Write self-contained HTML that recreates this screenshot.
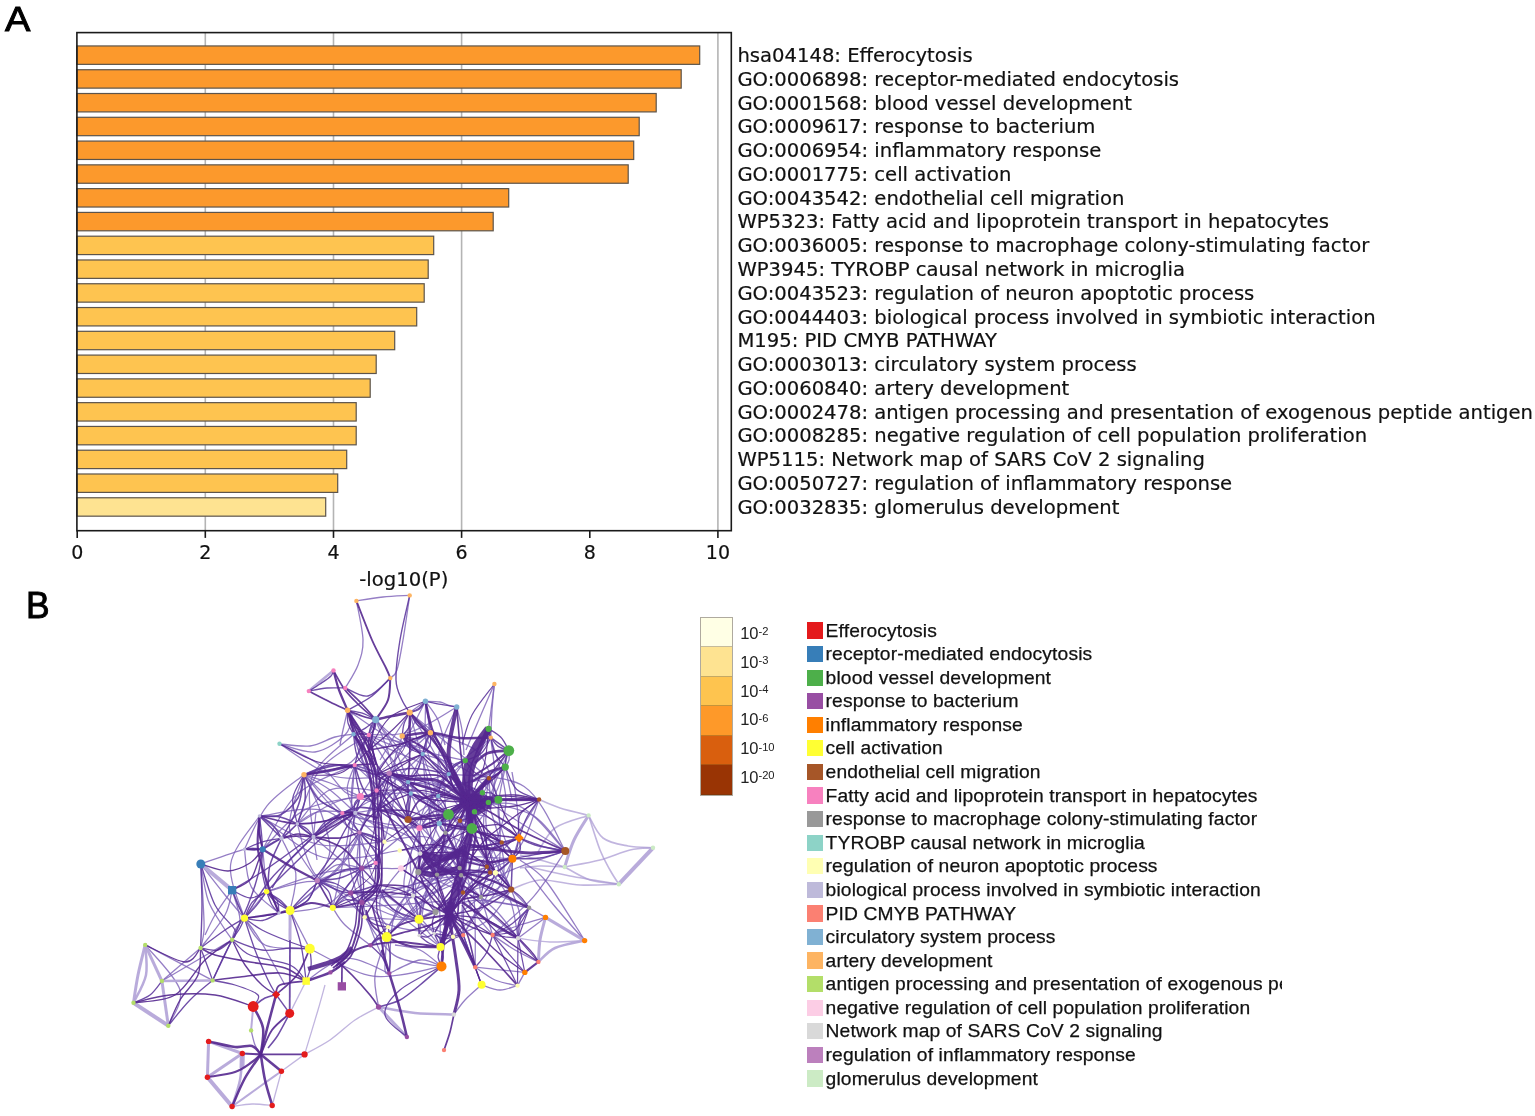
<!DOCTYPE html>
<html lang="en"><head><meta charset="utf-8"><title>Figure</title>
<style>
html,body{margin:0;padding:0;background:#fff;}
body{width:1535px;height:1116px;position:relative;overflow:hidden;font-family:"Liberation Sans",sans-serif;color:#000;}
.abs{position:absolute;white-space:nowrap;}
.panel{font-family:"Liberation Sans",sans-serif;font-size:35.6px;line-height:36px;-webkit-text-stroke:0.95px #000;}
.dv{font-family:"DejaVu Sans","Liberation Sans",sans-serif;font-size:19.6px;line-height:24px;color:#111;-webkit-text-stroke:0.2px #111;}
#ylabels{left:737.4px;top:44.1px;}
#ylabels div{height:23.78px;line-height:23.78px;}
.tick{font-size:19px;transform:translateX(-50%);}
#legend{left:807px;top:618.6px;width:475px;overflow:hidden;font-size:19.25px;letter-spacing:0.12px;color:#111;-webkit-text-stroke:0.25px #111;}
#legend div{height:23.58px;line-height:23.58px;position:relative;padding-left:18.6px;white-space:nowrap;}
#legend i{position:absolute;left:0;top:3.8px;width:15.6px;height:16.2px;display:block;}
#cbar{left:731px;top:640px;font-size:15px;}
svg{position:absolute;left:0;top:0;}
</style></head><body>

<svg width="1535" height="1116" viewBox="0 0 1535 1116">
<rect x="76.9" y="32.6" width="654.4" height="498.1" fill="#fff"/>
<line x1="205.3" y1="32.6" x2="205.3" y2="530.7" stroke="#b4b4b4" stroke-width="1.6"/>
<line x1="333.5" y1="32.6" x2="333.5" y2="530.7" stroke="#b4b4b4" stroke-width="1.6"/>
<line x1="461.6" y1="32.6" x2="461.6" y2="530.7" stroke="#b4b4b4" stroke-width="1.6"/>
<line x1="717.9" y1="32.6" x2="717.9" y2="530.7" stroke="#b4b4b4" stroke-width="1.6"/>
<rect x="76.9" y="45.95" width="622.8" height="18.4" fill="#fc992c" stroke="#5c544b" stroke-width="1.2"/>
<rect x="76.9" y="69.73" width="604.3" height="18.4" fill="#fc992c" stroke="#5c544b" stroke-width="1.2"/>
<rect x="76.9" y="93.51" width="579.3" height="18.4" fill="#fc992c" stroke="#5c544b" stroke-width="1.2"/>
<rect x="76.9" y="117.29" width="562.3" height="18.4" fill="#fc992c" stroke="#5c544b" stroke-width="1.2"/>
<rect x="76.9" y="141.07" width="556.8" height="18.4" fill="#fc992c" stroke="#5c544b" stroke-width="1.2"/>
<rect x="76.9" y="164.85" width="551.3" height="18.4" fill="#fc992c" stroke="#5c544b" stroke-width="1.2"/>
<rect x="76.9" y="188.63" width="431.8" height="18.4" fill="#fc992c" stroke="#5c544b" stroke-width="1.2"/>
<rect x="76.9" y="212.41" width="416.3" height="18.4" fill="#fc992c" stroke="#5c544b" stroke-width="1.2"/>
<rect x="76.9" y="236.19" width="356.8" height="18.4" fill="#fec450" stroke="#5c544b" stroke-width="1.2"/>
<rect x="76.9" y="259.97" width="351.3" height="18.4" fill="#fec450" stroke="#5c544b" stroke-width="1.2"/>
<rect x="76.9" y="283.75" width="347.3" height="18.4" fill="#fec450" stroke="#5c544b" stroke-width="1.2"/>
<rect x="76.9" y="307.53" width="339.8" height="18.4" fill="#fec450" stroke="#5c544b" stroke-width="1.2"/>
<rect x="76.9" y="331.31" width="317.8" height="18.4" fill="#fec450" stroke="#5c544b" stroke-width="1.2"/>
<rect x="76.9" y="355.09" width="299.3" height="18.4" fill="#fec450" stroke="#5c544b" stroke-width="1.2"/>
<rect x="76.9" y="378.87" width="293.3" height="18.4" fill="#fec450" stroke="#5c544b" stroke-width="1.2"/>
<rect x="76.9" y="402.65" width="279.3" height="18.4" fill="#fec450" stroke="#5c544b" stroke-width="1.2"/>
<rect x="76.9" y="426.43" width="279.3" height="18.4" fill="#fec450" stroke="#5c544b" stroke-width="1.2"/>
<rect x="76.9" y="450.21" width="269.8" height="18.4" fill="#fec450" stroke="#5c544b" stroke-width="1.2"/>
<rect x="76.9" y="473.99" width="260.8" height="18.4" fill="#fec450" stroke="#5c544b" stroke-width="1.2"/>
<rect x="76.9" y="497.77" width="248.8" height="18.4" fill="#fee391" stroke="#5c544b" stroke-width="1.2"/>
<rect x="76.9" y="32.6" width="654.4" height="498.1" fill="none" stroke="#1a1a1a" stroke-width="1.6"/>
<line x1="77.2" y1="530.7" x2="77.2" y2="537.9000000000001" stroke="#1a1a1a" stroke-width="1.6"/>
<line x1="205.3" y1="530.7" x2="205.3" y2="537.9000000000001" stroke="#1a1a1a" stroke-width="1.6"/>
<line x1="333.5" y1="530.7" x2="333.5" y2="537.9000000000001" stroke="#1a1a1a" stroke-width="1.6"/>
<line x1="461.6" y1="530.7" x2="461.6" y2="537.9000000000001" stroke="#1a1a1a" stroke-width="1.6"/>
<line x1="589.8" y1="530.7" x2="589.8" y2="537.9000000000001" stroke="#1a1a1a" stroke-width="1.6"/>
<line x1="717.9" y1="530.7" x2="717.9" y2="537.9000000000001" stroke="#1a1a1a" stroke-width="1.6"/>
<defs><filter id="nb" x="-5%" y="-5%" width="110%" height="110%"><feGaussianBlur stdDeviation="0.45"/></filter></defs><g filter="url(#nb)"><g fill="none" stroke-linecap="butt" stroke-linejoin="round">
<path d="M378.6 1007.0C374.7 1009.2 363.1 1014.5 355.0 1020.0C346.9 1025.5 338.4 1034.3 330.0 1040.0C321.6 1045.7 308.8 1052.0 304.6 1054.4" stroke="#a796d2" stroke-width="1.4" stroke-opacity="0.7"/>
<path d="M584.6 940.6C578.8 940.8 561.1 942.4 550.0 942.0C538.9 941.6 523.3 938.9 518.0 938.3" stroke="#a796d2" stroke-width="1.4" stroke-opacity="0.7"/>
<path d="M588.6 815.4C591.0 819.2 596.4 832.9 603.0 838.0C609.6 843.1 619.7 844.4 628.0 846.0C636.3 847.6 648.8 847.5 653.0 847.8" stroke="#a796d2" stroke-width="1.6" stroke-opacity="0.7"/>
<path d="M588.6 815.4C590.5 821.2 596.4 840.9 600.0 850.0C603.6 859.1 606.9 864.3 610.0 870.0C613.1 875.7 617.3 881.8 618.8 884.2" stroke="#a796d2" stroke-width="1.6" stroke-opacity="0.7"/>
<path d="M564.7 867.0C570.6 865.8 589.1 862.8 600.0 860.0C610.9 857.2 621.2 852.0 630.0 850.0C638.8 848.0 649.2 848.2 653.0 847.8" stroke="#a796d2" stroke-width="1.6" stroke-opacity="0.7"/>
<path d="M564.7 867.0C568.9 869.2 581.0 877.1 590.0 880.0C599.0 882.9 614.0 883.5 618.8 884.2" stroke="#a796d2" stroke-width="1.6" stroke-opacity="0.7"/>
<path d="M588.6 815.4C583.8 814.2 568.2 810.6 560.0 808.0C551.8 805.4 542.6 800.9 539.1 799.5" stroke="#a796d2" stroke-width="1.6" stroke-opacity="0.7"/>
<path d="M588.6 815.4C583.0 817.5 563.4 821.9 555.0 828.0C546.6 834.1 540.8 848.0 538.0 852.0" stroke="#a796d2" stroke-width="1.6" stroke-opacity="0.7"/>
<path d="M564.7 867.0C560.6 866.8 547.5 865.8 540.0 866.0C532.5 866.2 523.3 867.7 520.0 868.0" stroke="#a796d2" stroke-width="1.6" stroke-opacity="0.7"/>
<path d="M618.8 884.2C610.7 882.8 585.6 879.0 570.0 876.0C554.4 873.0 532.5 867.7 525.0 866.0" stroke="#a796d2" stroke-width="1.6" stroke-opacity="0.7"/>
<path d="M564.7 867.0C560.6 865.8 547.5 862.0 540.0 860.0C532.5 858.0 523.3 855.8 520.0 855.0" stroke="#a796d2" stroke-width="1.6" stroke-opacity="0.7"/>
<path d="M618.8 884.2C612.3 884.3 593.1 885.7 580.0 885.0C566.9 884.3 551.5 879.2 540.0 880.0C528.5 880.8 516.0 887.9 511.2 889.5" stroke="#a796d2" stroke-width="1.6" stroke-opacity="0.7"/>
<path d="M232.1 1106.5C235.4 1106.1 245.3 1104.2 252.0 1104.0C258.7 1103.8 268.8 1105.2 272.2 1105.5" stroke="#a796d2" stroke-width="1.3" stroke-opacity="0.7"/>
<path d="M281.4 1071.3L272.2 1105.5" stroke="#a796d2" stroke-width="1.3" stroke-opacity="0.7"/>
<path d="M304.6 1054.4C306.8 1047.0 314.6 1021.6 318.0 1010.0C321.4 998.4 323.8 989.2 325.0 985.0" stroke="#a796d2" stroke-width="1.3" stroke-opacity="0.7"/>
<path d="M304.6 1054.4L281.4 1071.3" stroke="#a796d2" stroke-width="1.3" stroke-opacity="0.7"/>
<path d="M306.1 981.0L289.7 1013.4" stroke="#a796d2" stroke-width="1.3" stroke-opacity="0.7"/>
<path d="M409.7 595.4C408.6 602.8 405.1 627.6 403.0 640.0C400.9 652.4 399.1 663.6 397.0 670.0C394.9 676.4 391.4 676.8 390.3 678.1" stroke="#7b5eb7" stroke-width="1.3" stroke-opacity="0.8"/>
<path d="M356.4 600.9C360.8 600.2 374.1 597.9 383.0 597.0C391.9 596.1 405.2 595.7 409.7 595.4" stroke="#7b5eb7" stroke-width="1.3" stroke-opacity="0.8"/>
<path d="M356.4 600.9C357.5 607.4 362.7 629.3 363.0 640.0C363.3 650.7 360.9 657.0 358.0 665.0C355.1 673.0 347.4 684.2 345.3 688.0" stroke="#7b5eb7" stroke-width="1.3" stroke-opacity="0.8"/>
<path d="M494.4 684.0L488.6 728.8" stroke="#7b5eb7" stroke-width="1.3" stroke-opacity="0.8"/>
<path d="M494.4 684.0C492.5 688.3 487.7 699.0 483.0 710.0C478.3 721.0 468.8 743.3 466.0 750.0" stroke="#7b5eb7" stroke-width="1.3" stroke-opacity="0.8"/>
<path d="M494.4 684.0C494.0 688.3 492.6 701.1 492.0 710.0C491.4 718.9 491.0 733.0 490.8 737.6" stroke="#7b5eb7" stroke-width="1.3" stroke-opacity="0.8"/>
<path d="M425.4 701.3C427.8 701.4 436.2 701.4 440.0 702.0C443.8 702.6 445.2 704.2 448.0 705.0C450.8 705.8 455.2 706.7 456.7 707.0" stroke="#7b5eb7" stroke-width="1.3" stroke-opacity="0.8"/>
<path d="M425.4 701.3L409.7 712.5" stroke="#7b5eb7" stroke-width="1.3" stroke-opacity="0.8"/>
<path d="M425.4 701.3L430.4 732.8" stroke="#7b5eb7" stroke-width="1.3" stroke-opacity="0.8"/>
<path d="M425.4 701.3C427.5 704.4 434.7 712.7 438.0 720.0C441.3 727.3 443.8 740.8 445.0 745.0" stroke="#7b5eb7" stroke-width="1.3" stroke-opacity="0.8"/>
<path d="M456.7 707.0C457.6 710.8 460.8 722.0 462.0 730.0C463.2 738.0 463.7 750.8 464.0 755.0" stroke="#7b5eb7" stroke-width="1.3" stroke-opacity="0.8"/>
<path d="M505.3 767.1C506.1 770.9 508.9 784.5 510.0 790.0C511.1 795.5 511.7 798.3 512.0 800.0" stroke="#7b5eb7" stroke-width="1.3" stroke-opacity="0.8"/>
<path d="M508.8 750.6C508.8 752.2 509.6 757.2 509.0 760.0C508.4 762.8 505.9 765.9 505.3 767.1" stroke="#7b5eb7" stroke-width="1.3" stroke-opacity="0.8"/>
<path d="M422.7 754.0L408.1 782.1" stroke="#7b5eb7" stroke-width="1.3" stroke-opacity="0.8"/>
<path d="M422.7 754.0L410.8 793.5" stroke="#7b5eb7" stroke-width="1.3" stroke-opacity="0.8"/>
<path d="M422.7 754.0L402.2 736.0" stroke="#7b5eb7" stroke-width="1.3" stroke-opacity="0.8"/>
<path d="M422.7 754.0L430.4 732.8" stroke="#7b5eb7" stroke-width="1.3" stroke-opacity="0.8"/>
<path d="M375.7 719.7C378.4 722.2 384.2 729.3 392.0 735.0C399.8 740.7 417.6 750.8 422.7 754.0" stroke="#7b5eb7" stroke-width="1.3" stroke-opacity="0.8"/>
<path d="M375.7 719.7C378.9 724.8 389.6 739.6 395.0 750.0C400.4 760.4 405.9 776.8 408.1 782.1" stroke="#7b5eb7" stroke-width="1.3" stroke-opacity="0.8"/>
<path d="M368.8 735.0C371.5 737.5 378.4 742.1 385.0 750.0C391.6 757.9 404.2 776.8 408.1 782.1" stroke="#7b5eb7" stroke-width="1.3" stroke-opacity="0.8"/>
<path d="M409.7 712.5C407.2 716.2 399.9 727.1 395.0 735.0C390.1 742.9 382.5 755.8 380.0 760.0" stroke="#7b5eb7" stroke-width="1.3" stroke-opacity="0.8"/>
<path d="M279.5 743.8C284.6 744.2 300.8 747.1 310.0 746.0C319.2 744.9 327.8 739.0 335.0 737.0C342.2 735.0 350.4 734.7 353.5 734.2" stroke="#7b5eb7" stroke-width="1.3" stroke-opacity="0.8"/>
<path d="M279.5 743.8C286.2 747.3 309.1 757.0 320.0 765.0C330.9 773.0 338.3 786.8 345.0 792.0C351.7 797.2 357.8 795.8 360.3 796.5" stroke="#7b5eb7" stroke-width="1.3" stroke-opacity="0.8"/>
<path d="M279.5 743.8C285.4 745.2 304.1 753.5 315.0 752.0C325.9 750.5 338.8 741.2 345.0 735.0C351.2 728.8 351.6 719.1 352.0 715.0C352.4 710.9 348.3 711.1 347.6 710.3" stroke="#7b5eb7" stroke-width="1.3" stroke-opacity="0.8"/>
<path d="M279.5 743.8C287.9 749.0 314.9 769.3 330.0 775.0C345.1 780.7 363.3 777.5 370.0 778.0" stroke="#7b5eb7" stroke-width="1.3" stroke-opacity="0.8"/>
<path d="M347.6 710.3C346.8 713.6 344.3 724.2 343.0 730.0C341.7 735.8 340.5 742.5 340.0 745.0" stroke="#7b5eb7" stroke-width="1.3" stroke-opacity="0.8"/>
<path d="M304.0 774.7C306.7 778.9 313.6 793.6 320.0 800.0C326.4 806.4 338.6 810.9 342.3 813.1" stroke="#7b5eb7" stroke-width="1.3" stroke-opacity="0.8"/>
<path d="M304.0 774.7C308.3 777.2 321.4 783.6 330.0 790.0C338.6 796.4 351.1 809.1 355.3 812.9" stroke="#7b5eb7" stroke-width="1.3" stroke-opacity="0.8"/>
<path d="M304.0 774.7C309.2 779.8 325.8 795.4 335.0 805.0C344.2 814.6 355.4 827.8 359.5 832.4" stroke="#7b5eb7" stroke-width="1.3" stroke-opacity="0.8"/>
<path d="M304.0 774.7C308.3 776.1 320.6 779.4 330.0 783.0C339.4 786.6 355.2 794.2 360.3 796.5" stroke="#7b5eb7" stroke-width="1.3" stroke-opacity="0.8"/>
<path d="M304.0 774.7C306.7 780.6 315.7 797.5 320.0 810.0C324.3 822.5 330.4 838.2 330.0 850.0C329.6 861.8 319.4 875.5 317.3 880.6" stroke="#7b5eb7" stroke-width="1.3" stroke-opacity="0.8"/>
<path d="M519.1 837.9C518.9 834.1 518.7 823.0 518.0 815.0C517.3 807.0 516.0 797.2 515.0 790.0C514.0 782.8 512.5 775.0 512.0 772.0" stroke="#7b5eb7" stroke-width="1.3" stroke-opacity="0.8"/>
<path d="M481.6 984.8C478.8 987.3 469.6 995.0 465.0 1000.0C460.4 1005.0 455.8 1012.1 453.9 1014.5" stroke="#7b5eb7" stroke-width="1.3" stroke-opacity="0.8"/>
<path d="M386.7 937.1C386.4 942.6 384.6 964.0 385.0 970.0C385.4 976.0 388.6 972.8 389.3 973.4" stroke="#7b5eb7" stroke-width="1.3" stroke-opacity="0.8"/>
<path d="M386.7 937.1C384.8 943.4 376.4 963.4 375.0 975.0C373.6 986.6 378.0 1001.7 378.6 1007.0" stroke="#7b5eb7" stroke-width="1.3" stroke-opacity="0.8"/>
<path d="M389.3 973.4C394.4 971.2 411.3 961.2 420.0 960.0C428.7 958.8 437.9 965.3 441.5 966.4" stroke="#7b5eb7" stroke-width="1.3" stroke-opacity="0.8"/>
<path d="M441.5 966.4C437.9 963.7 427.8 953.6 420.0 950.0C412.2 946.4 399.2 945.8 395.0 945.0" stroke="#7b5eb7" stroke-width="1.3" stroke-opacity="0.8"/>
<path d="M545.5 917.4L529.1 907.8" stroke="#7b5eb7" stroke-width="1.3" stroke-opacity="0.8"/>
<path d="M525.0 868.0C529.5 873.8 542.1 890.9 552.0 903.0C561.9 915.1 579.2 934.3 584.6 940.6" stroke="#7b5eb7" stroke-width="1.3" stroke-opacity="0.8"/>
<path d="M520.0 860.0C524.2 863.3 535.8 869.2 545.0 880.0C554.2 890.8 568.4 914.9 575.0 925.0C581.6 935.1 583.0 938.0 584.6 940.6" stroke="#7b5eb7" stroke-width="1.3" stroke-opacity="0.8"/>
<path d="M524.8 972.4L517.5 985.6" stroke="#7b5eb7" stroke-width="1.3" stroke-opacity="0.8"/>
<path d="M517.5 985.6C514.6 986.3 506.0 990.1 500.0 990.0C494.0 989.9 484.7 985.7 481.6 984.8" stroke="#7b5eb7" stroke-width="1.3" stroke-opacity="0.8"/>
<path d="M511.2 889.5L529.1 907.8" stroke="#7b5eb7" stroke-width="1.3" stroke-opacity="0.8"/>
<path d="M511.2 889.5C512.7 893.8 518.9 906.9 520.0 915.0C521.1 923.1 518.3 934.4 518.0 938.3" stroke="#7b5eb7" stroke-width="1.3" stroke-opacity="0.8"/>
<path d="M481.0 897.0L492.6 935.0" stroke="#7b5eb7" stroke-width="1.3" stroke-opacity="0.8"/>
<path d="M481.0 897.0C484.2 900.0 493.8 908.1 500.0 915.0C506.2 921.9 515.0 934.4 518.0 938.3" stroke="#7b5eb7" stroke-width="1.3" stroke-opacity="0.8"/>
<path d="M545.5 917.4C541.2 918.7 528.8 922.1 520.0 925.0C511.2 927.9 497.2 933.3 492.6 935.0" stroke="#7b5eb7" stroke-width="1.3" stroke-opacity="0.8"/>
<path d="M545.5 917.4L518.0 938.3" stroke="#7b5eb7" stroke-width="1.3" stroke-opacity="0.8"/>
<path d="M492.6 935.0C496.3 937.5 507.4 945.5 515.0 950.0C522.6 954.5 534.5 959.9 538.4 961.9" stroke="#7b5eb7" stroke-width="1.3" stroke-opacity="0.8"/>
<path d="M463.2 935.1L475.3 967.2" stroke="#7b5eb7" stroke-width="1.3" stroke-opacity="0.8"/>
<path d="M475.3 967.2L524.8 972.4" stroke="#7b5eb7" stroke-width="1.3" stroke-opacity="0.8"/>
<path d="M475.3 967.2C478.6 969.3 488.0 976.9 495.0 980.0C502.0 983.1 513.8 984.7 517.5 985.6" stroke="#7b5eb7" stroke-width="1.3" stroke-opacity="0.8"/>
<path d="M200.8 864.0C208.1 861.5 234.2 851.8 244.5 849.3C254.8 846.8 259.7 849.3 262.7 849.3" stroke="#7b5eb7" stroke-width="1.3" stroke-opacity="0.8"/>
<path d="M200.8 864.0C201.2 870.0 202.5 889.0 203.0 900.0C203.5 911.0 204.4 922.0 204.0 930.0C203.6 938.0 201.2 945.0 200.6 948.0" stroke="#7b5eb7" stroke-width="1.3" stroke-opacity="0.8"/>
<path d="M200.8 864.0C202.0 870.0 204.5 889.8 208.0 900.0C211.5 910.2 218.0 918.4 222.0 925.0C226.0 931.6 230.4 937.2 232.1 939.7" stroke="#7b5eb7" stroke-width="1.3" stroke-opacity="0.8"/>
<path d="M232.1 890.1L244.5 918.2" stroke="#7b5eb7" stroke-width="1.3" stroke-opacity="0.8"/>
<path d="M232.1 890.1C230.9 894.2 230.2 905.4 225.0 915.0C219.8 924.6 204.7 942.5 200.6 948.0" stroke="#7b5eb7" stroke-width="1.3" stroke-opacity="0.8"/>
<path d="M232.1 890.1C229.2 894.2 219.5 907.5 215.0 915.0C210.5 922.5 206.7 931.7 205.0 935.0" stroke="#7b5eb7" stroke-width="1.3" stroke-opacity="0.8"/>
<path d="M200.8 864.0C204.8 869.2 217.7 886.0 225.0 895.0C232.3 904.0 241.2 914.3 244.5 918.2" stroke="#7b5eb7" stroke-width="1.3" stroke-opacity="0.8"/>
<path d="M232.1 890.1C233.4 895.1 240.0 911.7 240.0 920.0C240.0 928.3 233.4 936.4 232.1 939.7" stroke="#7b5eb7" stroke-width="1.3" stroke-opacity="0.8"/>
<path d="M309.8 948.8L290.1 910.5" stroke="#7b5eb7" stroke-width="1.3" stroke-opacity="0.8"/>
<path d="M266.6 891.6L290.1 910.5" stroke="#7b5eb7" stroke-width="1.3" stroke-opacity="0.8"/>
<path d="M266.6 891.6L244.5 918.2" stroke="#7b5eb7" stroke-width="1.3" stroke-opacity="0.8"/>
<path d="M266.6 891.6L262.7 849.3" stroke="#7b5eb7" stroke-width="1.3" stroke-opacity="0.8"/>
<path d="M244.5 918.2C247.1 921.8 253.2 928.9 260.0 940.0C266.8 951.1 280.8 977.5 285.0 985.0" stroke="#7b5eb7" stroke-width="1.3" stroke-opacity="0.8"/>
<path d="M244.5 918.2C247.9 922.7 254.1 939.9 265.0 945.0C275.9 950.1 302.3 948.2 309.8 948.8" stroke="#7b5eb7" stroke-width="1.3" stroke-opacity="0.8"/>
<path d="M244.5 918.2C242.9 920.2 237.1 926.4 235.0 930.0C232.9 933.6 232.6 938.1 232.1 939.7" stroke="#7b5eb7" stroke-width="1.3" stroke-opacity="0.8"/>
<path d="M332.8 907.8L350.7 893.0" stroke="#7b5eb7" stroke-width="1.3" stroke-opacity="0.8"/>
<path d="M332.8 907.8C334.8 910.7 338.7 918.8 345.0 925.0C351.3 931.2 366.2 941.9 370.4 945.3" stroke="#7b5eb7" stroke-width="1.3" stroke-opacity="0.8"/>
<path d="M145.2 944.9L212.6 980.4" stroke="#7b5eb7" stroke-width="1.3" stroke-opacity="0.8"/>
<path d="M161.9 981.0L200.6 948.0" stroke="#7b5eb7" stroke-width="1.3" stroke-opacity="0.8"/>
<path d="M161.9 981.0L232.1 939.7" stroke="#7b5eb7" stroke-width="1.3" stroke-opacity="0.8"/>
<path d="M145.2 944.9C151.0 952.4 176.2 976.5 180.0 990.0C183.8 1003.5 170.2 1019.8 168.3 1025.7" stroke="#7b5eb7" stroke-width="1.3" stroke-opacity="0.8"/>
<path d="M251.1 1030.4C251.8 1032.8 253.4 1041.0 255.0 1045.0C256.6 1049.0 259.8 1052.8 260.8 1054.4" stroke="#7b5eb7" stroke-width="1.3" stroke-opacity="0.8"/>
<path d="M313.5 837.0L316.0 812.0" stroke="#7b5eb7" stroke-width="1.2" stroke-opacity="0.8"/>
<path d="M313.5 837.0L317.0 860.0" stroke="#7b5eb7" stroke-width="1.2" stroke-opacity="0.8"/>
<path d="M425.4 701.3C419.9 712.2 403.2 744.9 392.3 766.8C381.3 788.6 365.0 821.5 359.5 832.4" stroke="#7b5eb7" stroke-width="1.25" stroke-opacity="0.8"/>
<path d="M425.4 701.3C426.0 705.7 429.5 719.1 429.1 727.9C428.6 736.7 423.8 749.7 422.7 754.0" stroke="#7b5eb7" stroke-width="1.25" stroke-opacity="0.8"/>
<path d="M409.7 712.5C412.2 721.7 419.9 749.4 424.8 767.9C429.7 786.4 436.9 814.2 439.3 823.5" stroke="#7b5eb7" stroke-width="1.25" stroke-opacity="0.8"/>
<path d="M347.6 710.3C353.4 721.5 365.8 759.9 382.6 777.3C399.5 794.6 437.5 808.2 448.5 814.4" stroke="#7b5eb7" stroke-width="1.25" stroke-opacity="0.8"/>
<path d="M375.7 719.7C381.9 727.5 400.5 750.9 412.6 766.6C424.8 782.4 442.5 806.4 448.5 814.4" stroke="#7b5eb7" stroke-width="1.25" stroke-opacity="0.8"/>
<path d="M375.7 719.7C373.4 725.6 361.6 743.5 361.7 755.3C361.9 767.1 374.1 784.6 376.6 790.5" stroke="#7b5eb7" stroke-width="1.25" stroke-opacity="0.8"/>
<path d="M353.5 734.2C364.4 738.8 397.3 751.9 418.8 761.7C440.3 771.4 471.8 787.6 482.4 792.8" stroke="#7b5eb7" stroke-width="1.25" stroke-opacity="0.8"/>
<path d="M353.5 734.2C362.6 733.9 391.0 737.0 408.2 732.5C425.4 728.0 448.6 711.3 456.7 707.0" stroke="#7b5eb7" stroke-width="1.25" stroke-opacity="0.8"/>
<path d="M368.8 735.0C360.7 740.7 332.2 754.3 320.3 769.2C308.3 784.0 301.1 814.8 297.3 823.9" stroke="#7b5eb7" stroke-width="1.25" stroke-opacity="0.8"/>
<path d="M368.8 735.0C380.8 739.0 423.8 743.4 441.0 759.0C458.2 774.5 466.8 816.9 471.9 828.5" stroke="#7b5eb7" stroke-width="1.25" stroke-opacity="0.8"/>
<path d="M402.2 736.0C400.9 741.1 393.1 757.0 394.5 766.5C396.0 776.1 408.1 789.0 410.8 793.5" stroke="#7b5eb7" stroke-width="1.25" stroke-opacity="0.8"/>
<path d="M430.4 732.8C425.6 737.4 410.9 750.5 401.9 760.2C392.9 769.8 380.8 785.4 376.6 790.5" stroke="#7b5eb7" stroke-width="1.25" stroke-opacity="0.8"/>
<path d="M430.4 732.8C425.3 735.1 410.3 746.3 400.1 746.6C389.8 747.0 374.0 736.9 368.8 735.0" stroke="#7b5eb7" stroke-width="1.25" stroke-opacity="0.8"/>
<path d="M422.7 754.0C425.4 763.9 439.6 794.0 438.9 813.7C438.1 833.4 421.7 862.3 418.3 872.0" stroke="#7b5eb7" stroke-width="1.25" stroke-opacity="0.8"/>
<path d="M422.7 754.0C429.7 756.6 452.3 761.9 465.0 769.5C477.6 777.2 492.8 794.7 498.4 799.7" stroke="#7b5eb7" stroke-width="1.25" stroke-opacity="0.8"/>
<path d="M354.7 765.1C366.7 770.4 409.1 779.6 426.6 796.8C444.0 813.9 454.1 856.1 459.6 868.0" stroke="#7b5eb7" stroke-width="1.25" stroke-opacity="0.8"/>
<path d="M354.7 765.1C353.5 769.1 347.1 781.1 347.2 789.1C347.3 797.1 354.0 808.9 355.3 812.9" stroke="#7b5eb7" stroke-width="1.25" stroke-opacity="0.8"/>
<path d="M304.0 774.7C301.6 784.0 287.4 812.6 289.6 830.3C291.9 847.9 312.7 872.2 317.3 880.6" stroke="#7b5eb7" stroke-width="1.25" stroke-opacity="0.8"/>
<path d="M304.0 774.7C311.9 772.6 339.3 771.2 351.2 762.0C363.2 752.8 371.6 726.8 375.7 719.7" stroke="#7b5eb7" stroke-width="1.25" stroke-opacity="0.8"/>
<path d="M389.2 773.2C396.9 775.0 420.1 780.6 435.6 783.9C451.1 787.2 474.6 791.3 482.4 792.8" stroke="#7b5eb7" stroke-width="1.25" stroke-opacity="0.8"/>
<path d="M408.1 782.1C416.5 782.6 442.1 787.3 458.3 784.8C474.5 782.3 497.5 770.1 505.3 767.1" stroke="#7b5eb7" stroke-width="1.25" stroke-opacity="0.8"/>
<path d="M408.1 782.1C404.5 786.0 395.2 800.4 386.4 805.5C377.6 810.6 360.5 811.7 355.3 812.9" stroke="#7b5eb7" stroke-width="1.25" stroke-opacity="0.8"/>
<path d="M490.8 737.6C491.0 747.4 499.3 780.6 491.8 796.4C484.2 812.3 453.2 826.7 445.5 832.7" stroke="#7b5eb7" stroke-width="1.25" stroke-opacity="0.8"/>
<path d="M490.8 737.6C486.3 744.6 466.7 764.2 463.6 779.3C460.4 794.5 470.5 820.3 471.9 828.5" stroke="#7b5eb7" stroke-width="1.25" stroke-opacity="0.8"/>
<path d="M448.7 774.1C436.8 778.0 399.8 786.7 377.2 797.2C354.7 807.7 324.1 830.4 313.5 837.0" stroke="#7b5eb7" stroke-width="1.25" stroke-opacity="0.8"/>
<path d="M448.7 774.1C461.3 776.2 504.7 773.7 524.1 786.5C543.6 799.4 558.4 840.3 565.3 851.0" stroke="#7b5eb7" stroke-width="1.25" stroke-opacity="0.8"/>
<path d="M410.8 793.5C419.8 798.1 447.8 810.3 464.8 821.2C481.7 832.1 504.5 852.5 512.4 858.8" stroke="#7b5eb7" stroke-width="1.25" stroke-opacity="0.8"/>
<path d="M410.8 793.5C415.4 803.0 426.4 833.3 438.1 850.5C449.8 867.8 473.9 889.3 481.0 897.0" stroke="#7b5eb7" stroke-width="1.25" stroke-opacity="0.8"/>
<path d="M438.2 796.0C427.2 792.5 387.4 789.2 372.3 774.9C357.2 760.6 351.7 721.1 347.6 710.3" stroke="#7b5eb7" stroke-width="1.25" stroke-opacity="0.8"/>
<path d="M438.2 796.0C438.4 788.3 436.4 764.7 439.5 749.9C442.6 735.0 453.8 714.1 456.7 707.0" stroke="#7b5eb7" stroke-width="1.25" stroke-opacity="0.8"/>
<path d="M439.3 823.5C447.7 819.9 478.2 814.2 489.7 802.0C501.3 789.9 505.6 759.2 508.8 750.6" stroke="#7b5eb7" stroke-width="1.25" stroke-opacity="0.8"/>
<path d="M439.3 823.5C447.2 819.7 470.0 804.7 486.6 800.7C503.2 796.7 530.4 799.7 539.1 799.5" stroke="#7b5eb7" stroke-width="1.25" stroke-opacity="0.8"/>
<path d="M508.8 750.6C505.7 755.6 495.9 770.2 490.2 780.3C484.5 790.5 477.1 806.5 474.5 811.7" stroke="#7b5eb7" stroke-width="1.25" stroke-opacity="0.8"/>
<path d="M508.8 750.6C505.0 762.2 485.4 797.3 485.8 820.5C486.2 843.6 507.0 878.0 511.2 889.5" stroke="#7b5eb7" stroke-width="1.25" stroke-opacity="0.8"/>
<path d="M465.3 760.6C454.8 757.9 422.2 753.0 402.5 744.6C382.9 736.2 356.8 716.0 347.6 710.3" stroke="#7b5eb7" stroke-width="1.25" stroke-opacity="0.8"/>
<path d="M465.3 760.6C457.6 770.5 436.3 801.8 419.0 819.8C401.8 837.7 371.3 860.2 361.7 868.3" stroke="#7b5eb7" stroke-width="1.25" stroke-opacity="0.8"/>
<path d="M505.3 767.1C504.1 774.9 497.1 798.5 498.2 813.8C499.4 829.1 510.0 851.3 512.4 858.8" stroke="#7b5eb7" stroke-width="1.25" stroke-opacity="0.8"/>
<path d="M482.4 792.8C473.9 787.5 440.7 776.4 431.2 761.2C421.7 745.9 426.4 711.3 425.4 701.3" stroke="#7b5eb7" stroke-width="1.25" stroke-opacity="0.8"/>
<path d="M482.4 792.8C476.6 800.2 461.5 824.7 447.9 837.3C434.3 849.9 408.8 863.2 401.0 868.4" stroke="#7b5eb7" stroke-width="1.25" stroke-opacity="0.8"/>
<path d="M498.4 799.7C498.3 811.7 503.6 849.2 497.7 871.8C491.8 894.4 468.9 924.5 463.2 935.1" stroke="#7b5eb7" stroke-width="1.25" stroke-opacity="0.8"/>
<path d="M498.4 799.7C495.0 791.8 489.4 763.5 478.1 752.3C466.8 741.2 438.4 736.1 430.4 732.8" stroke="#7b5eb7" stroke-width="1.25" stroke-opacity="0.8"/>
<path d="M488.4 802.4C481.7 801.9 459.5 795.0 448.0 799.2C436.5 803.5 424.2 823.2 419.4 828.0" stroke="#7b5eb7" stroke-width="1.25" stroke-opacity="0.8"/>
<path d="M488.4 802.4C495.9 804.7 520.8 807.8 533.7 815.9C546.5 824.0 560.0 845.2 565.3 851.0" stroke="#7b5eb7" stroke-width="1.25" stroke-opacity="0.8"/>
<path d="M448.5 814.4C452.3 817.9 462.7 830.5 471.6 835.1C480.4 839.8 496.7 841.2 501.7 842.4" stroke="#7b5eb7" stroke-width="1.25" stroke-opacity="0.8"/>
<path d="M448.5 814.4C452.1 824.9 456.8 861.5 470.2 877.1C483.7 892.7 519.3 902.7 529.1 907.8" stroke="#7b5eb7" stroke-width="1.25" stroke-opacity="0.8"/>
<path d="M474.5 811.7C467.0 822.7 450.0 864.3 429.3 877.8C408.7 891.4 363.8 890.5 350.7 893.0" stroke="#7b5eb7" stroke-width="1.25" stroke-opacity="0.8"/>
<path d="M474.5 811.7C468.5 820.0 448.0 843.4 438.7 861.4C429.5 879.3 422.3 909.6 419.0 919.3" stroke="#7b5eb7" stroke-width="1.25" stroke-opacity="0.8"/>
<path d="M471.9 828.5C466.7 821.3 454.6 794.7 440.9 785.4C427.1 776.2 397.8 775.2 389.2 773.2" stroke="#7b5eb7" stroke-width="1.25" stroke-opacity="0.8"/>
<path d="M471.9 828.5C461.6 822.5 427.6 808.3 410.4 792.8C393.2 777.2 375.7 744.6 368.8 735.0" stroke="#7b5eb7" stroke-width="1.25" stroke-opacity="0.8"/>
<path d="M488.9 778.3C488.9 783.0 491.5 797.8 488.7 806.2C485.8 814.6 474.7 824.8 471.9 828.5" stroke="#7b5eb7" stroke-width="1.25" stroke-opacity="0.8"/>
<path d="M488.9 778.3C482.3 772.8 462.7 756.1 449.5 745.2C436.3 734.2 416.3 717.9 409.7 712.5" stroke="#7b5eb7" stroke-width="1.25" stroke-opacity="0.8"/>
<path d="M539.1 799.5C535.1 808.4 527.9 840.0 514.9 852.6C501.9 865.2 470.1 871.4 461.1 875.2" stroke="#7b5eb7" stroke-width="1.25" stroke-opacity="0.8"/>
<path d="M539.1 799.5C535.2 805.5 524.6 824.2 515.9 835.4C507.2 846.6 491.6 861.5 486.8 866.7" stroke="#7b5eb7" stroke-width="1.25" stroke-opacity="0.8"/>
<path d="M460.0 820.8C455.1 829.8 437.4 855.8 430.6 874.9C423.8 894.1 421.1 925.4 419.2 935.5" stroke="#7b5eb7" stroke-width="1.25" stroke-opacity="0.8"/>
<path d="M460.0 820.8C462.3 832.9 471.0 869.0 473.6 893.4C476.1 917.8 475.0 954.9 475.3 967.2" stroke="#7b5eb7" stroke-width="1.25" stroke-opacity="0.8"/>
<path d="M408.1 819.5C415.8 814.3 437.9 797.3 454.1 788.6C470.3 779.8 496.8 770.7 505.3 767.1" stroke="#7b5eb7" stroke-width="1.25" stroke-opacity="0.8"/>
<path d="M408.1 819.5C402.0 813.4 380.8 796.9 371.7 782.7C362.6 768.5 356.5 742.3 353.5 734.2" stroke="#7b5eb7" stroke-width="1.25" stroke-opacity="0.8"/>
<path d="M501.7 842.4C498.1 846.2 483.3 856.2 479.8 865.3C476.4 874.4 480.8 891.7 481.0 897.0" stroke="#7b5eb7" stroke-width="1.25" stroke-opacity="0.8"/>
<path d="M501.7 842.4C496.8 842.9 481.6 847.3 472.2 845.7C462.8 844.1 449.9 834.9 445.5 832.7" stroke="#7b5eb7" stroke-width="1.25" stroke-opacity="0.8"/>
<path d="M565.3 851.0C555.5 844.8 525.7 826.5 506.2 813.7C486.8 800.9 458.3 780.7 448.7 774.1" stroke="#7b5eb7" stroke-width="1.25" stroke-opacity="0.8"/>
<path d="M565.3 851.0C557.0 843.3 535.2 810.7 515.7 804.6C496.2 798.5 459.7 812.8 448.5 814.4" stroke="#7b5eb7" stroke-width="1.25" stroke-opacity="0.8"/>
<path d="M486.8 866.7C490.0 856.0 505.2 824.2 505.9 802.7C506.6 781.2 493.3 748.4 490.8 737.6" stroke="#7b5eb7" stroke-width="1.25" stroke-opacity="0.8"/>
<path d="M486.8 866.7C481.3 865.1 465.1 859.6 454.0 857.4C442.9 855.2 425.8 854.1 420.2 853.5" stroke="#7b5eb7" stroke-width="1.25" stroke-opacity="0.8"/>
<path d="M490.1 872.5C486.6 861.9 482.8 824.2 469.2 809.1C455.5 794.0 418.3 786.6 408.1 782.1" stroke="#7b5eb7" stroke-width="1.25" stroke-opacity="0.8"/>
<path d="M490.1 872.5C484.1 872.4 466.2 872.1 454.2 872.0C442.2 872.0 424.3 872.0 418.3 872.0" stroke="#7b5eb7" stroke-width="1.25" stroke-opacity="0.8"/>
<path d="M511.2 889.5C507.3 894.6 497.6 912.3 487.9 920.2C478.2 928.1 458.8 933.9 453.0 936.7" stroke="#7b5eb7" stroke-width="1.25" stroke-opacity="0.8"/>
<path d="M511.2 889.5C506.7 880.8 488.2 855.6 484.4 837.0C480.7 818.5 488.2 788.1 488.9 778.3" stroke="#7b5eb7" stroke-width="1.25" stroke-opacity="0.8"/>
<path d="M463.0 892.5C471.4 888.7 496.2 876.4 513.2 869.4C530.3 862.5 556.6 854.1 565.3 851.0" stroke="#7b5eb7" stroke-width="1.25" stroke-opacity="0.8"/>
<path d="M463.0 892.5C455.4 896.7 433.5 913.8 417.1 917.9C400.7 922.0 373.4 917.3 364.7 917.2" stroke="#7b5eb7" stroke-width="1.25" stroke-opacity="0.8"/>
<path d="M419.4 828.0C416.9 838.7 400.8 872.2 404.3 892.1C407.8 911.9 434.5 937.9 440.5 947.1" stroke="#7b5eb7" stroke-width="1.25" stroke-opacity="0.8"/>
<path d="M419.4 828.0C408.2 827.0 371.4 830.9 352.2 822.0C332.9 813.1 312.0 782.6 304.0 774.7" stroke="#7b5eb7" stroke-width="1.25" stroke-opacity="0.8"/>
<path d="M360.3 796.5C371.1 795.4 403.6 793.2 425.0 790.2C446.4 787.2 478.2 780.3 488.9 778.3" stroke="#7b5eb7" stroke-width="1.25" stroke-opacity="0.8"/>
<path d="M360.3 796.5C365.0 789.9 376.7 767.6 388.4 757.0C400.1 746.4 423.4 736.8 430.4 732.8" stroke="#7b5eb7" stroke-width="1.25" stroke-opacity="0.8"/>
<path d="M342.3 813.1C353.0 816.8 386.6 824.7 406.4 835.1C426.2 845.4 452.0 868.5 461.1 875.2" stroke="#7b5eb7" stroke-width="1.25" stroke-opacity="0.8"/>
<path d="M342.3 813.1C348.7 814.7 367.6 820.4 380.4 822.8C393.3 825.3 412.9 827.1 419.4 828.0" stroke="#7b5eb7" stroke-width="1.25" stroke-opacity="0.8"/>
<path d="M375.6 862.9C367.8 854.4 348.1 819.6 328.7 811.8C309.4 804.0 271.0 815.3 259.5 816.0" stroke="#7b5eb7" stroke-width="1.25" stroke-opacity="0.8"/>
<path d="M375.6 862.9C376.4 852.5 372.8 818.6 380.6 800.4C388.5 782.3 415.7 761.7 422.7 754.0" stroke="#7b5eb7" stroke-width="1.25" stroke-opacity="0.8"/>
<path d="M376.6 790.5C371.5 802.0 360.5 839.7 346.1 859.7C331.6 879.7 299.4 902.0 290.1 910.5" stroke="#7b5eb7" stroke-width="1.25" stroke-opacity="0.8"/>
<path d="M376.6 790.5C368.8 790.4 342.9 784.5 329.7 790.0C316.5 795.6 302.7 818.3 297.3 823.9" stroke="#7b5eb7" stroke-width="1.25" stroke-opacity="0.8"/>
<path d="M519.1 837.9C512.9 834.1 495.3 817.7 482.0 815.3C468.7 812.9 446.4 822.1 439.3 823.5" stroke="#7b5eb7" stroke-width="1.25" stroke-opacity="0.8"/>
<path d="M519.1 837.9C516.4 844.4 512.0 868.0 502.7 877.1C493.3 886.2 469.6 889.9 463.0 892.5" stroke="#7b5eb7" stroke-width="1.25" stroke-opacity="0.8"/>
<path d="M512.4 858.8C499.3 859.4 454.3 851.3 433.6 862.7C412.8 874.0 395.6 916.4 388.0 927.1" stroke="#7b5eb7" stroke-width="1.25" stroke-opacity="0.8"/>
<path d="M512.4 858.8C510.9 862.9 508.9 877.2 503.6 883.6C498.4 890.0 484.8 894.8 481.0 897.0" stroke="#7b5eb7" stroke-width="1.25" stroke-opacity="0.8"/>
<path d="M441.5 966.4C433.7 964.6 407.2 963.6 394.4 955.4C381.6 947.2 369.7 923.6 364.7 917.2" stroke="#7b5eb7" stroke-width="1.25" stroke-opacity="0.8"/>
<path d="M495.4 872.7C492.3 868.5 482.9 855.9 477.0 847.2C471.1 838.6 462.8 825.2 460.0 820.8" stroke="#7b5eb7" stroke-width="1.25" stroke-opacity="0.8"/>
<path d="M495.4 872.7C484.0 874.0 449.3 875.6 427.0 880.6C404.8 885.6 372.7 898.9 361.8 902.5" stroke="#7b5eb7" stroke-width="1.25" stroke-opacity="0.8"/>
<path d="M364.7 917.2C362.0 907.2 349.3 877.5 348.5 857.4C347.8 837.2 358.3 806.6 360.3 796.5" stroke="#7b5eb7" stroke-width="1.25" stroke-opacity="0.8"/>
<path d="M384.5 841.7C379.3 836.4 358.0 822.6 353.1 809.8C348.1 797.1 354.4 772.6 354.7 765.1" stroke="#7b5eb7" stroke-width="1.25" stroke-opacity="0.8"/>
<path d="M384.5 841.7C386.3 831.4 396.5 800.0 395.0 779.6C393.6 759.3 378.9 729.7 375.7 719.7" stroke="#7b5eb7" stroke-width="1.25" stroke-opacity="0.8"/>
<path d="M399.7 850.5C407.3 850.1 430.7 845.2 445.2 847.9C459.8 850.6 479.9 863.6 486.8 866.7" stroke="#7b5eb7" stroke-width="1.25" stroke-opacity="0.8"/>
<path d="M388.0 927.1C392.9 921.1 405.4 899.9 417.5 891.3C429.7 882.6 453.8 877.9 461.1 875.2" stroke="#7b5eb7" stroke-width="1.25" stroke-opacity="0.8"/>
<path d="M388.0 927.1C383.1 920.0 363.3 900.1 358.6 884.3C353.8 868.5 359.3 841.1 359.5 832.4" stroke="#7b5eb7" stroke-width="1.25" stroke-opacity="0.8"/>
<path d="M453.0 936.7C441.8 931.0 401.6 920.0 386.1 902.7C370.5 885.3 363.9 844.1 359.5 832.4" stroke="#7b5eb7" stroke-width="1.25" stroke-opacity="0.8"/>
<path d="M453.0 936.7C461.3 926.9 497.0 900.4 502.9 878.0C508.8 855.7 490.8 815.0 488.4 802.4" stroke="#7b5eb7" stroke-width="1.25" stroke-opacity="0.8"/>
<path d="M529.1 907.8C519.7 906.6 491.1 898.8 472.7 900.7C454.4 902.6 428.0 916.2 419.0 919.3" stroke="#7b5eb7" stroke-width="1.25" stroke-opacity="0.8"/>
<path d="M529.1 907.8C517.4 904.7 477.2 902.3 458.9 889.0C440.6 875.7 426.0 838.2 419.4 828.0" stroke="#7b5eb7" stroke-width="1.25" stroke-opacity="0.8"/>
<path d="M481.0 897.0C468.7 898.2 431.7 902.4 407.0 904.2C382.3 906.0 345.2 907.2 332.8 907.8" stroke="#7b5eb7" stroke-width="1.25" stroke-opacity="0.8"/>
<path d="M481.0 897.0C472.0 902.6 446.3 926.9 426.9 930.3C407.5 933.7 375.1 919.4 364.7 917.2" stroke="#7b5eb7" stroke-width="1.25" stroke-opacity="0.8"/>
<path d="M459.6 868.0C451.1 859.1 426.4 831.9 408.9 814.8C391.4 797.6 363.7 773.4 354.7 765.1" stroke="#7b5eb7" stroke-width="1.25" stroke-opacity="0.8"/>
<path d="M459.6 868.0C454.4 862.9 440.6 841.9 428.1 837.5C415.6 833.1 391.8 841.0 384.5 841.7" stroke="#7b5eb7" stroke-width="1.25" stroke-opacity="0.8"/>
<path d="M461.1 875.2C454.3 879.6 432.6 891.4 420.2 901.8C407.8 912.1 392.3 931.2 386.7 937.1" stroke="#7b5eb7" stroke-width="1.25" stroke-opacity="0.8"/>
<path d="M461.1 875.2C456.1 865.7 437.4 838.2 431.0 818.0C424.6 797.8 424.1 764.7 422.7 754.0" stroke="#7b5eb7" stroke-width="1.25" stroke-opacity="0.8"/>
<path d="M437.0 874.6C434.8 878.1 426.9 887.9 423.9 895.3C420.9 902.8 419.8 915.3 419.0 919.3" stroke="#7b5eb7" stroke-width="1.25" stroke-opacity="0.8"/>
<path d="M437.0 874.6C436.3 861.1 423.7 816.7 432.7 793.9C441.7 771.0 481.1 747.0 490.8 737.6" stroke="#7b5eb7" stroke-width="1.25" stroke-opacity="0.8"/>
<path d="M418.3 872.0C422.0 873.7 433.2 878.9 440.6 882.3C448.1 885.8 459.3 890.8 463.0 892.5" stroke="#7b5eb7" stroke-width="1.25" stroke-opacity="0.8"/>
<path d="M418.3 872.0C419.2 861.5 416.1 827.3 423.9 808.8C431.7 790.2 458.4 768.6 465.3 760.6" stroke="#7b5eb7" stroke-width="1.25" stroke-opacity="0.8"/>
<path d="M445.5 832.7C444.8 822.0 447.0 788.6 441.1 768.6C435.1 748.6 414.9 721.8 409.7 712.5" stroke="#7b5eb7" stroke-width="1.25" stroke-opacity="0.8"/>
<path d="M445.5 832.7C439.6 824.9 425.1 797.0 409.9 785.7C394.8 774.4 363.9 768.5 354.7 765.1" stroke="#7b5eb7" stroke-width="1.25" stroke-opacity="0.8"/>
<path d="M413.1 895.8C416.7 889.4 427.1 869.8 434.9 857.3C442.7 844.8 455.8 826.9 460.0 820.8" stroke="#7b5eb7" stroke-width="1.25" stroke-opacity="0.8"/>
<path d="M435.5 912.1C433.5 907.7 429.5 893.2 423.8 885.9C418.0 878.6 404.8 871.3 401.0 868.4" stroke="#7b5eb7" stroke-width="1.25" stroke-opacity="0.8"/>
<path d="M518.0 938.3C516.6 931.8 515.0 911.2 509.8 899.3C504.6 887.3 490.6 872.1 486.8 866.7" stroke="#7b5eb7" stroke-width="1.25" stroke-opacity="0.8"/>
<path d="M518.0 938.3C510.2 930.0 480.9 907.9 471.3 888.3C461.6 868.7 461.9 832.1 460.0 820.8" stroke="#7b5eb7" stroke-width="1.25" stroke-opacity="0.8"/>
<path d="M419.2 935.5C419.3 923.2 410.5 882.1 419.7 861.5C428.9 840.8 465.4 820.0 474.5 811.7" stroke="#7b5eb7" stroke-width="1.25" stroke-opacity="0.8"/>
<path d="M434.2 933.6C436.5 930.1 443.0 919.3 447.8 912.5C452.6 905.6 460.5 895.8 463.0 892.5" stroke="#7b5eb7" stroke-width="1.25" stroke-opacity="0.8"/>
<path d="M434.2 933.6C429.8 927.5 410.1 910.3 407.8 896.9C405.4 883.6 418.1 860.7 420.2 853.5" stroke="#7b5eb7" stroke-width="1.25" stroke-opacity="0.8"/>
<path d="M463.2 935.1C466.2 930.2 473.0 913.3 481.0 905.7C489.0 898.1 506.2 892.2 511.2 889.5" stroke="#7b5eb7" stroke-width="1.25" stroke-opacity="0.8"/>
<path d="M463.2 935.1C464.2 926.8 461.1 897.7 469.3 885.0C477.5 872.3 505.2 863.2 512.4 858.8" stroke="#7b5eb7" stroke-width="1.25" stroke-opacity="0.8"/>
<path d="M492.6 935.0C499.4 928.6 521.3 910.9 533.4 896.9C545.6 882.9 560.0 858.6 565.3 851.0" stroke="#7b5eb7" stroke-width="1.25" stroke-opacity="0.8"/>
<path d="M492.6 935.0C489.1 930.5 476.7 917.9 471.5 907.9C466.2 898.0 462.8 880.7 461.1 875.2" stroke="#7b5eb7" stroke-width="1.25" stroke-opacity="0.8"/>
<path d="M475.3 967.2C473.2 961.2 464.8 943.4 462.8 930.9C460.7 918.5 463.0 898.9 463.0 892.5" stroke="#7b5eb7" stroke-width="1.25" stroke-opacity="0.8"/>
<path d="M262.7 849.3C269.7 842.7 288.2 818.7 304.5 809.9C320.7 801.1 351.0 798.7 360.3 796.5" stroke="#7b5eb7" stroke-width="1.25" stroke-opacity="0.8"/>
<path d="M262.7 849.3C268.4 840.1 281.6 808.4 297.0 794.4C312.3 780.3 345.1 770.0 354.7 765.1" stroke="#7b5eb7" stroke-width="1.25" stroke-opacity="0.8"/>
<path d="M266.6 891.6C275.7 890.1 305.0 878.1 321.4 882.4C337.7 886.7 357.5 911.4 364.7 917.2" stroke="#7b5eb7" stroke-width="1.25" stroke-opacity="0.8"/>
<path d="M266.6 891.6C277.5 888.2 309.9 875.0 332.3 871.2C354.7 867.3 389.5 868.9 401.0 868.4" stroke="#7b5eb7" stroke-width="1.25" stroke-opacity="0.8"/>
<path d="M290.1 910.5C299.3 901.9 330.6 878.9 345.0 858.9C359.4 838.9 371.3 801.9 376.6 790.5" stroke="#7b5eb7" stroke-width="1.25" stroke-opacity="0.8"/>
<path d="M244.5 918.2C242.2 909.2 228.2 881.0 230.7 864.0C233.2 846.9 254.7 824.0 259.5 816.0" stroke="#7b5eb7" stroke-width="1.25" stroke-opacity="0.8"/>
<path d="M332.8 907.8C335.3 896.0 344.0 860.8 347.7 837.1C351.3 813.3 353.5 777.1 354.7 765.1" stroke="#7b5eb7" stroke-width="1.25" stroke-opacity="0.8"/>
<path d="M332.8 907.8C343.6 905.5 376.1 899.2 397.5 893.7C418.9 888.3 450.5 878.3 461.1 875.2" stroke="#7b5eb7" stroke-width="1.25" stroke-opacity="0.8"/>
<path d="M419.0 919.3C410.0 912.7 382.6 893.5 365.0 879.8C347.4 866.0 322.1 844.1 313.5 837.0" stroke="#7b5eb7" stroke-width="1.25" stroke-opacity="0.8"/>
<path d="M419.0 919.3C417.6 908.6 407.6 875.4 410.8 854.9C414.0 834.3 433.6 805.8 438.2 796.0" stroke="#7b5eb7" stroke-width="1.25" stroke-opacity="0.8"/>
<path d="M386.7 937.1C385.6 930.9 377.7 911.3 380.1 899.9C382.5 888.4 397.5 873.6 401.0 868.4" stroke="#7b5eb7" stroke-width="1.25" stroke-opacity="0.8"/>
<path d="M386.7 937.1C394.7 928.8 420.7 905.3 434.9 887.2C449.1 869.1 465.7 838.3 471.9 828.5" stroke="#7b5eb7" stroke-width="1.25" stroke-opacity="0.8"/>
<path d="M440.5 947.1C444.3 936.1 457.6 903.4 463.3 880.8C468.9 858.3 472.6 823.2 474.5 811.7" stroke="#7b5eb7" stroke-width="1.25" stroke-opacity="0.8"/>
<path d="M440.5 947.1C439.8 936.0 441.5 901.6 436.1 880.3C430.7 859.0 412.8 829.6 408.1 819.5" stroke="#7b5eb7" stroke-width="1.25" stroke-opacity="0.8"/>
<path d="M309.8 948.8C320.4 953.4 351.2 973.3 373.2 976.2C395.1 979.2 430.1 968.0 441.5 966.4" stroke="#7b5eb7" stroke-width="1.25" stroke-opacity="0.8"/>
<path d="M355.3 812.9C364.0 818.3 389.9 834.9 407.5 845.3C425.1 855.6 452.2 870.2 461.1 875.2" stroke="#7b5eb7" stroke-width="1.25" stroke-opacity="0.8"/>
<path d="M281.6 838.2C284.0 844.0 294.4 861.1 295.8 873.2C297.2 885.2 291.1 904.3 290.1 910.5" stroke="#7b5eb7" stroke-width="1.25" stroke-opacity="0.8"/>
<path d="M281.6 838.2C287.0 834.0 301.8 817.2 314.1 813.0C326.4 808.7 348.4 812.9 355.3 812.9" stroke="#7b5eb7" stroke-width="1.25" stroke-opacity="0.8"/>
<path d="M313.5 837.0C313.3 827.0 305.4 794.4 312.0 777.2C318.7 760.1 346.6 741.4 353.5 734.2" stroke="#7b5eb7" stroke-width="1.25" stroke-opacity="0.8"/>
<path d="M244.5 849.3C248.2 842.1 256.9 818.5 266.8 806.1C276.7 793.6 297.8 779.9 304.0 774.7" stroke="#7b5eb7" stroke-width="1.25" stroke-opacity="0.8"/>
<path d="M244.5 849.3C245.6 855.6 245.5 876.2 251.3 886.9C257.0 897.5 274.4 908.7 279.0 913.1" stroke="#7b5eb7" stroke-width="1.25" stroke-opacity="0.8"/>
<path d="M259.5 816.0C270.2 822.9 300.3 851.7 323.6 857.5C347.0 863.2 387.0 851.7 399.7 850.5" stroke="#7b5eb7" stroke-width="1.25" stroke-opacity="0.8"/>
<path d="M259.5 816.0C269.4 820.7 298.0 840.2 318.8 844.5C339.6 848.7 373.5 842.2 384.5 841.7" stroke="#7b5eb7" stroke-width="1.25" stroke-opacity="0.8"/>
<path d="M297.3 823.9C302.2 823.4 317.1 822.7 326.8 820.9C336.4 819.1 350.5 814.2 355.3 812.9" stroke="#7b5eb7" stroke-width="1.25" stroke-opacity="0.8"/>
<path d="M297.3 823.9C306.4 819.6 333.3 798.6 351.8 797.8C370.2 797.1 398.7 815.9 408.1 819.5" stroke="#7b5eb7" stroke-width="1.25" stroke-opacity="0.8"/>
<path d="M279.0 913.1C287.1 911.6 313.9 911.8 327.7 904.3C341.5 896.9 356.0 874.3 361.7 868.3" stroke="#7b5eb7" stroke-width="1.25" stroke-opacity="0.8"/>
<path d="M361.7 868.3C357.9 869.0 346.4 870.6 339.0 872.7C331.6 874.7 320.9 879.3 317.3 880.6" stroke="#7b5eb7" stroke-width="1.25" stroke-opacity="0.8"/>
<path d="M317.3 880.6C320.6 878.0 329.4 866.9 336.8 864.9C344.2 862.8 357.6 867.7 361.7 868.3" stroke="#7b5eb7" stroke-width="1.25" stroke-opacity="0.8"/>
<path d="M317.3 880.6C328.3 884.7 362.9 894.4 383.4 905.5C403.9 916.6 431.0 940.2 440.5 947.1" stroke="#7b5eb7" stroke-width="1.25" stroke-opacity="0.8"/>
<path d="M359.5 832.4C360.2 844.5 358.5 881.7 363.5 905.2C368.5 928.7 385.0 962.0 389.3 973.4" stroke="#7b5eb7" stroke-width="1.25" stroke-opacity="0.8"/>
<path d="M359.5 832.4C359.5 838.2 359.3 855.8 359.7 867.5C360.0 879.2 361.4 896.7 361.8 902.5" stroke="#7b5eb7" stroke-width="1.25" stroke-opacity="0.8"/>
<path d="M350.7 893.0C362.6 893.5 399.2 900.6 421.9 896.3C444.6 891.9 476.0 871.6 486.8 866.7" stroke="#7b5eb7" stroke-width="1.25" stroke-opacity="0.8"/>
<path d="M361.8 902.5C370.6 905.3 397.7 920.8 414.5 919.1C431.4 917.5 454.9 896.9 463.0 892.5" stroke="#7b5eb7" stroke-width="1.25" stroke-opacity="0.8"/>
<path d="M361.8 902.5C354.1 897.9 326.3 887.8 315.5 874.7C304.8 861.6 300.3 832.4 297.3 823.9" stroke="#7b5eb7" stroke-width="1.25" stroke-opacity="0.8"/>
<path d="M370.4 945.3C378.3 939.3 402.7 922.5 417.6 909.6C432.4 896.7 452.6 874.9 459.6 868.0" stroke="#7b5eb7" stroke-width="1.25" stroke-opacity="0.8"/>
<path d="M389.3 973.4C382.1 970.9 359.8 956.9 346.0 958.2C332.1 959.5 312.7 977.2 306.1 981.0" stroke="#7b5eb7" stroke-width="1.25" stroke-opacity="0.8"/>
<path d="M389.3 973.4C391.0 961.8 387.6 921.5 399.4 904.0C411.1 886.4 449.6 874.0 459.6 868.0" stroke="#7b5eb7" stroke-width="1.25" stroke-opacity="0.8"/>
<path d="M308.8 691.1C311.0 689.2 317.9 683.4 322.0 680.0C326.1 676.6 331.6 672.1 333.5 670.5" stroke="#b5a6d9" stroke-width="2.6" stroke-opacity="0.95"/>
<path d="M378.6 1007.0L406.9 1037.0" stroke="#b5a6d9" stroke-width="3.0" stroke-opacity="0.95"/>
<path d="M378.6 1007.0C384.7 1008.0 402.4 1011.8 415.0 1013.0C427.6 1014.2 447.4 1014.2 453.9 1014.5" stroke="#b5a6d9" stroke-width="2.5" stroke-opacity="0.95"/>
<path d="M545.5 917.4L584.6 940.6" stroke="#b5a6d9" stroke-width="3.0" stroke-opacity="0.95"/>
<path d="M545.5 917.4C544.6 921.2 541.2 932.6 540.0 940.0C538.8 947.4 538.7 958.2 538.4 961.9" stroke="#b5a6d9" stroke-width="3.0" stroke-opacity="0.95"/>
<path d="M584.6 940.6C579.7 941.8 562.7 944.5 555.0 948.0C547.3 951.5 541.2 959.6 538.4 961.9" stroke="#b5a6d9" stroke-width="2.5" stroke-opacity="0.95"/>
<path d="M588.6 815.4C586.2 819.5 578.0 831.4 574.0 840.0C570.0 848.6 566.2 862.5 564.7 867.0" stroke="#b5a6d9" stroke-width="3.0" stroke-opacity="0.95"/>
<path d="M653.0 847.8L618.8 884.2" stroke="#b5a6d9" stroke-width="4.0" stroke-opacity="0.95"/>
<path d="M200.8 864.0L232.1 890.1" stroke="#b5a6d9" stroke-width="4.0" stroke-opacity="0.95"/>
<path d="M290.1 910.5L290.0 940.0" stroke="#b5a6d9" stroke-width="3.0" stroke-opacity="0.95"/>
<path d="M161.9 981.0L212.6 980.4" stroke="#b5a6d9" stroke-width="2.5" stroke-opacity="0.95"/>
<path d="M145.2 944.9L161.9 981.0" stroke="#b5a6d9" stroke-width="3.0" stroke-opacity="0.95"/>
<path d="M145.2 944.9C144.0 949.9 139.9 965.4 138.0 975.0C136.1 984.6 134.2 998.2 133.5 1002.8" stroke="#b5a6d9" stroke-width="3.0" stroke-opacity="0.95"/>
<path d="M145.2 944.9C145.3 949.9 147.9 965.4 146.0 975.0C144.1 984.6 135.6 998.2 133.5 1002.8" stroke="#b5a6d9" stroke-width="2.5" stroke-opacity="0.95"/>
<path d="M133.5 1002.8L168.3 1025.7" stroke="#b5a6d9" stroke-width="4.0" stroke-opacity="0.95"/>
<path d="M161.9 981.0L168.3 1025.7" stroke="#b5a6d9" stroke-width="3.0" stroke-opacity="0.95"/>
<path d="M208.6 1041.4L207.4 1077.2" stroke="#b5a6d9" stroke-width="3.0" stroke-opacity="0.95"/>
<path d="M207.4 1077.2L232.1 1106.5" stroke="#b5a6d9" stroke-width="4.0" stroke-opacity="0.95"/>
<path d="M242.3 1053.5L207.4 1077.2" stroke="#b5a6d9" stroke-width="3.0" stroke-opacity="0.95"/>
<path d="M242.3 1053.5L242.0 1068.0" stroke="#b5a6d9" stroke-width="5.0" stroke-opacity="0.95"/>
<path d="M242.3 1053.5C241.9 1057.9 241.7 1071.2 240.0 1080.0C238.3 1088.8 233.4 1102.1 232.1 1106.5" stroke="#b5a6d9" stroke-width="2.5" stroke-opacity="0.95"/>
<path d="M208.6 1041.4L242.3 1053.5" stroke="#b5a6d9" stroke-width="3" stroke-opacity="0.95"/>
<path d="M232.1 1106.5C237.1 1102.9 253.8 1090.9 262.0 1085.0C270.2 1079.1 278.2 1073.6 281.4 1071.3" stroke="#b5a6d9" stroke-width="2.0" stroke-opacity="0.95"/>
<path d="M253.2 1006.5L251.1 1030.4" stroke="#b5a6d9" stroke-width="2.0" stroke-opacity="0.95"/>
<path d="M409.7 595.4C408.1 602.8 402.3 625.9 400.0 640.0C397.7 654.1 395.7 670.0 396.0 680.0C396.3 690.0 399.7 694.6 402.0 700.0C404.3 705.4 408.4 710.4 409.7 712.5" stroke="#5f3a9e" stroke-width="1.4" stroke-opacity="0.9"/>
<path d="M308.8 691.1C311.8 690.6 320.9 688.5 327.0 688.0C333.1 687.5 342.2 688.0 345.3 688.0" stroke="#5f3a9e" stroke-width="1.3" stroke-opacity="0.9"/>
<path d="M308.8 691.1C310.7 689.9 316.3 686.5 320.0 684.0C323.7 681.5 328.8 678.2 331.0 676.0C333.2 673.8 333.1 671.4 333.5 670.5" stroke="#5f3a9e" stroke-width="1.3" stroke-opacity="0.9"/>
<path d="M345.3 688.0C349.1 689.3 360.5 697.6 368.0 696.0C375.5 694.4 386.6 681.1 390.3 678.1" stroke="#5f3a9e" stroke-width="1.4" stroke-opacity="0.9"/>
<path d="M390.3 678.1C387.2 681.1 379.1 690.6 372.0 696.0C364.9 701.4 351.7 707.9 347.6 710.3" stroke="#5f3a9e" stroke-width="1.4" stroke-opacity="0.9"/>
<path d="M494.4 684.0C490.7 689.2 477.4 704.8 472.0 715.0C466.6 725.2 463.7 740.0 462.0 745.0" stroke="#5f3a9e" stroke-width="1.2" stroke-opacity="0.9"/>
<path d="M490.8 737.6L508.8 750.6" stroke="#5f3a9e" stroke-width="1.5" stroke-opacity="0.9"/>
<path d="M490.8 737.6L488.6 728.8" stroke="#5f3a9e" stroke-width="1.5" stroke-opacity="0.9"/>
<path d="M409.7 712.5L430.4 732.8" stroke="#5f3a9e" stroke-width="1.3" stroke-opacity="0.9"/>
<path d="M409.7 712.5C408.8 714.4 405.2 720.1 404.0 724.0C402.8 727.9 402.5 734.0 402.2 736.0" stroke="#5f3a9e" stroke-width="1.3" stroke-opacity="0.9"/>
<path d="M430.4 732.8C432.0 734.8 436.9 738.1 440.0 745.0C443.1 751.9 447.2 769.2 448.7 774.1" stroke="#5f3a9e" stroke-width="1.3" stroke-opacity="0.9"/>
<path d="M422.7 754.0L448.7 774.1" stroke="#5f3a9e" stroke-width="1.3" stroke-opacity="0.9"/>
<path d="M422.7 754.0C425.6 756.7 434.6 764.0 440.0 770.0C445.4 776.0 452.5 786.7 455.0 790.0" stroke="#5f3a9e" stroke-width="1.3" stroke-opacity="0.9"/>
<path d="M375.7 719.7C375.1 723.1 372.1 733.3 372.0 740.0C371.9 746.7 374.5 756.7 375.0 760.0" stroke="#5f3a9e" stroke-width="1.3" stroke-opacity="0.9"/>
<path d="M448.7 774.1C449.8 776.8 451.8 785.4 455.0 790.0C458.2 794.6 465.8 800.0 468.0 802.0" stroke="#5f3a9e" stroke-width="1.3" stroke-opacity="0.9"/>
<path d="M304.0 774.7C308.3 773.1 322.0 766.1 330.0 765.0C338.0 763.9 348.3 767.5 352.0 768.0" stroke="#5f3a9e" stroke-width="1.5" stroke-opacity="0.9"/>
<path d="M304.0 774.7C303.0 778.6 302.0 791.3 298.0 798.0C294.0 804.7 286.4 812.0 280.0 815.0C273.6 818.0 262.9 815.8 259.5 816.0" stroke="#5f3a9e" stroke-width="1.5" stroke-opacity="0.9"/>
<path d="M304.0 774.7C303.3 778.9 302.0 792.5 300.0 800.0C298.0 807.5 295.1 813.6 292.0 820.0C288.9 826.4 283.3 835.2 281.6 838.2" stroke="#5f3a9e" stroke-width="1.5" stroke-opacity="0.9"/>
<path d="M304.0 774.7C304.2 778.9 306.1 791.8 305.0 800.0C303.9 808.2 298.6 819.9 297.3 823.9" stroke="#5f3a9e" stroke-width="1.5" stroke-opacity="0.9"/>
<path d="M360.3 796.5L372.0 796.0" stroke="#5f3a9e" stroke-width="1.5" stroke-opacity="0.9"/>
<path d="M360.3 796.5L355.3 812.9" stroke="#5f3a9e" stroke-width="1.5" stroke-opacity="0.9"/>
<path d="M376.6 790.5L380.0 795.0" stroke="#5f3a9e" stroke-width="1.5" stroke-opacity="0.9"/>
<path d="M408.1 819.5C405.9 818.2 399.7 815.2 395.0 812.0C390.3 808.8 382.5 802.0 380.0 800.0" stroke="#5f3a9e" stroke-width="2.0" stroke-opacity="0.9"/>
<path d="M408.1 819.5L410.8 793.5" stroke="#5f3a9e" stroke-width="1.5" stroke-opacity="0.9"/>
<path d="M408.1 819.5L408.1 782.1" stroke="#5f3a9e" stroke-width="1.5" stroke-opacity="0.9"/>
<path d="M408.1 819.5C405.9 815.4 398.1 802.7 395.0 795.0C391.9 787.3 390.2 776.8 389.2 773.2" stroke="#5f3a9e" stroke-width="1.5" stroke-opacity="0.9"/>
<path d="M359.5 832.4C361.2 832.8 366.6 833.7 370.0 835.0C373.4 836.3 378.3 839.2 380.0 840.0" stroke="#5f3a9e" stroke-width="1.5" stroke-opacity="0.9"/>
<path d="M361.7 868.3L372.0 866.0" stroke="#5f3a9e" stroke-width="1.5" stroke-opacity="0.9"/>
<path d="M375.6 862.9L380.0 862.0" stroke="#5f3a9e" stroke-width="1.5" stroke-opacity="0.9"/>
<path d="M519.1 837.9L501.7 842.4" stroke="#5f3a9e" stroke-width="1.5" stroke-opacity="0.9"/>
<path d="M519.1 837.9C519.2 839.9 521.1 846.5 520.0 850.0C518.9 853.5 513.7 857.3 512.4 858.8" stroke="#5f3a9e" stroke-width="1.5" stroke-opacity="0.9"/>
<path d="M512.4 858.8L511.2 889.5" stroke="#5f3a9e" stroke-width="1.5" stroke-opacity="0.9"/>
<path d="M512.4 858.8C510.3 860.7 503.7 867.7 500.0 870.0C496.3 872.3 491.8 872.1 490.1 872.5" stroke="#5f3a9e" stroke-width="1.5" stroke-opacity="0.9"/>
<path d="M519.1 837.9C521.8 839.1 527.3 842.8 535.0 845.0C542.7 847.2 560.2 850.0 565.3 851.0" stroke="#5f3a9e" stroke-width="1.5" stroke-opacity="0.9"/>
<path d="M512.4 858.8C517.0 858.7 531.2 859.3 540.0 858.0C548.8 856.7 561.1 852.2 565.3 851.0" stroke="#5f3a9e" stroke-width="1.5" stroke-opacity="0.9"/>
<path d="M539.1 799.5C535.9 802.1 523.3 808.6 520.0 815.0C516.7 821.4 519.2 834.1 519.1 837.9" stroke="#5f3a9e" stroke-width="1.2" stroke-opacity="0.9"/>
<path d="M441.5 966.4C437.9 969.5 426.9 979.4 420.0 985.0C413.1 990.6 406.9 996.3 400.0 1000.0C393.1 1003.7 382.2 1005.8 378.6 1007.0" stroke="#5f3a9e" stroke-width="1.5" stroke-opacity="0.9"/>
<path d="M441.5 966.4C434.6 970.3 409.4 981.9 400.0 990.0C390.6 998.1 383.9 1007.2 385.0 1015.0C386.1 1022.8 403.2 1033.3 406.9 1037.0" stroke="#5f3a9e" stroke-width="1.3" stroke-opacity="0.9"/>
<path d="M518.0 938.3L538.4 961.9" stroke="#5f3a9e" stroke-width="1.2" stroke-opacity="0.9"/>
<path d="M518.0 938.3L524.8 972.4" stroke="#5f3a9e" stroke-width="1.2" stroke-opacity="0.9"/>
<path d="M518.0 938.3L517.5 985.6" stroke="#5f3a9e" stroke-width="1.2" stroke-opacity="0.9"/>
<path d="M492.6 935.0L524.8 972.4" stroke="#5f3a9e" stroke-width="1.2" stroke-opacity="0.9"/>
<path d="M492.6 935.0L517.5 985.6" stroke="#5f3a9e" stroke-width="1.2" stroke-opacity="0.9"/>
<path d="M463.2 935.1L481.6 984.8" stroke="#5f3a9e" stroke-width="1.2" stroke-opacity="0.9"/>
<path d="M475.3 967.2L481.6 984.8" stroke="#5f3a9e" stroke-width="1.2" stroke-opacity="0.9"/>
<path d="M529.1 907.8L518.0 938.3" stroke="#5f3a9e" stroke-width="1.2" stroke-opacity="0.9"/>
<path d="M529.1 907.8C526.8 911.5 521.1 925.5 515.0 930.0C508.9 934.5 496.3 934.2 492.6 935.0" stroke="#5f3a9e" stroke-width="1.2" stroke-opacity="0.9"/>
<path d="M259.5 816.0L281.6 838.2" stroke="#5f3a9e" stroke-width="1.5" stroke-opacity="0.9"/>
<path d="M259.5 816.0C262.9 816.2 273.7 815.7 280.0 817.0C286.3 818.3 294.4 822.8 297.3 823.9" stroke="#5f3a9e" stroke-width="1.5" stroke-opacity="0.9"/>
<path d="M259.5 816.0C259.6 819.2 259.5 829.5 260.0 835.0C260.5 840.5 262.2 846.9 262.7 849.3" stroke="#5f3a9e" stroke-width="1.5" stroke-opacity="0.9"/>
<path d="M281.6 838.2L262.7 849.3" stroke="#5f3a9e" stroke-width="1.5" stroke-opacity="0.9"/>
<path d="M297.3 823.9L313.5 837.0" stroke="#5f3a9e" stroke-width="1.5" stroke-opacity="0.9"/>
<path d="M281.6 838.2C279.7 842.7 272.3 856.4 270.0 865.0C267.7 873.6 268.3 885.8 268.0 890.0" stroke="#5f3a9e" stroke-width="1.5" stroke-opacity="0.9"/>
<path d="M313.5 837.0C309.6 840.8 296.9 851.5 290.0 860.0C283.1 868.5 275.0 883.3 272.0 888.0" stroke="#5f3a9e" stroke-width="1.5" stroke-opacity="0.9"/>
<path d="M290.0 940.0L289.7 1013.4" stroke="#5f3a9e" stroke-width="1.8" stroke-opacity="0.9"/>
<path d="M266.6 891.6C267.5 893.8 269.9 901.4 272.0 905.0C274.1 908.6 277.8 911.8 279.0 913.1" stroke="#5f3a9e" stroke-width="1.3" stroke-opacity="0.9"/>
<path d="M212.6 980.4L232.1 939.7" stroke="#5f3a9e" stroke-width="1.3" stroke-opacity="0.9"/>
<path d="M200.6 948.0C203.5 948.3 212.8 951.4 218.0 950.0C223.2 948.6 229.8 941.4 232.1 939.7" stroke="#5f3a9e" stroke-width="1.3" stroke-opacity="0.9"/>
<path d="M161.9 981.0C159.9 983.3 154.7 991.4 150.0 995.0C145.3 998.6 136.2 1001.5 133.5 1002.8" stroke="#5f3a9e" stroke-width="1.3" stroke-opacity="0.9"/>
<path d="M232.1 939.7C235.1 942.2 240.3 950.8 250.0 955.0C259.6 959.2 280.6 960.7 290.0 965.0C299.4 969.3 303.4 978.3 306.1 981.0" stroke="#5f3a9e" stroke-width="1.3" stroke-opacity="0.9"/>
<path d="M212.6 980.4C208.8 983.7 197.4 992.5 190.0 1000.0C182.6 1007.5 171.9 1021.4 168.3 1025.7" stroke="#5f3a9e" stroke-width="1.3" stroke-opacity="0.9"/>
<path d="M276.1 994.6L289.7 1013.4" stroke="#5f3a9e" stroke-width="1.5" stroke-opacity="0.9"/>
<path d="M253.2 1006.5C255.2 1005.1 261.2 1000.0 265.0 998.0C268.8 996.0 274.2 995.2 276.1 994.6" stroke="#5f3a9e" stroke-width="1.5" stroke-opacity="0.9"/>
<path d="M289.7 1013.4C287.8 1017.0 281.6 1029.2 278.0 1035.0C274.4 1040.8 269.7 1045.8 268.0 1048.0" stroke="#5f3a9e" stroke-width="1.5" stroke-opacity="0.9"/>
<path d="M244.5 918.2C248.8 911.8 260.8 891.4 270.0 880.0C279.2 868.6 290.8 859.2 300.0 850.0C309.2 840.8 317.9 831.1 325.0 825.0C332.1 818.9 339.4 815.1 342.3 813.1" stroke="#5f3a9e" stroke-width="1.4" stroke-opacity="0.9"/>
<path d="M314.0 880.0C316.7 876.3 324.8 866.3 330.0 858.0C335.2 849.7 340.8 837.5 345.0 830.0C349.2 822.5 353.6 815.8 355.3 812.9" stroke="#5f3a9e" stroke-width="1.4" stroke-opacity="0.9"/>
<path d="M359.5 832.4C357.1 835.3 351.6 842.9 345.0 850.0C338.4 857.1 324.2 870.8 320.0 875.0" stroke="#5f3a9e" stroke-width="1.3" stroke-opacity="0.9"/>
<path d="M232.1 890.1C237.6 886.8 253.7 877.5 265.0 870.0C276.3 862.5 289.2 853.0 300.0 845.0C310.8 837.0 322.9 827.3 330.0 822.0C337.1 816.7 340.2 814.6 342.3 813.1" stroke="#5f3a9e" stroke-width="1.4" stroke-opacity="0.9"/>
<path d="M266.6 891.6C270.5 887.7 280.3 877.4 290.0 868.0C299.7 858.6 314.1 844.2 325.0 835.0C335.9 825.8 350.2 816.6 355.3 812.9" stroke="#5f3a9e" stroke-width="1.4" stroke-opacity="0.9"/>
<path d="M317.3 880.6C321.1 880.2 332.6 880.0 340.0 878.0C347.4 876.0 358.1 869.9 361.7 868.3" stroke="#5f3a9e" stroke-width="1.4" stroke-opacity="0.9"/>
<path d="M290.1 910.5C294.2 906.2 305.9 891.8 315.0 885.0C324.1 878.2 337.2 872.8 345.0 870.0C352.8 867.2 358.9 868.6 361.7 868.3" stroke="#5f3a9e" stroke-width="1.4" stroke-opacity="0.9"/>
<path d="M332.8 907.8C335.3 904.0 343.2 891.6 348.0 885.0C352.8 878.4 359.4 871.1 361.7 868.3" stroke="#5f3a9e" stroke-width="1.4" stroke-opacity="0.9"/>
<path d="M232.1 939.7C234.8 933.9 243.7 915.8 248.0 905.0C252.3 894.2 255.6 884.3 258.0 875.0C260.4 865.7 261.9 853.6 262.7 849.3" stroke="#5f3a9e" stroke-width="1.4" stroke-opacity="0.9"/>
<path d="M200.6 948.0C200.8 940.8 202.0 919.0 202.0 905.0C202.0 891.0 201.0 870.8 200.8 864.0" stroke="#5f3a9e" stroke-width="1.4" stroke-opacity="0.9"/>
<path d="M232.1 939.7C233.4 937.8 237.9 931.6 240.0 928.0C242.1 924.4 243.8 919.8 244.5 918.2" stroke="#5f3a9e" stroke-width="1.3" stroke-opacity="0.9"/>
<path d="M200.6 948.0C204.7 945.0 217.7 935.0 225.0 930.0C232.3 925.0 241.2 920.2 244.5 918.2" stroke="#5f3a9e" stroke-width="1.3" stroke-opacity="0.9"/>
<path d="M200.8 864.0C203.2 870.8 209.3 894.0 215.0 905.0C220.7 916.0 232.2 924.2 235.0 930.0C237.8 935.8 232.6 938.1 232.1 939.7" stroke="#5f3a9e" stroke-width="1.3" stroke-opacity="0.9"/>
<path d="M232.1 890.1C233.1 892.6 235.9 900.3 238.0 905.0C240.1 909.7 243.4 916.0 244.5 918.2" stroke="#5f3a9e" stroke-width="1.3" stroke-opacity="0.9"/>
<path d="M232.1 890.1C235.1 891.4 244.2 897.8 250.0 898.0C255.8 898.2 263.8 892.7 266.6 891.6" stroke="#5f3a9e" stroke-width="1.3" stroke-opacity="0.9"/>
<path d="M244.5 918.2C247.4 920.2 255.2 926.4 262.0 930.0C268.8 933.6 277.0 936.9 285.0 940.0C293.0 943.1 305.7 947.3 309.8 948.8" stroke="#5f3a9e" stroke-width="1.3" stroke-opacity="0.9"/>
<path d="M244.5 918.2C246.2 923.5 251.1 939.7 255.0 950.0C258.9 960.3 264.5 972.6 268.0 980.0C271.5 987.4 274.8 992.2 276.1 994.6" stroke="#5f3a9e" stroke-width="1.3" stroke-opacity="0.9"/>
<path d="M232.1 939.7C237.1 941.4 252.3 948.6 262.0 950.0C271.6 951.4 282.0 948.2 290.0 948.0C298.0 947.8 306.5 948.7 309.8 948.8" stroke="#5f3a9e" stroke-width="1.3" stroke-opacity="0.9"/>
<path d="M266.6 891.6C265.8 888.0 262.6 877.0 262.0 870.0C261.4 863.0 262.6 852.8 262.7 849.3" stroke="#5f3a9e" stroke-width="1.3" stroke-opacity="0.9"/>
<path d="M266.6 891.6C268.8 893.0 276.1 896.9 280.0 900.0C283.9 903.1 288.4 908.8 290.1 910.5" stroke="#5f3a9e" stroke-width="1.3" stroke-opacity="0.9"/>
<path d="M212.6 980.4C216.3 981.2 227.4 982.6 235.0 985.0C242.6 987.4 255.0 991.4 258.0 995.0C261.0 998.6 254.0 1004.6 253.2 1006.5" stroke="#5f3a9e" stroke-width="1.3" stroke-opacity="0.9"/>
<path d="M212.6 980.4C214.2 977.0 218.8 966.8 222.0 960.0C225.2 953.2 230.4 943.1 232.1 939.7" stroke="#5f3a9e" stroke-width="1.3" stroke-opacity="0.9"/>
<path d="M200.6 948.0C201.7 950.8 205.0 959.6 207.0 965.0C209.0 970.4 211.7 977.8 212.6 980.4" stroke="#5f3a9e" stroke-width="1.3" stroke-opacity="0.9"/>
<path d="M353.5 734.2C354.3 738.2 354.4 751.4 358.2 758.2C361.9 765.0 373.0 772.2 376.0 775.0" stroke="#5f3a9e" stroke-width="1.3" stroke-opacity="0.9"/>
<path d="M354.7 765.1C356.1 769.1 359.4 781.7 363.3 789.2C367.1 796.6 375.5 806.5 378.0 810.0" stroke="#5f3a9e" stroke-width="1.5" stroke-opacity="0.9"/>
<path d="M304.0 774.7C310.0 773.1 328.0 765.1 340.0 765.2C352.0 765.2 370.0 773.4 376.0 775.0" stroke="#5f3a9e" stroke-width="1.7" stroke-opacity="0.9"/>
<path d="M389.2 773.2C388.7 776.4 387.9 786.2 386.0 792.3C384.2 798.5 379.3 807.1 378.0 810.0" stroke="#5f3a9e" stroke-width="1.5" stroke-opacity="0.9"/>
<path d="M408.1 782.1C405.5 781.0 398.1 776.5 392.8 775.3C387.4 774.1 378.8 775.1 376.0 775.0" stroke="#5f3a9e" stroke-width="1.2" stroke-opacity="0.9"/>
<path d="M408.1 782.1C405.3 784.1 396.2 789.4 391.2 794.0C386.2 798.7 380.2 807.3 378.0 810.0" stroke="#5f3a9e" stroke-width="1.3" stroke-opacity="0.9"/>
<path d="M448.7 774.1C442.6 773.2 424.4 768.4 412.3 768.5C400.2 768.7 382.0 773.9 376.0 775.0" stroke="#5f3a9e" stroke-width="1.5" stroke-opacity="0.9"/>
<path d="M408.1 819.5C405.7 818.3 398.8 813.9 393.8 812.3C388.8 810.7 380.6 810.4 378.0 810.0" stroke="#5f3a9e" stroke-width="1.2" stroke-opacity="0.9"/>
<path d="M360.3 796.5C362.1 797.2 368.3 798.3 371.2 800.5C374.2 802.8 376.9 808.4 378.0 810.0" stroke="#5f3a9e" stroke-width="1.1" stroke-opacity="0.9"/>
<path d="M342.3 813.1C345.2 812.2 353.8 808.0 359.8 807.5C365.7 807.0 375.0 809.6 378.0 810.0" stroke="#5f3a9e" stroke-width="1.7" stroke-opacity="0.9"/>
<path d="M420.2 853.5C417.3 849.3 409.6 835.6 402.6 828.4C395.6 821.1 382.1 813.1 378.0 810.0" stroke="#5f3a9e" stroke-width="1.3" stroke-opacity="0.9"/>
<path d="M419.0 919.3C414.6 917.6 399.4 914.7 392.4 908.9C385.4 903.2 379.6 889.0 377.0 885.0" stroke="#5f3a9e" stroke-width="1.4" stroke-opacity="0.9"/>
<path d="M361.7 868.3C363.0 869.7 367.0 873.7 369.5 876.5C372.1 879.3 375.8 883.6 377.0 885.0" stroke="#5f3a9e" stroke-width="1.4" stroke-opacity="0.9"/>
<path d="M317.3 880.6C322.2 882.6 336.5 891.6 346.4 892.4C356.4 893.1 371.9 886.2 377.0 885.0" stroke="#5f3a9e" stroke-width="1.5" stroke-opacity="0.9"/>
<path d="M359.5 832.4C360.9 834.1 364.6 839.8 367.9 842.7C371.1 845.7 377.1 848.8 379.0 850.0" stroke="#5f3a9e" stroke-width="1.1" stroke-opacity="0.9"/>
<path d="M359.5 832.4C362.4 836.3 374.0 847.1 376.9 855.8C379.8 864.6 377.0 880.1 377.0 885.0" stroke="#5f3a9e" stroke-width="1.6" stroke-opacity="0.9"/>
<path d="M361.8 902.5C363.5 901.4 369.4 898.9 372.0 896.0C374.5 893.1 376.2 886.8 377.0 885.0" stroke="#5f3a9e" stroke-width="1.4" stroke-opacity="0.9"/>
<path d="M425.4 701.3C424.3 702.5 421.3 706.6 418.7 708.5C416.1 710.4 411.2 711.8 409.7 712.5" stroke="#5f3a9e" stroke-width="1.3" stroke-opacity="0.9"/>
<path d="M425.4 701.3C428.0 701.8 435.8 703.5 441.0 704.4C446.2 705.4 454.1 706.6 456.7 707.0" stroke="#5f3a9e" stroke-width="1.3" stroke-opacity="0.9"/>
<path d="M409.7 712.5C411.3 712.0 416.6 711.1 419.2 709.2C421.8 707.4 424.4 702.6 425.4 701.3" stroke="#5f3a9e" stroke-width="1.3" stroke-opacity="0.9"/>
<path d="M347.6 710.3C347.7 712.4 347.0 718.9 348.0 722.9C349.0 726.9 352.6 732.3 353.5 734.2" stroke="#5f3a9e" stroke-width="1.3" stroke-opacity="0.9"/>
<path d="M347.6 710.3C350.0 710.8 357.6 711.5 362.3 713.1C367.0 714.6 373.5 718.6 375.7 719.7" stroke="#5f3a9e" stroke-width="1.3" stroke-opacity="0.9"/>
<path d="M347.6 710.3C348.7 712.9 350.9 721.8 354.4 725.9C358.0 730.0 366.4 733.5 368.8 735.0" stroke="#5f3a9e" stroke-width="1.3" stroke-opacity="0.9"/>
<path d="M375.7 719.7C374.9 720.9 371.9 724.1 370.8 726.7C369.6 729.2 369.1 733.6 368.8 735.0" stroke="#5f3a9e" stroke-width="1.3" stroke-opacity="0.9"/>
<path d="M375.7 719.7C374.0 721.1 369.1 725.7 365.4 728.1C361.7 730.5 355.5 733.2 353.5 734.2" stroke="#5f3a9e" stroke-width="1.3" stroke-opacity="0.9"/>
<path d="M353.5 734.2C354.8 734.1 358.7 733.5 361.2 733.6C363.8 733.7 367.5 734.8 368.8 735.0" stroke="#5f3a9e" stroke-width="1.3" stroke-opacity="0.9"/>
<path d="M368.8 735.0C369.8 733.9 373.7 731.1 374.8 728.5C376.0 726.0 375.6 721.2 375.7 719.7" stroke="#5f3a9e" stroke-width="1.3" stroke-opacity="0.9"/>
<path d="M402.2 736.0C403.5 734.3 408.7 729.4 409.9 725.5C411.2 721.6 409.7 714.7 409.7 712.5" stroke="#5f3a9e" stroke-width="1.3" stroke-opacity="0.9"/>
<path d="M402.2 736.0C403.4 738.0 406.2 745.2 409.6 748.2C413.0 751.2 420.5 753.0 422.7 754.0" stroke="#5f3a9e" stroke-width="1.3" stroke-opacity="0.9"/>
<path d="M402.2 736.0C404.6 736.4 412.1 739.2 416.8 738.6C421.5 738.1 428.1 733.8 430.4 732.8" stroke="#5f3a9e" stroke-width="1.3" stroke-opacity="0.9"/>
<path d="M430.4 732.8C430.3 734.8 431.3 741.1 430.0 744.7C428.7 748.2 423.9 752.4 422.7 754.0" stroke="#5f3a9e" stroke-width="1.3" stroke-opacity="0.9"/>
<path d="M430.4 732.8C428.3 731.5 421.1 728.4 417.7 725.1C414.2 721.7 411.0 714.6 409.7 712.5" stroke="#5f3a9e" stroke-width="1.3" stroke-opacity="0.9"/>
<path d="M422.7 754.0C423.2 752.2 424.2 746.6 425.5 743.0C426.8 739.5 429.6 734.5 430.4 732.8" stroke="#5f3a9e" stroke-width="1.3" stroke-opacity="0.9"/>
<path d="M422.7 754.0C420.8 752.8 414.5 749.6 411.1 746.6C407.7 743.6 403.7 737.8 402.2 736.0" stroke="#5f3a9e" stroke-width="1.3" stroke-opacity="0.9"/>
<path d="M422.7 754.0C421.9 756.6 420.4 764.7 417.9 769.4C415.5 774.1 409.7 780.0 408.1 782.1" stroke="#5f3a9e" stroke-width="1.3" stroke-opacity="0.9"/>
<path d="M354.7 765.1C355.0 767.7 355.8 775.7 356.8 780.9C357.7 786.2 359.7 793.9 360.3 796.5" stroke="#5f3a9e" stroke-width="1.3" stroke-opacity="0.9"/>
<path d="M354.7 765.1C355.5 762.4 357.4 754.1 359.7 749.1C362.1 744.1 367.3 737.4 368.8 735.0" stroke="#5f3a9e" stroke-width="1.3" stroke-opacity="0.9"/>
<path d="M304.0 774.7C302.1 778.6 294.0 790.0 292.8 798.2C291.7 806.4 296.6 819.6 297.3 823.9" stroke="#5f3a9e" stroke-width="1.3" stroke-opacity="0.9"/>
<path d="M304.0 774.7C308.3 774.1 321.2 773.0 329.6 771.4C338.1 769.8 350.5 766.1 354.7 765.1" stroke="#5f3a9e" stroke-width="1.3" stroke-opacity="0.9"/>
<path d="M304.0 774.7C306.3 778.7 311.7 792.6 318.1 799.0C324.5 805.4 338.3 810.7 342.3 813.1" stroke="#5f3a9e" stroke-width="1.3" stroke-opacity="0.9"/>
<path d="M389.2 773.2C390.7 774.0 395.3 776.7 398.4 778.1C401.6 779.6 406.5 781.4 408.1 782.1" stroke="#5f3a9e" stroke-width="1.3" stroke-opacity="0.9"/>
<path d="M389.2 773.2C388.3 774.7 385.6 779.4 383.5 782.3C381.4 785.2 377.8 789.1 376.6 790.5" stroke="#5f3a9e" stroke-width="1.3" stroke-opacity="0.9"/>
<path d="M389.2 773.2C391.3 774.6 398.2 778.1 401.8 781.5C405.4 784.8 409.3 791.5 410.8 793.5" stroke="#5f3a9e" stroke-width="1.3" stroke-opacity="0.9"/>
<path d="M408.1 782.1C408.0 783.1 407.3 786.3 407.7 788.2C408.2 790.1 410.3 792.6 410.8 793.5" stroke="#5f3a9e" stroke-width="1.3" stroke-opacity="0.9"/>
<path d="M490.8 737.6C490.5 736.9 489.1 734.9 488.8 733.4C488.4 732.0 488.6 729.6 488.6 728.8" stroke="#5f3a9e" stroke-width="1.3" stroke-opacity="0.9"/>
<path d="M448.7 774.1C449.7 772.5 451.9 766.7 454.6 764.5C457.4 762.2 463.5 761.2 465.3 760.6" stroke="#5f3a9e" stroke-width="1.3" stroke-opacity="0.9"/>
<path d="M448.7 774.1C447.4 775.7 442.8 780.2 441.0 783.9C439.3 787.5 438.7 794.0 438.2 796.0" stroke="#5f3a9e" stroke-width="1.3" stroke-opacity="0.9"/>
<path d="M410.8 793.5C413.0 794.3 419.6 797.8 424.2 798.3C428.7 798.7 435.9 796.4 438.2 796.0" stroke="#5f3a9e" stroke-width="1.3" stroke-opacity="0.9"/>
<path d="M438.2 796.0C439.3 797.4 442.8 801.5 444.5 804.6C446.2 807.6 447.8 812.8 448.5 814.4" stroke="#5f3a9e" stroke-width="1.3" stroke-opacity="0.9"/>
<path d="M439.3 823.5C440.3 823.0 443.8 821.9 445.3 820.4C446.8 818.8 448.0 815.4 448.5 814.4" stroke="#5f3a9e" stroke-width="1.3" stroke-opacity="0.9"/>
<path d="M439.3 823.5C437.7 824.1 433.0 826.4 429.7 827.1C426.3 827.9 421.1 827.9 419.4 828.0" stroke="#5f3a9e" stroke-width="1.3" stroke-opacity="0.9"/>
<path d="M488.6 728.8C488.7 729.6 488.6 731.9 489.0 733.4C489.4 734.8 490.5 736.9 490.8 737.6" stroke="#5f3a9e" stroke-width="1.3" stroke-opacity="0.9"/>
<path d="M488.6 728.8C490.7 730.2 497.8 733.8 501.1 737.5C504.5 741.1 507.5 748.4 508.8 750.6" stroke="#5f3a9e" stroke-width="1.3" stroke-opacity="0.9"/>
<path d="M508.8 750.6C508.3 751.9 506.5 755.9 505.9 758.6C505.4 761.4 505.4 765.7 505.3 767.1" stroke="#5f3a9e" stroke-width="1.3" stroke-opacity="0.9"/>
<path d="M508.8 750.6C507.0 749.9 501.2 748.5 498.2 746.4C495.2 744.2 492.0 739.1 490.8 737.6" stroke="#5f3a9e" stroke-width="1.3" stroke-opacity="0.9"/>
<path d="M465.3 760.6C463.7 761.4 458.3 763.3 455.6 765.6C452.8 767.8 449.8 772.7 448.7 774.1" stroke="#5f3a9e" stroke-width="1.3" stroke-opacity="0.9"/>
<path d="M465.3 760.6C466.9 762.6 470.9 769.6 474.8 772.5C478.7 775.5 486.6 777.3 488.9 778.3" stroke="#5f3a9e" stroke-width="1.3" stroke-opacity="0.9"/>
<path d="M465.3 760.6C468.0 759.3 477.3 756.9 481.6 753.0C485.8 749.2 489.3 740.2 490.8 737.6" stroke="#5f3a9e" stroke-width="1.3" stroke-opacity="0.9"/>
<path d="M505.3 767.1C503.6 764.9 497.6 758.7 495.1 753.8C492.7 748.9 491.5 740.3 490.8 737.6" stroke="#5f3a9e" stroke-width="1.3" stroke-opacity="0.9"/>
<path d="M482.4 792.8C483.1 793.4 485.9 795.1 486.9 796.7C487.9 798.3 488.1 801.4 488.4 802.4" stroke="#5f3a9e" stroke-width="1.3" stroke-opacity="0.9"/>
<path d="M482.4 792.8C484.0 792.9 489.0 792.1 491.7 793.2C494.4 794.4 497.3 798.6 498.4 799.7" stroke="#5f3a9e" stroke-width="1.3" stroke-opacity="0.9"/>
<path d="M498.4 799.7C497.6 800.2 495.5 802.0 493.8 802.5C492.1 802.9 489.3 802.4 488.4 802.4" stroke="#5f3a9e" stroke-width="1.3" stroke-opacity="0.9"/>
<path d="M488.4 802.4C489.2 802.2 491.8 801.8 493.5 801.4C495.1 800.9 497.6 800.0 498.4 799.7" stroke="#5f3a9e" stroke-width="1.3" stroke-opacity="0.9"/>
<path d="M488.4 802.4C487.8 801.6 486.0 799.5 485.0 797.9C484.0 796.3 482.8 793.6 482.4 792.8" stroke="#5f3a9e" stroke-width="1.3" stroke-opacity="0.9"/>
<path d="M488.4 802.4C487.3 803.3 484.3 806.2 481.9 807.8C479.6 809.3 475.7 811.0 474.5 811.7" stroke="#5f3a9e" stroke-width="1.3" stroke-opacity="0.9"/>
<path d="M448.5 814.4C447.8 815.2 445.8 817.8 444.2 819.3C442.7 820.8 440.1 822.8 439.3 823.5" stroke="#5f3a9e" stroke-width="1.3" stroke-opacity="0.9"/>
<path d="M448.5 814.4C448.6 816.0 449.9 820.9 449.4 823.9C448.9 827.0 446.1 831.2 445.5 832.7" stroke="#5f3a9e" stroke-width="1.3" stroke-opacity="0.9"/>
<path d="M474.5 811.7C475.5 810.6 478.0 806.9 480.3 805.3C482.6 803.8 487.0 802.9 488.4 802.4" stroke="#5f3a9e" stroke-width="1.3" stroke-opacity="0.9"/>
<path d="M471.9 828.5C471.9 827.1 471.5 822.7 472.0 819.9C472.4 817.1 474.1 813.1 474.5 811.7" stroke="#5f3a9e" stroke-width="1.3" stroke-opacity="0.9"/>
<path d="M471.9 828.5C469.6 828.0 462.3 825.1 457.9 825.8C453.5 826.5 447.6 831.5 445.5 832.7" stroke="#5f3a9e" stroke-width="1.3" stroke-opacity="0.9"/>
<path d="M488.9 778.3C488.0 779.4 484.7 782.2 483.6 784.6C482.5 787.0 482.6 791.4 482.4 792.8" stroke="#5f3a9e" stroke-width="1.3" stroke-opacity="0.9"/>
<path d="M488.9 778.3C490.4 777.6 495.2 775.7 497.9 773.9C500.6 772.0 504.1 768.2 505.3 767.1" stroke="#5f3a9e" stroke-width="1.3" stroke-opacity="0.9"/>
<path d="M488.9 778.3C489.8 780.1 492.5 785.3 494.0 788.8C495.6 792.4 497.7 797.9 498.4 799.7" stroke="#5f3a9e" stroke-width="1.3" stroke-opacity="0.9"/>
<path d="M539.1 799.5C535.7 799.6 525.5 799.9 518.8 799.9C512.0 800.0 501.8 799.7 498.4 799.7" stroke="#5f3a9e" stroke-width="1.3" stroke-opacity="0.9"/>
<path d="M539.1 799.5C537.0 802.5 530.1 811.1 526.8 817.5C523.4 823.9 520.4 834.5 519.1 837.9" stroke="#5f3a9e" stroke-width="1.3" stroke-opacity="0.9"/>
<path d="M539.1 799.5C535.3 797.8 522.1 794.6 516.5 789.2C510.9 783.8 507.2 770.8 505.3 767.1" stroke="#5f3a9e" stroke-width="1.3" stroke-opacity="0.9"/>
<path d="M460.0 820.8C459.1 820.2 456.3 818.4 454.4 817.3C452.5 816.3 449.5 814.9 448.5 814.4" stroke="#5f3a9e" stroke-width="1.3" stroke-opacity="0.9"/>
<path d="M460.0 820.8C460.7 821.8 462.5 825.6 464.5 826.9C466.5 828.2 470.7 828.2 471.9 828.5" stroke="#5f3a9e" stroke-width="1.3" stroke-opacity="0.9"/>
<path d="M460.0 820.8C461.4 820.3 465.8 819.4 468.3 817.9C470.7 816.3 473.5 812.7 474.5 811.7" stroke="#5f3a9e" stroke-width="1.3" stroke-opacity="0.9"/>
<path d="M408.1 819.5C408.8 820.5 410.5 824.1 412.4 825.5C414.3 827.0 418.2 827.6 419.4 828.0" stroke="#5f3a9e" stroke-width="1.3" stroke-opacity="0.9"/>
<path d="M408.1 819.5C407.8 817.3 405.9 810.5 406.4 806.2C406.8 801.8 410.1 795.6 410.8 793.5" stroke="#5f3a9e" stroke-width="1.3" stroke-opacity="0.9"/>
<path d="M408.1 819.5C410.6 820.9 417.7 827.0 422.9 827.7C428.1 828.3 436.6 824.2 439.3 823.5" stroke="#5f3a9e" stroke-width="1.3" stroke-opacity="0.9"/>
<path d="M501.7 842.4C503.2 842.2 507.8 842.2 510.7 841.4C513.6 840.7 517.7 838.5 519.1 837.9" stroke="#5f3a9e" stroke-width="1.3" stroke-opacity="0.9"/>
<path d="M501.7 842.4C503.0 843.5 508.0 846.1 509.8 848.8C511.6 851.6 512.0 857.1 512.4 858.8" stroke="#5f3a9e" stroke-width="1.3" stroke-opacity="0.9"/>
<path d="M501.7 842.4C499.7 843.9 492.0 847.6 489.5 851.7C487.1 855.7 487.3 864.2 486.8 866.7" stroke="#5f3a9e" stroke-width="1.3" stroke-opacity="0.9"/>
<path d="M565.3 851.0C561.4 850.2 549.5 848.2 541.8 846.0C534.1 843.8 522.9 839.3 519.1 837.9" stroke="#5f3a9e" stroke-width="1.3" stroke-opacity="0.9"/>
<path d="M565.3 851.0C560.9 851.5 547.6 852.8 538.7 854.1C529.9 855.4 516.8 858.0 512.4 858.8" stroke="#5f3a9e" stroke-width="1.3" stroke-opacity="0.9"/>
<path d="M486.8 866.7C487.1 867.1 488.3 868.4 488.8 869.4C489.4 870.3 489.9 872.0 490.1 872.5" stroke="#5f3a9e" stroke-width="1.3" stroke-opacity="0.9"/>
<path d="M486.8 866.7C487.4 867.3 489.2 869.4 490.6 870.4C492.1 871.4 494.6 872.3 495.4 872.7" stroke="#5f3a9e" stroke-width="1.3" stroke-opacity="0.9"/>
<path d="M486.8 866.7C488.8 865.6 494.5 861.3 498.8 860.0C503.0 858.7 510.1 859.0 512.4 858.8" stroke="#5f3a9e" stroke-width="1.3" stroke-opacity="0.9"/>
<path d="M490.1 872.5C490.5 872.7 491.8 873.4 492.7 873.4C493.6 873.5 495.0 872.8 495.4 872.7" stroke="#5f3a9e" stroke-width="1.3" stroke-opacity="0.9"/>
<path d="M490.1 872.5C489.0 874.4 485.2 880.0 483.7 884.1C482.2 888.1 481.4 894.8 481.0 897.0" stroke="#5f3a9e" stroke-width="1.3" stroke-opacity="0.9"/>
<path d="M511.2 889.5C510.0 888.0 506.4 883.5 503.7 880.7C501.1 877.9 496.8 874.0 495.4 872.7" stroke="#5f3a9e" stroke-width="1.3" stroke-opacity="0.9"/>
<path d="M511.2 889.5C512.9 890.8 518.3 894.5 521.3 897.6C524.2 900.6 527.8 906.1 529.1 907.8" stroke="#5f3a9e" stroke-width="1.3" stroke-opacity="0.9"/>
<path d="M511.2 889.5C510.0 887.5 507.2 880.0 503.7 877.2C500.2 874.4 492.4 873.3 490.1 872.5" stroke="#5f3a9e" stroke-width="1.3" stroke-opacity="0.9"/>
<path d="M463.0 892.5C462.6 891.1 460.8 886.9 460.5 884.0C460.2 881.1 461.0 876.7 461.1 875.2" stroke="#5f3a9e" stroke-width="1.3" stroke-opacity="0.9"/>
<path d="M463.0 892.5C464.6 892.5 469.6 891.5 472.6 892.2C475.6 893.0 479.6 896.2 481.0 897.0" stroke="#5f3a9e" stroke-width="1.3" stroke-opacity="0.9"/>
<path d="M463.0 892.5C462.8 890.4 462.3 884.3 461.7 880.2C461.1 876.1 460.0 870.0 459.6 868.0" stroke="#5f3a9e" stroke-width="1.3" stroke-opacity="0.9"/>
<path d="M419.4 828.0C421.0 827.2 425.4 823.7 428.7 823.0C432.0 822.2 437.5 823.4 439.3 823.5" stroke="#5f3a9e" stroke-width="1.3" stroke-opacity="0.9"/>
<path d="M419.4 828.0C419.5 830.1 419.9 836.5 420.0 840.7C420.1 845.0 420.2 851.4 420.2 853.5" stroke="#5f3a9e" stroke-width="1.3" stroke-opacity="0.9"/>
<path d="M360.3 796.5C361.8 796.5 366.8 797.4 369.5 796.4C372.2 795.4 375.4 791.5 376.6 790.5" stroke="#5f3a9e" stroke-width="1.3" stroke-opacity="0.9"/>
<path d="M360.3 796.5C359.1 798.3 356.3 804.2 353.3 807.0C350.3 809.8 344.1 812.1 342.3 813.1" stroke="#5f3a9e" stroke-width="1.3" stroke-opacity="0.9"/>
<path d="M342.3 813.1C343.4 813.0 346.6 812.5 348.8 812.5C351.0 812.5 354.2 812.8 355.3 812.9" stroke="#5f3a9e" stroke-width="1.3" stroke-opacity="0.9"/>
<path d="M342.3 813.1C343.1 815.2 344.5 822.7 347.3 825.9C350.2 829.1 357.5 831.3 359.5 832.4" stroke="#5f3a9e" stroke-width="1.3" stroke-opacity="0.9"/>
<path d="M375.6 862.9C374.4 863.4 371.0 864.7 368.7 865.6C366.3 866.5 362.9 867.9 361.7 868.3" stroke="#5f3a9e" stroke-width="1.3" stroke-opacity="0.9"/>
<path d="M376.6 790.5C375.3 791.2 371.7 793.9 369.0 794.9C366.2 795.9 361.7 796.2 360.3 796.5" stroke="#5f3a9e" stroke-width="1.3" stroke-opacity="0.9"/>
<path d="M376.6 790.5C374.7 792.2 368.5 797.0 365.0 800.8C361.4 804.5 356.9 810.9 355.3 812.9" stroke="#5f3a9e" stroke-width="1.3" stroke-opacity="0.9"/>
<path d="M519.1 837.9C518.7 839.7 517.8 845.2 516.7 848.7C515.6 852.1 513.1 857.1 512.4 858.8" stroke="#5f3a9e" stroke-width="1.3" stroke-opacity="0.9"/>
<path d="M512.4 858.8C511.2 857.6 507.1 854.5 505.3 851.8C503.5 849.0 502.3 844.0 501.7 842.4" stroke="#5f3a9e" stroke-width="1.3" stroke-opacity="0.9"/>
<path d="M441.5 966.4C441.8 964.8 443.3 959.9 443.2 956.6C443.0 953.4 440.9 948.7 440.5 947.1" stroke="#5f3a9e" stroke-width="1.3" stroke-opacity="0.9"/>
<path d="M495.4 872.7C496.9 871.6 501.3 868.3 504.1 866.0C507.0 863.7 511.0 860.0 512.4 858.8" stroke="#5f3a9e" stroke-width="1.3" stroke-opacity="0.9"/>
<path d="M364.7 917.2C364.3 916.0 362.8 912.5 362.4 910.0C361.9 907.6 361.9 903.8 361.8 902.5" stroke="#5f3a9e" stroke-width="1.3" stroke-opacity="0.9"/>
<path d="M364.7 917.2C366.5 918.4 371.4 923.0 375.3 924.7C379.2 926.3 385.9 926.7 388.0 927.1" stroke="#5f3a9e" stroke-width="1.3" stroke-opacity="0.9"/>
<path d="M364.7 917.2C363.2 915.4 358.3 910.1 355.9 906.1C353.6 902.1 351.6 895.2 350.7 893.0" stroke="#5f3a9e" stroke-width="1.3" stroke-opacity="0.9"/>
<path d="M384.5 841.7C383.8 843.5 381.8 848.9 380.3 852.4C378.8 855.9 376.4 861.2 375.6 862.9" stroke="#5f3a9e" stroke-width="1.3" stroke-opacity="0.9"/>
<path d="M384.5 841.7C382.4 840.9 376.2 838.5 372.0 836.9C367.9 835.4 361.6 833.2 359.5 832.4" stroke="#5f3a9e" stroke-width="1.3" stroke-opacity="0.9"/>
<path d="M388.0 927.1C388.1 928.0 389.1 930.6 388.9 932.3C388.7 934.0 387.1 936.3 386.7 937.1" stroke="#5f3a9e" stroke-width="1.3" stroke-opacity="0.9"/>
<path d="M388.0 927.1C386.4 928.5 381.3 932.4 378.4 935.4C375.5 938.5 371.7 943.7 370.4 945.3" stroke="#5f3a9e" stroke-width="1.3" stroke-opacity="0.9"/>
<path d="M453.0 936.7C453.8 936.5 456.4 936.0 458.1 935.7C459.8 935.4 462.3 935.2 463.2 935.1" stroke="#5f3a9e" stroke-width="1.3" stroke-opacity="0.9"/>
<path d="M453.0 936.7C452.0 937.6 449.1 940.5 447.0 942.2C444.9 943.9 441.6 946.3 440.5 947.1" stroke="#5f3a9e" stroke-width="1.3" stroke-opacity="0.9"/>
<path d="M453.0 936.7C451.4 936.4 446.8 935.5 443.6 935.0C440.5 934.5 435.8 933.8 434.2 933.6" stroke="#5f3a9e" stroke-width="1.3" stroke-opacity="0.9"/>
<path d="M529.1 907.8C527.4 910.1 520.9 916.3 519.1 921.4C517.2 926.5 518.2 935.5 518.0 938.3" stroke="#5f3a9e" stroke-width="1.3" stroke-opacity="0.9"/>
<path d="M529.1 907.8C526.3 910.4 518.4 918.9 512.4 923.4C506.3 927.9 495.9 933.1 492.6 935.0" stroke="#5f3a9e" stroke-width="1.3" stroke-opacity="0.9"/>
<path d="M481.0 897.0C482.4 895.1 487.2 889.7 489.6 885.7C492.0 881.6 494.4 874.9 495.4 872.7" stroke="#5f3a9e" stroke-width="1.3" stroke-opacity="0.9"/>
<path d="M459.6 868.0C459.7 868.6 459.9 870.5 460.1 871.7C460.4 872.9 460.9 874.6 461.1 875.2" stroke="#5f3a9e" stroke-width="1.3" stroke-opacity="0.9"/>
<path d="M459.6 868.0C457.6 868.0 451.1 867.0 447.4 868.1C443.6 869.2 438.7 873.5 437.0 874.6" stroke="#5f3a9e" stroke-width="1.3" stroke-opacity="0.9"/>
<path d="M459.6 868.0C460.1 870.0 462.2 876.0 462.8 880.0C463.4 884.1 463.0 890.4 463.0 892.5" stroke="#5f3a9e" stroke-width="1.3" stroke-opacity="0.9"/>
<path d="M461.1 875.2C459.1 875.0 453.1 874.3 449.1 874.2C445.0 874.1 439.0 874.5 437.0 874.6" stroke="#5f3a9e" stroke-width="1.3" stroke-opacity="0.9"/>
<path d="M437.0 874.6C435.5 874.1 431.0 872.1 427.9 871.6C424.8 871.2 419.9 871.9 418.3 872.0" stroke="#5f3a9e" stroke-width="1.3" stroke-opacity="0.9"/>
<path d="M418.3 872.0C418.5 870.5 419.4 865.9 419.8 862.8C420.1 859.7 420.1 855.1 420.2 853.5" stroke="#5f3a9e" stroke-width="1.3" stroke-opacity="0.9"/>
<path d="M445.5 832.7C444.8 832.1 442.2 830.5 441.1 828.9C440.1 827.4 439.6 824.4 439.3 823.5" stroke="#5f3a9e" stroke-width="1.3" stroke-opacity="0.9"/>
<path d="M413.1 895.8C414.2 897.6 419.0 902.7 420.0 906.6C420.9 910.5 419.2 917.2 419.0 919.3" stroke="#5f3a9e" stroke-width="1.3" stroke-opacity="0.9"/>
<path d="M413.1 895.8C413.2 893.8 413.1 887.5 413.9 883.5C414.8 879.5 417.6 873.9 418.3 872.0" stroke="#5f3a9e" stroke-width="1.3" stroke-opacity="0.9"/>
<path d="M435.5 912.1C434.1 912.6 429.8 914.0 427.0 915.2C424.3 916.4 420.3 918.6 419.0 919.3" stroke="#5f3a9e" stroke-width="1.3" stroke-opacity="0.9"/>
<path d="M435.5 912.1C435.0 913.9 432.5 919.1 432.3 922.7C432.1 926.3 433.9 931.8 434.2 933.6" stroke="#5f3a9e" stroke-width="1.3" stroke-opacity="0.9"/>
<path d="M435.5 912.1C433.2 911.3 425.4 910.3 421.6 907.6C417.9 904.9 414.5 897.8 413.1 895.8" stroke="#5f3a9e" stroke-width="1.3" stroke-opacity="0.9"/>
<path d="M518.0 938.3C515.9 938.0 509.5 937.3 505.3 936.8C501.1 936.2 494.7 935.3 492.6 935.0" stroke="#5f3a9e" stroke-width="1.3" stroke-opacity="0.9"/>
<path d="M419.2 935.5C420.5 935.8 424.5 937.3 427.0 937.0C429.5 936.7 433.0 934.2 434.2 933.6" stroke="#5f3a9e" stroke-width="1.3" stroke-opacity="0.9"/>
<path d="M419.2 935.5C419.2 934.2 419.0 930.1 419.0 927.4C419.0 924.7 419.0 920.7 419.0 919.3" stroke="#5f3a9e" stroke-width="1.3" stroke-opacity="0.9"/>
<path d="M419.2 935.5C420.8 936.8 425.4 941.1 428.9 943.0C432.5 945.0 438.6 946.4 440.5 947.1" stroke="#5f3a9e" stroke-width="1.3" stroke-opacity="0.9"/>
<path d="M434.2 933.6C434.7 934.7 436.4 938.1 437.4 940.3C438.5 942.6 440.0 946.0 440.5 947.1" stroke="#5f3a9e" stroke-width="1.3" stroke-opacity="0.9"/>
<path d="M434.2 933.6C435.7 934.5 439.9 938.3 443.0 938.8C446.1 939.4 451.3 937.1 453.0 936.7" stroke="#5f3a9e" stroke-width="1.3" stroke-opacity="0.9"/>
<path d="M463.2 935.1C461.2 935.9 455.0 937.8 451.2 939.8C447.4 941.8 442.3 945.9 440.5 947.1" stroke="#5f3a9e" stroke-width="1.3" stroke-opacity="0.9"/>
<path d="M492.6 935.0C491.6 937.9 489.5 947.2 486.6 952.5C483.8 957.9 477.2 964.8 475.3 967.2" stroke="#5f3a9e" stroke-width="1.3" stroke-opacity="0.9"/>
<path d="M262.7 849.3C261.2 849.2 256.6 848.7 253.6 848.7C250.6 848.7 246.0 849.2 244.5 849.3" stroke="#5f3a9e" stroke-width="1.3" stroke-opacity="0.9"/>
<path d="M262.7 849.3C264.2 848.3 268.6 844.9 271.8 843.1C274.9 841.2 280.0 839.0 281.6 838.2" stroke="#5f3a9e" stroke-width="1.3" stroke-opacity="0.9"/>
<path d="M262.7 849.3C262.5 846.5 262.0 838.2 261.4 832.6C260.9 827.1 259.8 818.8 259.5 816.0" stroke="#5f3a9e" stroke-width="1.3" stroke-opacity="0.9"/>
<path d="M266.6 891.6C268.3 893.0 274.8 896.4 276.9 900.0C278.9 903.6 278.6 910.9 279.0 913.1" stroke="#5f3a9e" stroke-width="1.3" stroke-opacity="0.9"/>
<path d="M266.6 891.6C268.6 893.2 274.5 897.8 278.4 901.0C282.3 904.1 288.1 908.9 290.1 910.5" stroke="#5f3a9e" stroke-width="1.3" stroke-opacity="0.9"/>
<path d="M266.6 891.6C264.9 893.9 260.1 901.2 256.4 905.6C252.7 910.0 246.5 916.1 244.5 918.2" stroke="#5f3a9e" stroke-width="1.3" stroke-opacity="0.9"/>
<path d="M290.1 910.5C287.9 909.2 280.7 906.1 276.8 903.0C272.9 899.8 268.3 893.5 266.6 891.6" stroke="#5f3a9e" stroke-width="1.3" stroke-opacity="0.9"/>
<path d="M290.1 910.5C293.1 908.7 303.7 904.7 308.2 899.7C312.8 894.7 315.8 883.8 317.3 880.6" stroke="#5f3a9e" stroke-width="1.3" stroke-opacity="0.9"/>
<path d="M244.5 918.2C245.8 915.5 248.7 906.7 252.3 902.2C256.0 897.8 264.2 893.4 266.6 891.6" stroke="#5f3a9e" stroke-width="1.3" stroke-opacity="0.9"/>
<path d="M244.5 918.2C248.3 917.7 259.9 916.6 267.5 915.3C275.1 914.0 286.3 911.3 290.1 910.5" stroke="#5f3a9e" stroke-width="1.3" stroke-opacity="0.9"/>
<path d="M386.7 937.1C385.2 937.4 380.2 937.7 377.5 939.1C374.8 940.4 371.6 944.3 370.4 945.3" stroke="#5f3a9e" stroke-width="1.3" stroke-opacity="0.9"/>
<path d="M440.5 947.1C440.4 945.8 441.0 941.4 440.0 939.1C438.9 936.9 435.2 934.5 434.2 933.6" stroke="#5f3a9e" stroke-width="1.3" stroke-opacity="0.9"/>
<path d="M440.5 947.1C440.1 948.7 438.0 953.7 438.1 956.9C438.3 960.1 440.9 964.8 441.5 966.4" stroke="#5f3a9e" stroke-width="1.3" stroke-opacity="0.9"/>
<path d="M306.1 981.0C306.9 978.4 310.5 970.6 311.1 965.3C311.7 959.9 310.0 951.5 309.8 948.8" stroke="#5f3a9e" stroke-width="1.3" stroke-opacity="0.9"/>
<path d="M306.1 981.0C305.3 975.0 303.7 956.8 301.0 945.1C298.4 933.3 291.9 916.3 290.1 910.5" stroke="#5f3a9e" stroke-width="1.3" stroke-opacity="0.9"/>
<path d="M355.3 812.9C354.2 812.6 350.9 811.1 348.8 811.1C346.6 811.2 343.4 812.8 342.3 813.1" stroke="#5f3a9e" stroke-width="1.3" stroke-opacity="0.9"/>
<path d="M355.3 812.9C355.2 811.4 353.7 806.4 354.6 803.7C355.4 801.0 359.3 797.7 360.3 796.5" stroke="#5f3a9e" stroke-width="1.3" stroke-opacity="0.9"/>
<path d="M355.3 812.9C355.0 814.7 353.0 820.2 353.7 823.5C354.4 826.7 358.5 830.9 359.5 832.4" stroke="#5f3a9e" stroke-width="1.3" stroke-opacity="0.9"/>
<path d="M281.6 838.2C283.0 837.1 287.2 833.8 289.8 831.4C292.4 829.0 296.0 825.2 297.3 823.9" stroke="#5f3a9e" stroke-width="1.3" stroke-opacity="0.9"/>
<path d="M281.6 838.2C280.1 836.0 276.4 828.7 272.7 825.0C269.0 821.3 261.7 817.5 259.5 816.0" stroke="#5f3a9e" stroke-width="1.3" stroke-opacity="0.9"/>
<path d="M313.5 837.0C312.4 835.6 309.4 831.0 306.7 828.8C304.0 826.6 298.9 824.7 297.3 823.9" stroke="#5f3a9e" stroke-width="1.3" stroke-opacity="0.9"/>
<path d="M313.5 837.0C315.5 834.5 320.5 825.9 325.3 822.0C330.1 818.0 339.5 814.6 342.3 813.1" stroke="#5f3a9e" stroke-width="1.3" stroke-opacity="0.9"/>
<path d="M244.5 849.3C246.0 849.5 250.6 850.2 253.6 850.2C256.6 850.2 261.2 849.5 262.7 849.3" stroke="#5f3a9e" stroke-width="1.3" stroke-opacity="0.9"/>
<path d="M244.5 849.3C247.5 848.1 256.3 843.7 262.5 841.8C268.7 840.0 278.4 838.8 281.6 838.2" stroke="#5f3a9e" stroke-width="1.3" stroke-opacity="0.9"/>
<path d="M297.3 823.9C298.6 825.1 302.4 828.6 305.1 830.8C307.8 833.0 312.1 836.0 313.5 837.0" stroke="#5f3a9e" stroke-width="1.3" stroke-opacity="0.9"/>
<path d="M279.0 913.1C279.9 912.7 282.5 911.3 284.3 910.9C286.2 910.4 289.1 910.6 290.1 910.5" stroke="#5f3a9e" stroke-width="1.3" stroke-opacity="0.9"/>
<path d="M279.0 913.1C278.2 911.2 276.0 905.3 274.0 901.7C271.9 898.1 267.8 893.3 266.6 891.6" stroke="#5f3a9e" stroke-width="1.3" stroke-opacity="0.9"/>
<path d="M279.0 913.1C276.2 914.3 268.2 919.6 262.5 920.5C256.7 921.3 247.5 918.6 244.5 918.2" stroke="#5f3a9e" stroke-width="1.3" stroke-opacity="0.9"/>
<path d="M361.7 868.3C360.8 870.3 357.8 876.4 356.0 880.6C354.2 884.7 351.6 890.9 350.7 893.0" stroke="#5f3a9e" stroke-width="1.3" stroke-opacity="0.9"/>
<path d="M361.7 868.3C362.0 871.1 363.6 879.7 363.6 885.4C363.6 891.1 362.1 899.6 361.8 902.5" stroke="#5f3a9e" stroke-width="1.3" stroke-opacity="0.9"/>
<path d="M317.3 880.6C319.2 882.5 326.3 887.5 328.9 892.0C331.4 896.6 332.1 905.2 332.8 907.8" stroke="#5f3a9e" stroke-width="1.3" stroke-opacity="0.9"/>
<path d="M317.3 880.6C320.3 881.1 329.7 881.4 335.2 883.5C340.8 885.6 348.1 891.4 350.7 893.0" stroke="#5f3a9e" stroke-width="1.3" stroke-opacity="0.9"/>
<path d="M317.3 880.6C315.8 883.8 312.8 894.7 308.3 899.7C303.7 904.7 293.1 908.7 290.1 910.5" stroke="#5f3a9e" stroke-width="1.3" stroke-opacity="0.9"/>
<path d="M359.5 832.4C361.4 833.6 366.9 838.0 371.1 839.6C375.2 841.1 382.3 841.3 384.5 841.7" stroke="#5f3a9e" stroke-width="1.3" stroke-opacity="0.9"/>
<path d="M350.7 893.0C351.4 894.1 353.0 897.8 354.8 899.4C356.7 901.0 360.6 902.0 361.8 902.5" stroke="#5f3a9e" stroke-width="1.3" stroke-opacity="0.9"/>
<path d="M350.7 893.0C349.0 894.0 343.5 896.4 340.5 898.9C337.5 901.4 334.1 906.3 332.8 907.8" stroke="#5f3a9e" stroke-width="1.3" stroke-opacity="0.9"/>
<path d="M361.8 902.5C359.2 902.0 351.1 898.8 346.3 899.7C341.5 900.6 335.1 906.5 332.8 907.8" stroke="#5f3a9e" stroke-width="1.3" stroke-opacity="0.9"/>
<path d="M370.4 945.3C371.6 944.2 374.6 940.1 377.3 938.7C380.0 937.4 385.1 937.4 386.7 937.1" stroke="#5f3a9e" stroke-width="1.3" stroke-opacity="0.9"/>
<path d="M389.3 973.4C388.2 970.8 385.7 962.2 382.5 957.5C379.4 952.9 372.4 947.3 370.4 945.3" stroke="#5f3a9e" stroke-width="1.3" stroke-opacity="0.9"/>
<path d="M389.3 973.4C389.4 970.3 390.6 961.1 390.2 955.1C389.7 949.0 387.3 940.1 386.7 937.1" stroke="#5f3a9e" stroke-width="1.3" stroke-opacity="0.9"/>
<path d="M356.4 600.9C359.0 607.4 367.1 628.8 372.0 640.0C376.9 651.2 382.9 661.6 386.0 668.0C389.1 674.4 389.6 676.4 390.3 678.1" stroke="#54278f" stroke-width="1.87" stroke-opacity="0.9"/>
<path d="M333.5 670.5C334.4 673.8 336.6 683.4 339.0 690.0C341.4 696.6 346.2 706.9 347.6 710.3" stroke="#54278f" stroke-width="2.21" stroke-opacity="0.9"/>
<path d="M308.8 691.1C312.3 692.9 323.5 698.8 330.0 702.0C336.5 705.2 344.7 708.9 347.6 710.3" stroke="#54278f" stroke-width="1.7" stroke-opacity="0.9"/>
<path d="M333.5 670.5C335.4 673.8 340.6 684.1 345.0 690.0C349.4 695.9 354.9 701.0 360.0 706.0C365.1 711.0 373.1 717.4 375.7 719.7" stroke="#54278f" stroke-width="1.7" stroke-opacity="0.9"/>
<path d="M345.3 688.0C348.1 690.7 356.9 698.7 362.0 704.0C367.1 709.3 373.4 717.1 375.7 719.7" stroke="#54278f" stroke-width="1.7" stroke-opacity="0.9"/>
<path d="M390.3 678.1C389.9 681.8 390.4 693.1 388.0 700.0C385.6 706.9 377.8 716.4 375.7 719.7" stroke="#54278f" stroke-width="2.04" stroke-opacity="0.9"/>
<path d="M375.7 719.7C378.4 719.1 386.3 717.2 392.0 716.0C397.7 714.8 406.8 713.1 409.7 712.5" stroke="#54278f" stroke-width="2.72" stroke-opacity="0.9"/>
<path d="M347.6 710.3C350.0 711.2 357.3 714.4 362.0 716.0C366.7 717.6 373.4 719.1 375.7 719.7" stroke="#54278f" stroke-width="1.7" stroke-opacity="0.9"/>
<path d="M409.7 712.5C409.8 717.1 410.0 732.1 410.0 740.0C410.0 747.9 409.8 753.0 409.5 760.0C409.2 767.0 408.3 778.4 408.1 782.1" stroke="#54278f" stroke-width="1.7" stroke-opacity="0.9"/>
<path d="M402.2 736.0C406.9 735.5 420.8 732.5 430.4 732.8C440.0 733.1 449.9 737.2 460.0 738.0C470.1 738.8 485.7 737.7 490.8 737.6" stroke="#54278f" stroke-width="2.55" stroke-opacity="0.9"/>
<path d="M425.4 701.3C426.7 706.4 429.2 722.4 433.0 732.0C436.8 741.6 443.5 750.2 448.0 759.0C452.5 767.8 456.7 777.8 460.0 785.0C463.3 792.2 466.7 799.2 468.0 802.0" stroke="#54278f" stroke-width="2.55" stroke-opacity="0.9"/>
<path d="M456.7 707.0C455.6 712.5 451.3 731.2 450.0 740.0C448.7 748.8 447.7 752.5 449.0 760.0C450.3 767.5 454.8 778.0 458.0 785.0C461.2 792.0 466.3 799.2 468.0 802.0" stroke="#54278f" stroke-width="4.0" stroke-opacity="0.9"/>
<path d="M402.2 736.0C405.0 737.5 413.0 741.2 419.0 745.0C425.0 748.8 432.0 752.8 438.0 759.0C444.0 765.2 450.0 774.8 455.0 782.0C460.0 789.2 465.8 798.7 468.0 802.0" stroke="#54278f" stroke-width="2.12" stroke-opacity="0.9"/>
<path d="M409.7 712.5C412.8 716.1 422.4 727.1 428.0 734.0C433.6 740.9 438.0 746.7 443.0 754.0C448.0 761.3 453.8 770.0 458.0 778.0C462.2 786.0 466.3 798.0 468.0 802.0" stroke="#54278f" stroke-width="2.12" stroke-opacity="0.9"/>
<path d="M389.2 773.2C392.5 774.2 400.9 777.7 409.0 779.0C417.1 780.3 428.2 777.2 438.0 781.0C447.8 784.8 463.0 798.5 468.0 802.0" stroke="#54278f" stroke-width="2.98" stroke-opacity="0.9"/>
<path d="M389.2 773.2C392.5 773.7 400.5 775.5 409.0 776.0C417.5 776.5 431.2 772.8 440.0 776.0C448.8 779.2 458.3 791.8 462.0 795.0" stroke="#54278f" stroke-width="1.7" stroke-opacity="0.9"/>
<path d="M408.1 782.1C412.6 783.4 425.0 786.7 435.0 790.0C445.0 793.3 462.5 800.0 468.0 802.0" stroke="#54278f" stroke-width="2.55" stroke-opacity="0.9"/>
<path d="M408.1 782.1C411.8 785.1 423.3 794.6 430.0 800.0C436.7 805.4 445.4 812.0 448.5 814.4" stroke="#54278f" stroke-width="1.7" stroke-opacity="0.9"/>
<path d="M410.8 793.5C414.8 794.6 425.5 798.6 435.0 800.0C444.5 801.4 462.5 801.7 468.0 802.0" stroke="#54278f" stroke-width="1.7" stroke-opacity="0.9"/>
<path d="M410.8 793.5C414.0 795.6 423.7 802.5 430.0 806.0C436.3 809.5 445.4 813.0 448.5 814.4" stroke="#54278f" stroke-width="1.7" stroke-opacity="0.9"/>
<path d="M438.2 796.0L468.0 802.0" stroke="#54278f" stroke-width="1.7" stroke-opacity="0.9"/>
<path d="M488.6 728.8C486.7 731.5 480.4 739.0 477.0 745.0C473.6 751.0 469.8 757.5 468.0 765.0C466.2 772.5 466.0 783.8 466.0 790.0C466.0 796.2 467.7 800.0 468.0 802.0" stroke="#54278f" stroke-width="8.0" stroke-opacity="0.9"/>
<path d="M488.6 728.8C487.2 732.0 482.8 741.1 480.0 748.0C477.2 754.9 473.7 763.0 472.0 770.0C470.3 777.0 470.3 786.7 470.0 790.0" stroke="#54278f" stroke-width="5.0" stroke-opacity="0.9"/>
<path d="M508.8 750.6C505.3 751.0 493.6 750.9 488.0 753.0C482.4 755.1 477.2 761.3 475.0 763.0" stroke="#54278f" stroke-width="2.55" stroke-opacity="0.9"/>
<path d="M508.8 750.6C506.0 752.8 498.0 759.8 492.0 764.0C486.0 768.2 476.2 774.0 473.0 776.0" stroke="#54278f" stroke-width="2.12" stroke-opacity="0.9"/>
<path d="M505.3 767.1C502.4 767.9 493.6 769.5 488.0 772.0C482.4 774.5 474.7 780.3 472.0 782.0" stroke="#54278f" stroke-width="2.12" stroke-opacity="0.9"/>
<path d="M505.3 767.1C503.1 769.2 496.9 775.9 492.0 780.0C487.1 784.1 478.7 790.0 476.0 792.0" stroke="#54278f" stroke-width="1.7" stroke-opacity="0.9"/>
<path d="M488.9 778.3C487.1 780.2 481.5 786.0 478.0 790.0C474.5 794.0 469.7 800.0 468.0 802.0" stroke="#54278f" stroke-width="4.0" stroke-opacity="0.9"/>
<path d="M498.4 799.7L468.0 802.0" stroke="#54278f" stroke-width="5.0" stroke-opacity="0.9"/>
<path d="M539.1 799.5L498.4 799.7" stroke="#54278f" stroke-width="2.98" stroke-opacity="0.9"/>
<path d="M539.1 799.5C535.1 800.6 523.2 804.6 515.0 806.0C506.8 807.4 494.2 807.7 490.0 808.0" stroke="#54278f" stroke-width="1.27" stroke-opacity="0.9"/>
<path d="M539.1 799.5C535.1 798.8 522.9 795.6 515.0 795.0C507.1 794.4 495.8 795.8 492.0 796.0" stroke="#54278f" stroke-width="1.27" stroke-opacity="0.9"/>
<path d="M460.0 799.0L492.0 803.0" stroke="#54278f" stroke-width="13" stroke-opacity="0.9"/>
<path d="M462.0 798.0L476.0 806.0" stroke="#54278f" stroke-width="12" stroke-opacity="0.9"/>
<path d="M468.0 790.0L482.0 813.0" stroke="#54278f" stroke-width="10" stroke-opacity="0.9"/>
<path d="M462.0 806.0L480.0 798.0" stroke="#54278f" stroke-width="10" stroke-opacity="0.9"/>
<path d="M448.5 814.4C450.1 813.3 454.8 810.1 458.0 808.0C461.2 805.9 466.3 803.0 468.0 802.0" stroke="#54278f" stroke-width="6" stroke-opacity="0.9"/>
<path d="M471.9 828.5L468.0 802.0" stroke="#54278f" stroke-width="5" stroke-opacity="0.9"/>
<path d="M482.4 792.8L468.0 802.0" stroke="#54278f" stroke-width="4" stroke-opacity="0.9"/>
<path d="M488.4 802.4L468.0 802.0" stroke="#54278f" stroke-width="4" stroke-opacity="0.9"/>
<path d="M474.5 811.7L468.0 802.0" stroke="#54278f" stroke-width="4" stroke-opacity="0.9"/>
<path d="M460.0 820.8L468.0 802.0" stroke="#54278f" stroke-width="2.55" stroke-opacity="0.9"/>
<path d="M347.6 710.3C349.3 713.6 354.4 723.4 358.0 730.0C361.6 736.6 366.0 742.5 369.0 750.0C372.0 757.5 374.5 765.0 376.0 775.0C377.5 785.0 377.5 797.5 378.0 810.0C378.5 822.5 379.2 837.5 379.0 850.0C378.8 862.5 379.9 876.2 377.0 885.0C374.1 893.8 365.0 895.3 361.8 902.5C358.6 909.7 360.1 919.4 358.0 928.0C355.9 936.6 353.2 947.3 349.0 954.0C344.8 960.7 335.7 965.7 333.0 968.0" stroke="#54278f" stroke-width="1.95" stroke-opacity="0.9"/>
<path d="M347.6 710.3C349.7 713.4 355.9 722.4 360.0 729.0C364.1 735.6 368.8 742.3 372.0 750.0C375.2 757.7 377.5 765.0 379.0 775.0C380.5 785.0 380.5 797.5 381.0 810.0C381.5 822.5 382.2 837.5 382.0 850.0C381.8 862.5 383.0 876.0 380.0 885.0C377.0 894.0 367.2 896.8 364.0 904.0C360.8 911.2 363.2 919.3 361.0 928.0C358.8 936.7 355.2 949.2 351.0 956.0C346.8 962.8 338.5 966.8 336.0 969.0" stroke="#54278f" stroke-width="1.53" stroke-opacity="0.9"/>
<path d="M347.6 710.3C349.0 713.8 352.9 724.2 356.0 731.0C359.1 737.8 363.2 743.5 366.0 751.0C368.8 758.5 371.5 766.2 373.0 776.0C374.5 785.8 374.5 797.7 375.0 810.0C375.5 822.3 376.2 837.5 376.0 850.0C375.8 862.5 376.8 876.5 374.0 885.0C371.2 893.5 362.2 894.0 359.0 901.0C355.8 908.0 357.2 918.5 355.0 927.0C352.8 935.5 350.0 945.5 346.0 952.0C342.0 958.5 333.5 963.7 331.0 966.0" stroke="#54278f" stroke-width="1.44" stroke-opacity="0.9"/>
<path d="M347.6 710.3C348.8 714.4 351.9 726.7 355.0 735.0C358.1 743.3 363.2 750.8 366.0 760.0C368.8 769.2 370.7 780.0 372.0 790.0C373.3 800.0 373.7 815.0 374.0 820.0" stroke="#54278f" stroke-width="2.55" stroke-opacity="0.9"/>
<path d="M353.5 734.2C355.2 736.7 360.6 743.7 364.0 749.0C367.4 754.3 372.3 763.2 374.0 766.0" stroke="#54278f" stroke-width="2.55" stroke-opacity="0.9"/>
<path d="M368.8 735.0C369.3 737.2 370.8 743.0 372.0 748.0C373.2 753.0 375.3 762.2 376.0 765.0" stroke="#54278f" stroke-width="1.7" stroke-opacity="0.9"/>
<path d="M354.7 765.1L371.0 764.0" stroke="#54278f" stroke-width="1.7" stroke-opacity="0.9"/>
<path d="M304.0 774.7C308.3 773.9 321.6 771.6 330.0 770.0C338.4 768.4 350.6 765.9 354.7 765.1" stroke="#54278f" stroke-width="2.12" stroke-opacity="0.9"/>
<path d="M279.5 743.8C285.9 746.8 305.5 758.5 318.0 762.0C330.5 765.5 348.6 764.6 354.7 765.1" stroke="#54278f" stroke-width="1.27" stroke-opacity="0.9"/>
<path d="M342.3 813.1C344.5 813.1 349.4 812.1 355.3 812.9C361.2 813.7 374.2 817.1 378.0 818.0" stroke="#54278f" stroke-width="1.7" stroke-opacity="0.9"/>
<path d="M313.5 837.0C317.1 835.0 328.0 829.0 335.0 825.0C342.0 821.0 351.9 814.9 355.3 812.9" stroke="#54278f" stroke-width="1.7" stroke-opacity="0.9"/>
<path d="M383.0 805.0C386.5 811.5 398.1 832.8 404.0 844.0C409.9 855.2 415.9 867.3 418.3 872.0" stroke="#54278f" stroke-width="2.12" stroke-opacity="0.9"/>
<path d="M380.0 790.0C383.3 795.0 392.5 810.0 400.0 820.0C407.5 830.0 418.8 840.9 425.0 850.0C431.2 859.1 435.0 870.5 437.0 874.6" stroke="#54278f" stroke-width="1.7" stroke-opacity="0.9"/>
<path d="M408.1 819.5C411.8 818.9 423.3 816.9 430.0 816.0C436.7 815.1 445.4 814.7 448.5 814.4" stroke="#54278f" stroke-width="2.55" stroke-opacity="0.9"/>
<path d="M419.4 828.0L448.5 814.4" stroke="#54278f" stroke-width="1.7" stroke-opacity="0.9"/>
<path d="M439.3 823.5L448.5 814.4" stroke="#54278f" stroke-width="1.7" stroke-opacity="0.9"/>
<path d="M439.3 823.5L471.9 828.5" stroke="#54278f" stroke-width="1.7" stroke-opacity="0.9"/>
<path d="M389.2 773.2C387.7 774.3 381.9 776.4 380.0 780.0C378.1 783.6 378.3 792.5 378.0 795.0" stroke="#54278f" stroke-width="1.7" stroke-opacity="0.9"/>
<path d="M408.1 819.5C410.1 816.2 413.9 804.1 420.0 800.0C426.1 795.9 437.0 794.7 445.0 795.0C453.0 795.3 464.2 800.8 468.0 802.0" stroke="#54278f" stroke-width="1.7" stroke-opacity="0.9"/>
<path d="M361.7 868.3C358.9 865.2 350.3 854.4 345.0 850.0C339.7 845.6 335.2 844.2 330.0 842.0C324.8 839.8 316.2 837.8 313.5 837.0" stroke="#54278f" stroke-width="1.7" stroke-opacity="0.9"/>
<path d="M359.5 832.4C356.2 833.3 347.7 837.2 340.0 838.0C332.3 838.8 317.9 837.2 313.5 837.0" stroke="#54278f" stroke-width="1.7" stroke-opacity="0.9"/>
<path d="M468.0 802.0C468.3 806.7 470.3 821.7 470.0 830.0C469.7 838.3 468.0 843.3 466.0 852.0C464.0 860.7 460.5 873.2 458.0 882.0C455.5 890.8 452.5 899.5 451.0 905.0C449.5 910.5 449.3 913.3 449.0 915.0" stroke="#54278f" stroke-width="7.0" stroke-opacity="0.9"/>
<path d="M475.0 815.0C475.0 819.2 476.0 830.8 475.0 840.0C474.0 849.2 471.7 860.8 469.0 870.0C466.3 879.2 460.7 890.8 459.0 895.0" stroke="#54278f" stroke-width="2.12" stroke-opacity="0.9"/>
<path d="M466.0 852.0C461.7 853.0 447.6 857.8 440.0 858.0C432.4 858.2 423.5 854.2 420.2 853.5" stroke="#54278f" stroke-width="7.0" stroke-opacity="0.9"/>
<path d="M463.0 866.0C458.7 867.4 444.4 873.6 437.0 874.6C429.6 875.6 421.4 872.4 418.3 872.0" stroke="#54278f" stroke-width="5.0" stroke-opacity="0.9"/>
<path d="M420.2 853.5C423.5 855.9 433.2 864.4 440.0 868.0C446.8 871.6 457.6 874.0 461.1 875.2" stroke="#54278f" stroke-width="4.0" stroke-opacity="0.9"/>
<path d="M418.3 872.0C421.9 870.3 432.1 866.3 440.0 862.0C447.9 857.7 461.7 848.7 466.0 846.0" stroke="#54278f" stroke-width="4.0" stroke-opacity="0.9"/>
<path d="M445.5 832.7C442.9 836.4 434.5 848.5 430.0 855.0C425.5 861.5 420.2 869.2 418.3 872.0" stroke="#54278f" stroke-width="2.55" stroke-opacity="0.9"/>
<path d="M445.5 832.7L437.0 874.6" stroke="#54278f" stroke-width="2.55" stroke-opacity="0.9"/>
<path d="M445.5 832.7C447.1 835.6 452.6 844.1 455.0 850.0C457.4 855.9 458.8 865.0 459.6 868.0" stroke="#54278f" stroke-width="2.55" stroke-opacity="0.9"/>
<path d="M420.2 853.5L437.0 874.6" stroke="#54278f" stroke-width="2.55" stroke-opacity="0.9"/>
<path d="M420.2 853.5L418.3 872.0" stroke="#54278f" stroke-width="2.12" stroke-opacity="0.9"/>
<path d="M565.3 851.0C559.4 851.3 540.9 853.2 530.0 853.0C519.1 852.8 510.0 851.3 500.0 850.0C490.0 848.7 475.0 845.8 470.0 845.0" stroke="#54278f" stroke-width="2.98" stroke-opacity="0.9"/>
<path d="M519.1 837.9C515.1 839.6 503.2 846.0 495.0 848.0C486.8 850.0 474.2 849.7 470.0 850.0" stroke="#54278f" stroke-width="1.7" stroke-opacity="0.9"/>
<path d="M501.7 842.4C498.9 843.0 490.3 845.1 485.0 846.0C479.7 846.9 472.5 847.7 470.0 848.0" stroke="#54278f" stroke-width="1.7" stroke-opacity="0.9"/>
<path d="M512.4 858.8C508.7 859.3 497.7 862.1 490.0 862.0C482.3 861.9 470.0 858.7 466.0 858.0" stroke="#54278f" stroke-width="2.12" stroke-opacity="0.9"/>
<path d="M486.8 866.7L466.0 862.0" stroke="#54278f" stroke-width="1.7" stroke-opacity="0.9"/>
<path d="M490.1 872.5C486.8 872.1 474.7 870.1 470.0 870.0C465.3 869.9 463.3 871.7 462.0 872.0" stroke="#54278f" stroke-width="1.7" stroke-opacity="0.9"/>
<path d="M495.4 872.7C492.0 872.6 480.6 871.5 475.0 872.0C469.4 872.5 464.2 875.3 462.0 876.0" stroke="#54278f" stroke-width="1.27" stroke-opacity="0.9"/>
<path d="M511.2 889.5C507.7 887.9 498.2 882.9 490.0 880.0C481.8 877.1 466.7 873.3 462.0 872.0" stroke="#54278f" stroke-width="2.12" stroke-opacity="0.9"/>
<path d="M529.1 907.8C524.2 905.3 509.9 898.0 500.0 893.0C490.1 888.0 476.7 881.8 470.0 878.0C463.3 874.2 461.7 871.3 460.0 870.0" stroke="#54278f" stroke-width="2.55" stroke-opacity="0.9"/>
<path d="M481.0 897.0L462.0 885.0" stroke="#54278f" stroke-width="1.7" stroke-opacity="0.9"/>
<path d="M511.2 889.5C507.7 890.4 498.2 893.2 490.0 895.0C481.8 896.8 468.8 896.7 462.0 900.0C455.2 903.3 451.2 912.5 449.0 915.0" stroke="#54278f" stroke-width="1.53" stroke-opacity="0.9"/>
<path d="M519.1 837.9C515.9 835.8 507.9 826.6 500.0 825.0C492.1 823.4 476.6 827.9 471.9 828.5" stroke="#54278f" stroke-width="1.27" stroke-opacity="0.9"/>
<path d="M519.1 837.9C516.8 834.1 508.4 821.4 505.0 815.0C501.6 808.6 499.5 802.2 498.4 799.7" stroke="#54278f" stroke-width="1.27" stroke-opacity="0.9"/>
<path d="M512.4 858.8C508.7 855.7 496.8 845.0 490.0 840.0C483.2 835.0 474.9 830.4 471.9 828.5" stroke="#54278f" stroke-width="1.27" stroke-opacity="0.9"/>
<path d="M501.7 842.4L471.9 828.5" stroke="#54278f" stroke-width="1.27" stroke-opacity="0.9"/>
<path d="M565.3 851.0C557.8 847.5 532.5 836.5 520.0 830.0C507.4 823.5 498.7 816.7 490.0 812.0C481.3 807.3 471.7 803.7 468.0 802.0" stroke="#54278f" stroke-width="1.7" stroke-opacity="0.9"/>
<path d="M539.1 799.5C534.2 802.9 519.0 813.2 510.0 820.0C501.0 826.8 491.7 833.3 485.0 840.0C478.3 846.7 472.5 856.7 470.0 860.0" stroke="#54278f" stroke-width="1.27" stroke-opacity="0.9"/>
<path d="M451.0 902.0L447.0 926.0" stroke="#54278f" stroke-width="8" stroke-opacity="0.9"/>
<path d="M444.0 908.0L455.0 920.0" stroke="#54278f" stroke-width="6" stroke-opacity="0.9"/>
<path d="M449.0 915.0C448.3 917.8 446.4 926.6 445.0 932.0C443.6 937.4 441.2 944.6 440.5 947.1" stroke="#54278f" stroke-width="4.5" stroke-opacity="0.9"/>
<path d="M449.0 915.0L440.5 947.1" stroke="#54278f" stroke-width="2.55" stroke-opacity="0.9"/>
<path d="M449.0 915.0C448.2 919.2 445.2 931.4 444.0 940.0C442.8 948.6 441.9 962.0 441.5 966.4" stroke="#54278f" stroke-width="2.55" stroke-opacity="0.9"/>
<path d="M449.0 915.0L463.2 935.1" stroke="#54278f" stroke-width="1.7" stroke-opacity="0.9"/>
<path d="M449.0 915.0C451.2 919.2 457.6 931.3 462.0 940.0C466.4 948.7 473.1 962.7 475.3 967.2" stroke="#54278f" stroke-width="2.98" stroke-opacity="0.9"/>
<path d="M449.0 915.0C452.5 916.2 462.7 918.7 470.0 922.0C477.3 925.3 488.8 932.8 492.6 935.0" stroke="#54278f" stroke-width="1.27" stroke-opacity="0.9"/>
<path d="M449.0 915.0C452.2 920.8 462.6 938.4 468.0 950.0C473.4 961.6 479.3 979.0 481.6 984.8" stroke="#54278f" stroke-width="1.27" stroke-opacity="0.9"/>
<path d="M449.0 915.0C455.0 920.8 473.6 938.2 485.0 950.0C496.4 961.8 512.1 979.7 517.5 985.6" stroke="#54278f" stroke-width="1.7" stroke-opacity="0.9"/>
<path d="M462.0 902.0C466.7 905.3 480.7 916.0 490.0 922.0C499.3 928.0 513.3 935.6 518.0 938.3" stroke="#54278f" stroke-width="2.55" stroke-opacity="0.9"/>
<path d="M449.0 915.0C450.2 922.5 454.3 947.5 456.0 960.0C457.7 972.5 459.4 980.9 459.0 990.0C458.6 999.1 454.8 1010.4 453.9 1014.5" stroke="#54278f" stroke-width="2.98" stroke-opacity="0.9"/>
<path d="M453.9 1014.5C453.2 1017.4 451.6 1026.1 450.0 1032.0C448.4 1037.9 445.0 1047.1 444.0 1050.1" stroke="#54278f" stroke-width="1.7" stroke-opacity="0.9"/>
<path d="M449.0 915.0L419.0 919.3" stroke="#54278f" stroke-width="2.12" stroke-opacity="0.9"/>
<path d="M449.0 915.0C445.0 912.8 431.0 905.2 425.0 902.0C419.0 898.8 420.6 897.5 413.1 895.8C405.6 894.1 390.4 892.5 380.0 892.0C369.6 891.5 355.6 892.8 350.7 893.0" stroke="#54278f" stroke-width="1.7" stroke-opacity="0.9"/>
<path d="M449.0 915.0C445.8 916.7 437.3 922.2 430.0 925.0C422.7 927.8 412.2 930.0 405.0 932.0C397.8 934.0 389.8 936.2 386.7 937.1" stroke="#54278f" stroke-width="1.7" stroke-opacity="0.9"/>
<path d="M419.0 919.3C415.8 920.2 405.4 922.0 400.0 925.0C394.6 928.0 388.9 935.1 386.7 937.1" stroke="#54278f" stroke-width="1.7" stroke-opacity="0.9"/>
<path d="M386.7 937.1C390.6 938.6 401.0 944.3 410.0 946.0C419.0 947.7 435.4 946.9 440.5 947.1" stroke="#54278f" stroke-width="2.12" stroke-opacity="0.9"/>
<path d="M336.0 966.0C338.7 963.7 346.3 955.5 352.0 952.0C357.7 948.5 362.4 947.0 370.4 945.3C378.4 943.6 388.3 941.7 400.0 942.0C411.7 942.3 433.8 946.2 440.5 947.1" stroke="#54278f" stroke-width="2.12" stroke-opacity="0.9"/>
<path d="M386.7 937.1C384.2 935.1 375.4 929.5 372.0 925.0C368.6 920.5 367.0 912.5 366.0 910.0" stroke="#54278f" stroke-width="1.7" stroke-opacity="0.9"/>
<path d="M419.0 919.3C415.8 916.9 406.2 909.9 400.0 905.0C393.8 900.1 385.0 892.5 382.0 890.0" stroke="#54278f" stroke-width="1.7" stroke-opacity="0.9"/>
<path d="M449.0 915.0C447.5 910.8 442.0 896.7 440.0 890.0C438.0 883.3 437.5 877.2 437.0 874.6" stroke="#54278f" stroke-width="1.7" stroke-opacity="0.9"/>
<path d="M449.0 915.0C445.8 911.7 435.1 902.2 430.0 895.0C424.9 887.8 420.2 875.8 418.3 872.0" stroke="#54278f" stroke-width="1.7" stroke-opacity="0.9"/>
<path d="M382.0 950.0C383.2 953.9 386.3 963.6 389.3 973.4C392.3 983.2 397.1 998.4 400.0 1009.0C402.9 1019.6 405.8 1032.3 406.9 1037.0" stroke="#54278f" stroke-width="2.55" stroke-opacity="0.9"/>
<path d="M372.0 905.0C373.3 910.0 378.0 926.7 380.0 935.0C382.0 943.3 383.3 951.7 384.0 955.0" stroke="#54278f" stroke-width="1.7" stroke-opacity="0.9"/>
<path d="M336.0 960.0C338.7 962.5 346.3 969.2 352.0 975.0C357.7 980.8 365.6 989.7 370.0 995.0C374.4 1000.3 377.2 1005.0 378.6 1007.0" stroke="#54278f" stroke-width="1.7" stroke-opacity="0.9"/>
<path d="M341.8 986.3L342.0 966.0" stroke="#54278f" stroke-width="1.7" stroke-opacity="0.9"/>
<path d="M538.4 961.9L524.8 972.4" stroke="#54278f" stroke-width="2.12" stroke-opacity="0.9"/>
<path d="M468.0 900.0C473.3 905.8 488.3 924.7 500.0 935.0C511.7 945.3 532.0 957.4 538.4 961.9" stroke="#54278f" stroke-width="1.27" stroke-opacity="0.9"/>
<path d="M462.0 905.0C466.7 911.7 479.5 933.8 490.0 945.0C500.5 956.2 519.0 967.8 524.8 972.4" stroke="#54278f" stroke-width="1.27" stroke-opacity="0.9"/>
<path d="M470.0 895.0C475.0 899.2 490.0 910.8 500.0 920.0C510.0 929.2 523.6 943.0 530.0 950.0C536.4 957.0 537.0 959.9 538.4 961.9" stroke="#54278f" stroke-width="1.27" stroke-opacity="0.9"/>
<path d="M200.8 864.0C205.3 865.2 219.8 871.2 228.0 871.0C236.2 870.8 244.2 866.6 250.0 863.0C255.8 859.4 260.6 851.6 262.7 849.3" stroke="#54278f" stroke-width="1.36" stroke-opacity="0.9"/>
<path d="M232.1 890.1C235.1 888.4 245.7 884.7 250.0 880.0C254.3 875.3 255.9 867.1 258.0 862.0C260.1 856.9 261.9 851.4 262.7 849.3" stroke="#54278f" stroke-width="1.36" stroke-opacity="0.9"/>
<path d="M259.5 816.0C259.2 821.7 256.6 838.5 258.0 850.0C259.4 861.5 264.5 874.5 268.0 885.0C271.5 895.5 277.2 908.4 279.0 913.1" stroke="#54278f" stroke-width="2.12" stroke-opacity="0.9"/>
<path d="M262.7 849.3C267.2 852.1 280.9 860.8 290.0 866.0C299.1 871.2 312.8 878.2 317.3 880.6" stroke="#54278f" stroke-width="2.12" stroke-opacity="0.9"/>
<path d="M317.3 880.6L332.8 907.8" stroke="#54278f" stroke-width="1.7" stroke-opacity="0.9"/>
<path d="M281.6 838.2C284.3 837.5 292.7 834.2 298.0 834.0C303.3 833.8 310.9 836.5 313.5 837.0" stroke="#54278f" stroke-width="1.7" stroke-opacity="0.9"/>
<path d="M244.5 918.2C250.2 917.4 271.4 914.4 279.0 913.1C286.6 911.8 288.2 910.9 290.1 910.5" stroke="#54278f" stroke-width="1.7" stroke-opacity="0.9"/>
<path d="M290.1 910.5C293.6 909.2 303.9 903.5 311.0 903.0C318.1 902.5 329.2 907.0 332.8 907.8" stroke="#54278f" stroke-width="2.12" stroke-opacity="0.9"/>
<path d="M332.8 907.8C335.7 907.3 345.2 905.9 350.0 905.0C354.8 904.1 359.8 902.9 361.8 902.5" stroke="#54278f" stroke-width="1.7" stroke-opacity="0.9"/>
<path d="M309.8 948.8C307.7 953.2 302.6 967.4 297.0 975.0C291.4 982.6 279.6 991.3 276.1 994.6" stroke="#54278f" stroke-width="1.7" stroke-opacity="0.9"/>
<path d="M306.1 981.0C301.8 979.7 291.0 973.7 280.0 973.0C269.0 972.3 251.2 975.8 240.0 977.0C228.8 978.2 217.2 979.8 212.6 980.4" stroke="#54278f" stroke-width="1.7" stroke-opacity="0.9"/>
<path d="M306.1 981.0C302.6 978.8 294.4 971.2 285.0 968.0C275.6 964.8 261.7 964.2 250.0 962.0C238.3 959.8 223.2 957.3 215.0 955.0C206.8 952.7 203.0 949.2 200.6 948.0" stroke="#54278f" stroke-width="1.7" stroke-opacity="0.9"/>
<path d="M306.1 981.0C301.8 981.7 285.0 982.7 280.0 985.0C275.0 987.3 276.8 993.0 276.1 994.6" stroke="#54278f" stroke-width="1.7" stroke-opacity="0.9"/>
<path d="M308.0 969.0C310.8 968.2 319.7 965.8 325.0 964.0C330.3 962.2 335.5 960.7 340.0 958.0C344.5 955.3 350.0 949.7 352.0 948.0" stroke="#54278f" stroke-width="4.5" stroke-opacity="0.9"/>
<path d="M306.1 981.0C310.2 979.6 323.9 975.6 330.4 972.4C336.9 969.2 342.6 963.7 345.0 962.0" stroke="#54278f" stroke-width="2.55" stroke-opacity="0.9"/>
<path d="M145.2 944.9C151.8 947.8 175.8 961.5 185.0 962.0C194.2 962.5 198.0 950.3 200.6 948.0" stroke="#54278f" stroke-width="1.36" stroke-opacity="0.9"/>
<path d="M200.6 948.0C200.2 952.5 201.4 966.3 198.0 975.0C194.6 983.7 184.9 991.5 180.0 1000.0C175.1 1008.5 170.2 1021.4 168.3 1025.7" stroke="#54278f" stroke-width="1.36" stroke-opacity="0.9"/>
<path d="M232.1 939.7C227.6 943.1 214.5 950.8 205.0 960.0C195.5 969.2 186.9 987.9 175.0 995.0C163.1 1002.1 140.4 1001.5 133.5 1002.8" stroke="#54278f" stroke-width="1.36" stroke-opacity="0.9"/>
<path d="M133.5 1002.8C139.6 1001.5 156.4 996.3 170.0 995.0C183.6 993.7 201.1 993.1 215.0 995.0C228.9 996.9 246.8 1004.6 253.2 1006.5" stroke="#54278f" stroke-width="1.36" stroke-opacity="0.9"/>
<path d="M232.1 939.7C234.2 943.9 240.0 957.5 245.0 965.0C250.0 972.5 256.8 980.1 262.0 985.0C267.2 989.9 273.8 993.0 276.1 994.6" stroke="#54278f" stroke-width="1.36" stroke-opacity="0.9"/>
<path d="M253.2 1006.5C254.8 1010.1 261.7 1020.0 263.0 1028.0C264.3 1036.0 261.2 1050.0 260.8 1054.4" stroke="#54278f" stroke-width="2.55" stroke-opacity="0.9"/>
<path d="M276.1 994.6C274.8 999.7 270.6 1015.0 268.0 1025.0C265.4 1035.0 262.0 1049.5 260.8 1054.4" stroke="#54278f" stroke-width="2.55" stroke-opacity="0.9"/>
<path d="M289.7 1013.4C286.8 1016.2 276.8 1023.2 272.0 1030.0C267.2 1036.8 262.7 1050.3 260.8 1054.4" stroke="#54278f" stroke-width="1.87" stroke-opacity="0.9"/>
<path d="M260.8 1054.4C258.2 1058.3 249.8 1069.3 245.0 1078.0C240.2 1086.7 234.2 1101.8 232.1 1106.5" stroke="#54278f" stroke-width="2.55" stroke-opacity="0.9"/>
<path d="M260.8 1054.4C261.5 1058.7 263.1 1071.5 265.0 1080.0C266.9 1088.5 271.0 1101.2 272.2 1105.5" stroke="#54278f" stroke-width="2.55" stroke-opacity="0.9"/>
<path d="M260.8 1054.4L281.4 1071.3" stroke="#54278f" stroke-width="2.55" stroke-opacity="0.9"/>
<path d="M260.8 1054.4L304.6 1054.4" stroke="#54278f" stroke-width="1.7" stroke-opacity="0.9"/>
<path d="M260.8 1054.4L242.3 1053.5" stroke="#54278f" stroke-width="2.12" stroke-opacity="0.9"/>
<path d="M208.6 1041.4C213.0 1042.3 227.8 1046.2 235.0 1047.0C242.2 1047.8 247.7 1044.8 252.0 1046.0C256.3 1047.2 259.3 1053.0 260.8 1054.4" stroke="#54278f" stroke-width="2.55" stroke-opacity="0.9"/>
<path d="M207.4 1077.2C212.0 1076.3 227.6 1074.5 235.0 1072.0C242.4 1069.5 247.7 1064.9 252.0 1062.0C256.3 1059.1 259.3 1055.7 260.8 1054.4" stroke="#54278f" stroke-width="2.12" stroke-opacity="0.9"/>
<path d="M259.5 816.0C262.9 816.8 273.7 819.7 280.0 821.0C286.3 822.3 290.6 823.7 297.3 823.9C304.0 824.1 310.3 823.8 320.0 822.0C329.7 820.2 349.4 814.4 355.3 812.9" stroke="#54278f" stroke-width="1.7" stroke-opacity="0.9"/>
<path d="M313.5 837.0C315.4 835.5 320.6 831.2 325.0 828.0C329.4 824.8 334.9 820.5 340.0 818.0C345.1 815.5 352.8 813.8 355.3 812.9" stroke="#54278f" stroke-width="1.53" stroke-opacity="0.9"/>
<path d="M262.7 849.3C262.1 846.4 259.5 837.5 259.0 832.0C258.5 826.5 259.4 818.7 259.5 816.0" stroke="#54278f" stroke-width="1.7" stroke-opacity="0.9"/>
<path d="M262.7 849.3L244.5 849.3" stroke="#54278f" stroke-width="1.36" stroke-opacity="0.9"/>
<path d="M281.6 838.2C284.3 837.8 292.7 836.2 298.0 836.0C303.3 835.8 310.9 836.8 313.5 837.0" stroke="#54278f" stroke-width="1.7" stroke-opacity="0.9"/>
<path d="M456.7 707.0C457.4 714.9 459.1 738.8 461.0 754.7C462.9 770.5 466.8 794.1 468.0 802.0" stroke="#54278f" stroke-width="1.61" stroke-opacity="0.9"/>
<path d="M402.2 736.0C407.7 741.5 424.0 758.1 435.0 769.1C445.9 780.1 462.5 796.5 468.0 802.0" stroke="#54278f" stroke-width="1.36" stroke-opacity="0.9"/>
<path d="M430.4 732.8C433.5 738.6 442.7 756.0 449.0 767.5C455.3 779.0 464.8 796.3 468.0 802.0" stroke="#54278f" stroke-width="1.44" stroke-opacity="0.9"/>
<path d="M389.2 773.2C396.0 775.0 416.8 779.1 430.0 783.9C443.1 788.7 461.7 799.0 468.0 802.0" stroke="#54278f" stroke-width="1.02" stroke-opacity="0.9"/>
<path d="M448.7 774.1C449.8 776.8 451.9 785.6 455.1 790.3C458.3 794.9 465.9 800.0 468.0 802.0" stroke="#54278f" stroke-width="1.7" stroke-opacity="0.9"/>
<path d="M439.3 823.5C441.3 821.2 446.4 813.0 451.1 809.4C455.9 805.8 465.2 803.2 468.0 802.0" stroke="#54278f" stroke-width="1.36" stroke-opacity="0.9"/>
<path d="M488.6 728.8C487.8 735.2 487.2 754.7 483.7 766.9C480.3 779.1 470.6 796.2 468.0 802.0" stroke="#54278f" stroke-width="1.1" stroke-opacity="0.9"/>
<path d="M508.8 750.6C505.5 754.9 495.6 768.1 488.8 776.7C482.0 785.2 471.5 797.8 468.0 802.0" stroke="#54278f" stroke-width="1.27" stroke-opacity="0.9"/>
<path d="M505.3 767.1C502.0 769.8 491.7 777.5 485.5 783.3C479.3 789.1 470.9 798.9 468.0 802.0" stroke="#54278f" stroke-width="1.27" stroke-opacity="0.9"/>
<path d="M498.4 799.7C495.9 800.2 488.4 802.1 483.3 802.5C478.3 802.9 470.6 802.1 468.0 802.0" stroke="#54278f" stroke-width="1.7" stroke-opacity="0.9"/>
<path d="M488.9 778.3C487.4 780.5 483.5 787.6 480.0 791.5C476.5 795.5 470.0 800.3 468.0 802.0" stroke="#54278f" stroke-width="1.19" stroke-opacity="0.9"/>
<path d="M539.1 799.5C533.1 799.0 515.2 795.8 503.4 796.2C491.5 796.6 473.9 801.0 468.0 802.0" stroke="#54278f" stroke-width="1.27" stroke-opacity="0.9"/>
<path d="M408.1 819.5C413.4 819.1 430.0 820.3 440.0 817.3C450.0 814.4 463.3 804.6 468.0 802.0" stroke="#54278f" stroke-width="1.61" stroke-opacity="0.9"/>
<path d="M501.7 842.4C498.4 839.4 487.7 831.3 482.0 824.5C476.4 817.8 470.3 805.8 468.0 802.0" stroke="#54278f" stroke-width="1.61" stroke-opacity="0.9"/>
<path d="M486.8 866.7C486.5 860.9 488.0 843.0 484.9 832.2C481.7 821.4 470.8 807.0 468.0 802.0" stroke="#54278f" stroke-width="1.27" stroke-opacity="0.9"/>
<path d="M490.1 872.5C488.6 866.5 484.9 848.3 481.2 836.6C477.6 824.8 470.2 807.8 468.0 802.0" stroke="#54278f" stroke-width="1.53" stroke-opacity="0.9"/>
<path d="M511.2 889.5C506.2 882.9 488.1 864.6 480.9 850.0C473.7 835.4 470.2 810.0 468.0 802.0" stroke="#54278f" stroke-width="1.19" stroke-opacity="0.9"/>
<path d="M376.6 790.5C384.3 790.5 407.8 788.8 423.0 790.7C438.2 792.6 460.5 800.1 468.0 802.0" stroke="#54278f" stroke-width="1.02" stroke-opacity="0.9"/>
<path d="M401.0 868.4C407.4 863.7 428.1 851.0 439.2 840.0C450.4 828.9 463.2 808.3 468.0 802.0" stroke="#54278f" stroke-width="1.1" stroke-opacity="0.9"/>
<path d="M519.1 837.9C514.8 835.0 501.6 826.6 493.1 820.6C484.6 814.6 472.2 805.1 468.0 802.0" stroke="#54278f" stroke-width="1.1" stroke-opacity="0.9"/>
<path d="M495.4 872.7C493.5 866.7 488.7 848.2 484.1 836.4C479.6 824.6 470.7 807.7 468.0 802.0" stroke="#54278f" stroke-width="1.02" stroke-opacity="0.9"/>
<path d="M384.5 841.7C391.0 837.4 409.6 822.7 423.5 816.1C437.4 809.5 460.6 804.3 468.0 802.0" stroke="#54278f" stroke-width="1.1" stroke-opacity="0.9"/>
<path d="M459.6 868.0C461.3 862.6 468.5 846.8 469.9 835.8C471.3 824.8 468.3 807.6 468.0 802.0" stroke="#54278f" stroke-width="1.1" stroke-opacity="0.9"/>
<path d="M461.1 875.2C462.7 869.2 469.6 851.4 470.8 839.2C471.9 827.0 468.5 808.2 468.0 802.0" stroke="#54278f" stroke-width="1.44" stroke-opacity="0.9"/>
<path d="M437.0 874.6C441.0 869.2 455.9 854.0 461.0 841.9C466.2 829.8 466.8 808.7 468.0 802.0" stroke="#54278f" stroke-width="1.1" stroke-opacity="0.9"/>
<path d="M418.3 872.0C423.2 866.7 439.4 851.9 447.7 840.3C456.0 828.6 464.6 808.4 468.0 802.0" stroke="#54278f" stroke-width="1.19" stroke-opacity="0.9"/>
<path d="M420.2 853.5C423.3 848.4 430.9 831.4 438.8 822.9C446.8 814.3 463.1 805.5 468.0 802.0" stroke="#54278f" stroke-width="1.02" stroke-opacity="0.9"/>
<path d="M445.5 832.7C447.1 829.9 451.1 821.1 454.9 816.0C458.6 810.8 465.8 804.3 468.0 802.0" stroke="#54278f" stroke-width="1.36" stroke-opacity="0.9"/>
<path d="M486.8 866.7C483.7 870.8 474.7 883.2 468.4 891.3C462.1 899.3 452.2 911.0 449.0 915.0" stroke="#54278f" stroke-width="1.61" stroke-opacity="0.9"/>
<path d="M490.1 872.5C486.5 875.9 475.6 885.9 468.8 893.0C461.9 900.1 452.3 911.3 449.0 915.0" stroke="#54278f" stroke-width="1.53" stroke-opacity="0.9"/>
<path d="M511.2 889.5C506.4 892.5 492.6 903.2 482.2 907.4C471.9 911.7 454.5 913.7 449.0 915.0" stroke="#54278f" stroke-width="1.53" stroke-opacity="0.9"/>
<path d="M401.0 868.4C405.6 871.7 420.5 880.4 428.5 888.1C436.5 895.9 445.6 910.5 449.0 915.0" stroke="#54278f" stroke-width="1.44" stroke-opacity="0.9"/>
<path d="M495.4 872.7C490.8 875.4 475.4 881.8 467.6 888.8C459.9 895.9 452.1 910.6 449.0 915.0" stroke="#54278f" stroke-width="1.53" stroke-opacity="0.9"/>
<path d="M453.0 936.7C452.3 935.0 449.6 929.8 448.9 926.2C448.3 922.6 449.0 916.9 449.0 915.0" stroke="#54278f" stroke-width="0.94" stroke-opacity="0.9"/>
<path d="M459.6 868.0C458.3 871.8 453.8 883.1 452.0 891.0C450.2 898.8 449.5 911.0 449.0 915.0" stroke="#54278f" stroke-width="1.1" stroke-opacity="0.9"/>
<path d="M418.3 872.0C421.4 875.2 431.9 883.9 437.0 891.1C442.1 898.3 447.0 911.0 449.0 915.0" stroke="#54278f" stroke-width="1.44" stroke-opacity="0.9"/>
<path d="M420.2 853.5C423.3 858.3 433.8 872.1 438.6 882.4C443.4 892.6 447.3 909.6 449.0 915.0" stroke="#54278f" stroke-width="1.27" stroke-opacity="0.9"/>
<path d="M518.0 938.3C512.6 935.2 497.3 923.6 485.8 919.7C474.3 915.9 455.1 915.8 449.0 915.0" stroke="#54278f" stroke-width="1.1" stroke-opacity="0.9"/>
<path d="M419.2 935.5C421.5 933.5 428.0 927.0 433.0 923.6C437.9 920.2 446.3 916.4 449.0 915.0" stroke="#54278f" stroke-width="1.27" stroke-opacity="0.9"/>
<path d="M434.2 933.6C435.2 931.9 437.7 926.3 440.2 923.2C442.6 920.1 447.5 916.4 449.0 915.0" stroke="#54278f" stroke-width="1.19" stroke-opacity="0.9"/>
<path d="M492.6 935.0C488.9 933.6 477.4 929.8 470.1 926.4C462.9 923.1 452.5 916.9 449.0 915.0" stroke="#54278f" stroke-width="1.53" stroke-opacity="0.9"/>
<path d="M448.7 774.1C451.8 778.3 463.6 789.8 467.1 799.1C470.7 808.4 469.5 824.8 470.0 830.0" stroke="#54278f" stroke-width="1.02" stroke-opacity="0.9"/>
<path d="M439.3 823.5C441.8 824.3 449.3 826.9 454.4 828.0C459.5 829.1 467.4 829.7 470.0 830.0" stroke="#54278f" stroke-width="1.36" stroke-opacity="0.9"/>
<path d="M482.4 792.8C481.3 795.9 477.8 805.0 475.7 811.2C473.6 817.4 470.9 826.9 470.0 830.0" stroke="#54278f" stroke-width="1.53" stroke-opacity="0.9"/>
<path d="M501.7 842.4C499.1 841.1 491.7 836.9 486.4 834.9C481.1 832.8 472.7 830.8 470.0 830.0" stroke="#54278f" stroke-width="1.7" stroke-opacity="0.9"/>
<path d="M490.1 872.5C488.3 870.5 483.6 863.9 479.6 860.4C475.6 857.0 468.3 853.4 466.0 852.0" stroke="#54278f" stroke-width="1.02" stroke-opacity="0.9"/>
<path d="M511.2 889.5C507.8 885.9 498.4 874.3 490.8 868.1C483.3 861.8 470.1 854.7 466.0 852.0" stroke="#54278f" stroke-width="1.36" stroke-opacity="0.9"/>
<path d="M463.0 892.5C462.1 887.1 456.2 870.6 457.3 860.2C458.5 849.8 467.9 835.0 470.0 830.0" stroke="#54278f" stroke-width="1.19" stroke-opacity="0.9"/>
<path d="M419.4 828.0C423.6 827.3 436.5 823.7 444.9 824.0C453.3 824.3 465.8 829.0 470.0 830.0" stroke="#54278f" stroke-width="1.61" stroke-opacity="0.9"/>
<path d="M519.1 837.9C515.0 837.4 502.6 836.3 494.4 835.0C486.2 833.7 474.1 830.8 470.0 830.0" stroke="#54278f" stroke-width="1.53" stroke-opacity="0.9"/>
<path d="M495.4 872.7C493.3 869.1 486.9 858.5 482.7 851.4C478.4 844.3 472.1 833.6 470.0 830.0" stroke="#54278f" stroke-width="1.61" stroke-opacity="0.9"/>
<path d="M399.7 850.5C405.2 849.5 421.9 844.4 433.0 844.7C444.0 844.9 460.5 850.8 466.0 852.0" stroke="#54278f" stroke-width="1.36" stroke-opacity="0.9"/>
<path d="M459.6 868.0C459.6 864.6 457.7 853.9 459.5 847.5C461.2 841.2 468.2 832.9 470.0 830.0" stroke="#54278f" stroke-width="1.61" stroke-opacity="0.9"/>
<path d="M459.6 868.0C458.5 871.0 454.4 879.8 453.0 886.0C451.6 892.1 451.3 901.8 451.0 905.0" stroke="#54278f" stroke-width="1.44" stroke-opacity="0.9"/>
<path d="M461.1 875.2C460.8 877.9 461.0 886.2 459.3 891.2C457.6 896.2 452.4 902.7 451.0 905.0" stroke="#54278f" stroke-width="1.36" stroke-opacity="0.9"/>
<path d="M437.0 874.6C440.5 871.4 452.4 863.0 457.9 855.6C463.4 848.1 468.0 834.3 470.0 830.0" stroke="#54278f" stroke-width="1.19" stroke-opacity="0.9"/>
<path d="M437.0 874.6C438.9 872.1 443.6 863.1 448.4 859.4C453.3 855.6 463.1 853.2 466.0 852.0" stroke="#54278f" stroke-width="1.44" stroke-opacity="0.9"/>
<path d="M420.2 853.5C424.3 851.5 436.6 845.3 444.9 841.4C453.2 837.5 465.8 831.9 470.0 830.0" stroke="#54278f" stroke-width="1.1" stroke-opacity="0.9"/>
<path d="M420.2 853.5C424.0 853.3 435.5 852.6 443.1 852.4C450.7 852.1 462.2 852.1 466.0 852.0" stroke="#54278f" stroke-width="1.53" stroke-opacity="0.9"/>
<path d="M420.2 853.5C423.7 855.4 434.7 860.4 441.0 865.2C447.3 869.9 455.2 879.2 458.0 882.0" stroke="#54278f" stroke-width="1.27" stroke-opacity="0.9"/>
<path d="M435.5 912.1C439.3 907.8 453.5 896.0 458.5 886.0C463.6 876.0 464.8 857.7 466.0 852.0" stroke="#54278f" stroke-width="1.53" stroke-opacity="0.9"/>
<path d="M435.5 912.1C437.3 909.5 442.6 901.8 446.3 896.7C450.1 891.7 456.1 884.5 458.0 882.0" stroke="#54278f" stroke-width="1.44" stroke-opacity="0.9"/>
<path d="M475.3 967.2C474.0 961.7 471.3 944.8 467.3 934.5C463.2 924.1 453.7 909.9 451.0 905.0" stroke="#54278f" stroke-width="1.61" stroke-opacity="0.9"/>
<path d="M440.5 947.1C443.3 942.0 454.1 927.5 457.1 916.6C460.0 905.8 457.8 887.8 458.0 882.0" stroke="#54278f" stroke-width="1.7" stroke-opacity="0.9"/>
<path d="M425.4 701.3C419.5 704.0 399.4 709.2 390.0 717.3C380.6 725.4 372.5 744.6 369.0 750.0" stroke="#54278f" stroke-width="1.1" stroke-opacity="0.9"/>
<path d="M409.7 712.5C406.4 715.8 396.9 725.9 390.1 732.1C383.4 738.4 372.5 747.0 369.0 750.0" stroke="#54278f" stroke-width="1.36" stroke-opacity="0.9"/>
<path d="M409.7 712.5C408.7 718.7 409.1 739.1 403.5 749.5C397.8 759.9 380.6 770.7 376.0 775.0" stroke="#54278f" stroke-width="0.94" stroke-opacity="0.9"/>
<path d="M347.6 710.3C350.6 715.4 360.9 730.2 365.6 741.0C370.4 751.7 374.3 769.3 376.0 775.0" stroke="#54278f" stroke-width="1.02" stroke-opacity="0.9"/>
<path d="M375.7 719.7C375.1 722.2 373.3 729.8 372.2 734.8C371.1 739.9 369.5 747.5 369.0 750.0" stroke="#54278f" stroke-width="1.44" stroke-opacity="0.9"/>
<path d="M368.8 735.0C368.9 738.4 367.9 748.9 369.1 755.6C370.3 762.3 374.9 771.8 376.0 775.0" stroke="#54278f" stroke-width="1.27" stroke-opacity="0.9"/>
<path d="M430.4 732.8C425.4 734.7 410.7 741.2 400.4 744.0C390.2 746.9 374.2 749.0 369.0 750.0" stroke="#54278f" stroke-width="1.44" stroke-opacity="0.9"/>
<path d="M430.4 732.8C425.0 735.2 406.9 740.0 397.9 747.0C388.8 754.1 379.6 770.3 376.0 775.0" stroke="#54278f" stroke-width="1.27" stroke-opacity="0.9"/>
<path d="M422.7 754.0C418.8 755.6 406.9 760.4 399.1 763.9C391.3 767.4 379.8 773.1 376.0 775.0" stroke="#54278f" stroke-width="1.27" stroke-opacity="0.9"/>
<path d="M422.7 754.0C417.4 757.4 398.3 765.1 390.9 774.4C383.4 783.8 380.1 804.1 378.0 810.0" stroke="#54278f" stroke-width="1.19" stroke-opacity="0.9"/>
<path d="M304.0 774.7C310.1 774.4 329.7 777.2 340.6 773.0C351.4 768.9 364.3 753.8 369.0 750.0" stroke="#54278f" stroke-width="1.1" stroke-opacity="0.9"/>
<path d="M410.8 793.5C406.5 790.6 392.1 783.5 385.2 776.3C378.2 769.0 371.7 754.4 369.0 750.0" stroke="#54278f" stroke-width="1.19" stroke-opacity="0.9"/>
<path d="M410.8 793.5C407.8 792.1 398.6 788.4 392.8 785.3C387.0 782.3 378.8 776.7 376.0 775.0" stroke="#54278f" stroke-width="1.02" stroke-opacity="0.9"/>
<path d="M410.8 793.5C407.9 794.6 399.1 797.4 393.6 800.2C388.2 802.9 380.6 808.4 378.0 810.0" stroke="#54278f" stroke-width="1.27" stroke-opacity="0.9"/>
<path d="M439.3 823.5C434.4 821.5 420.0 813.7 409.8 811.4C399.6 809.2 383.3 810.2 378.0 810.0" stroke="#54278f" stroke-width="1.44" stroke-opacity="0.9"/>
<path d="M408.1 819.5C406.8 814.8 405.4 798.9 400.0 791.5C394.7 784.1 380.0 777.7 376.0 775.0" stroke="#54278f" stroke-width="1.02" stroke-opacity="0.9"/>
<path d="M419.4 828.0C415.5 823.8 403.1 811.9 395.8 803.0C388.6 794.2 379.3 779.7 376.0 775.0" stroke="#54278f" stroke-width="0.94" stroke-opacity="0.9"/>
<path d="M419.4 828.0C416.1 826.0 406.8 819.3 399.9 816.3C393.0 813.3 381.6 811.0 378.0 810.0" stroke="#54278f" stroke-width="1.53" stroke-opacity="0.9"/>
<path d="M375.6 862.9C376.3 864.7 379.6 870.0 379.8 873.7C380.0 877.4 377.5 883.1 377.0 885.0" stroke="#54278f" stroke-width="1.19" stroke-opacity="0.9"/>
<path d="M376.6 790.5C376.5 789.2 376.2 785.3 376.1 782.8C376.0 780.2 376.0 776.3 376.0 775.0" stroke="#54278f" stroke-width="1.19" stroke-opacity="0.9"/>
<path d="M376.6 790.5C376.1 795.5 373.1 810.5 373.5 820.4C373.9 830.3 378.1 845.1 379.0 850.0" stroke="#54278f" stroke-width="1.02" stroke-opacity="0.9"/>
<path d="M364.7 917.2C367.5 911.9 379.0 896.8 381.4 885.6C383.7 874.4 379.4 855.9 379.0 850.0" stroke="#54278f" stroke-width="1.36" stroke-opacity="0.9"/>
<path d="M384.5 841.7C384.1 839.0 383.5 830.9 382.4 825.6C381.3 820.3 378.7 812.6 378.0 810.0" stroke="#54278f" stroke-width="1.53" stroke-opacity="0.9"/>
<path d="M413.1 895.8C410.2 894.6 401.7 890.1 395.7 888.3C389.7 886.5 380.1 885.6 377.0 885.0" stroke="#54278f" stroke-width="1.27" stroke-opacity="0.9"/>
<path d="M435.5 912.1C431.4 908.1 420.9 892.5 411.1 888.0C401.4 883.5 382.7 885.5 377.0 885.0" stroke="#54278f" stroke-width="1.36" stroke-opacity="0.9"/>
<path d="M332.8 907.8C336.6 906.2 348.5 902.0 355.8 898.2C363.2 894.4 373.5 887.2 377.0 885.0" stroke="#54278f" stroke-width="1.1" stroke-opacity="0.9"/>
<path d="M386.7 937.1C385.1 932.9 378.8 920.6 377.2 911.9C375.6 903.2 377.0 889.5 377.0 885.0" stroke="#54278f" stroke-width="1.27" stroke-opacity="0.9"/>
<path d="M361.7 868.3C363.4 863.5 369.2 849.4 371.9 839.7C374.6 830.0 377.0 815.0 378.0 810.0" stroke="#54278f" stroke-width="0.94" stroke-opacity="0.9"/>
<path d="M359.5 832.4C360.8 830.3 363.9 823.5 367.0 819.8C370.1 816.0 376.2 811.6 378.0 810.0" stroke="#54278f" stroke-width="1.27" stroke-opacity="0.9"/>
<path d="M350.7 893.0C354.1 890.1 366.3 882.7 371.0 875.6C375.7 868.4 377.7 854.3 379.0 850.0" stroke="#54278f" stroke-width="0.94" stroke-opacity="0.9"/>
</g><g>
<circle cx="356.4" cy="600.9" r="2.2" fill="#fdb462"/>
<circle cx="409.7" cy="595.4" r="2.2" fill="#fdb462"/>
<circle cx="333.5" cy="670.5" r="2.2" fill="#f781bf"/>
<circle cx="345.3" cy="688.0" r="2.2" fill="#f781bf"/>
<circle cx="390.3" cy="678.1" r="2.2" fill="#fdb462"/>
<circle cx="494.4" cy="684.0" r="2.2" fill="#fdb462"/>
<circle cx="425.4" cy="701.3" r="2.7" fill="#80b1d3"/>
<circle cx="456.7" cy="707.0" r="2.7" fill="#80b1d3"/>
<circle cx="409.7" cy="712.5" r="3.1" fill="#fdb462"/>
<circle cx="347.6" cy="710.3" r="2.7" fill="#fdb462"/>
<circle cx="375.7" cy="719.7" r="3.6" fill="#80b1d3"/>
<circle cx="308.8" cy="691.1" r="2.2" fill="#f781bf"/>
<circle cx="353.5" cy="734.2" r="2.2" fill="#80b1d3"/>
<circle cx="368.8" cy="735.0" r="2.2" fill="#f781bf"/>
<circle cx="402.2" cy="736.0" r="2.7" fill="#fdb462"/>
<circle cx="430.4" cy="732.8" r="2.7" fill="#fdb462"/>
<circle cx="279.5" cy="743.8" r="2.2" fill="#8dd3c7"/>
<circle cx="422.7" cy="754.0" r="2.2" fill="#80b1d3"/>
<circle cx="354.7" cy="765.1" r="2.2" fill="#f781bf"/>
<circle cx="304.0" cy="774.7" r="2.7" fill="#fdb462"/>
<circle cx="389.2" cy="773.2" r="2.7" fill="#bc80bd"/>
<circle cx="408.1" cy="782.1" r="2.2" fill="#80b1d3"/>
<circle cx="490.8" cy="737.6" r="2.2" fill="#fdb462"/>
<circle cx="448.7" cy="774.1" r="2.2" fill="#80b1d3"/>
<circle cx="410.8" cy="793.5" r="2.2" fill="#80b1d3"/>
<circle cx="438.2" cy="796.0" r="2.2" fill="#80b1d3"/>
<circle cx="439.3" cy="823.5" r="2.7" fill="#80b1d3"/>
<circle cx="488.6" cy="728.8" r="3.1" fill="#4daf4a"/>
<circle cx="508.8" cy="750.6" r="5.4" fill="#4daf4a"/>
<circle cx="465.3" cy="760.6" r="2.7" fill="#4daf4a"/>
<circle cx="505.3" cy="767.1" r="3.6" fill="#4daf4a"/>
<circle cx="482.4" cy="792.8" r="2.7" fill="#4daf4a"/>
<circle cx="498.4" cy="799.7" r="4.0" fill="#4daf4a"/>
<circle cx="488.4" cy="802.4" r="2.7" fill="#4daf4a"/>
<circle cx="448.5" cy="814.4" r="5.4" fill="#4daf4a"/>
<circle cx="474.5" cy="811.7" r="2.7" fill="#4daf4a"/>
<circle cx="471.9" cy="828.5" r="5.4" fill="#4daf4a"/>
<circle cx="488.9" cy="778.3" r="2.2" fill="#a65628"/>
<circle cx="539.1" cy="799.5" r="2.2" fill="#a65628"/>
<circle cx="460.0" cy="820.8" r="2.2" fill="#a65628"/>
<circle cx="408.1" cy="819.5" r="3.6" fill="#a65628"/>
<circle cx="501.7" cy="842.4" r="2.2" fill="#a65628"/>
<circle cx="565.3" cy="851.0" r="4.0" fill="#a65628"/>
<circle cx="486.8" cy="866.7" r="2.2" fill="#a65628"/>
<circle cx="490.1" cy="872.5" r="2.2" fill="#a65628"/>
<circle cx="511.2" cy="889.5" r="3.1" fill="#a65628"/>
<circle cx="463.0" cy="892.5" r="2.2" fill="#a65628"/>
<circle cx="419.4" cy="828.0" r="3.1" fill="#f781bf"/>
<circle cx="360.3" cy="796.5" r="3.6" fill="#f781bf"/>
<circle cx="342.3" cy="813.1" r="2.2" fill="#f781bf"/>
<circle cx="375.6" cy="862.9" r="2.2" fill="#f781bf"/>
<circle cx="376.6" cy="790.5" r="2.2" fill="#f781bf"/>
<circle cx="401.0" cy="868.4" r="3.1" fill="#fccde5"/>
<circle cx="588.6" cy="815.4" r="2.2" fill="#ccebc5"/>
<circle cx="653.0" cy="847.8" r="2.2" fill="#ccebc5"/>
<circle cx="564.7" cy="867.0" r="2.2" fill="#ccebc5"/>
<circle cx="618.8" cy="884.2" r="2.2" fill="#ccebc5"/>
<path d="M519.1 833.2L523.8 837.9L519.1 842.6L514.4 837.9Z" fill="#ff7f00"/>
<circle cx="512.4" cy="858.8" r="4.0" fill="#ff7f00"/>
<circle cx="545.5" cy="917.4" r="2.7" fill="#ff7f00"/>
<circle cx="441.5" cy="966.4" r="5.0" fill="#ff7f00"/>
<circle cx="524.8" cy="972.4" r="2.7" fill="#ff7f00"/>
<circle cx="584.6" cy="940.6" r="2.7" fill="#ff7f00"/>
<circle cx="495.4" cy="872.7" r="2.7" fill="#ffffb3"/>
<circle cx="364.7" cy="917.2" r="2.2" fill="#ffffb3"/>
<circle cx="384.5" cy="841.7" r="2.2" fill="#ffffb3"/>
<circle cx="399.7" cy="850.5" r="2.2" fill="#ffffb3"/>
<circle cx="388.0" cy="927.1" r="2.2" fill="#ffffb3"/>
<circle cx="453.0" cy="936.7" r="2.2" fill="#ffffb3"/>
<circle cx="517.5" cy="985.6" r="2.2" fill="#ffffb3"/>
<circle cx="529.1" cy="907.8" r="2.2" fill="#999999"/>
<circle cx="481.0" cy="897.0" r="2.2" fill="#999999"/>
<circle cx="459.6" cy="868.0" r="2.2" fill="#999999"/>
<circle cx="461.1" cy="875.2" r="2.2" fill="#999999"/>
<circle cx="437.0" cy="874.6" r="2.2" fill="#999999"/>
<circle cx="418.3" cy="872.0" r="3.1" fill="#999999"/>
<circle cx="420.2" cy="853.5" r="2.2" fill="#d9d9d9"/>
<circle cx="445.5" cy="832.7" r="2.2" fill="#999999"/>
<circle cx="413.1" cy="895.8" r="2.2" fill="#d9d9d9"/>
<circle cx="435.5" cy="912.1" r="3.1" fill="#999999"/>
<circle cx="518.0" cy="938.3" r="2.2" fill="#d9d9d9"/>
<circle cx="419.2" cy="935.5" r="1.8" fill="#d9d9d9"/>
<circle cx="434.2" cy="933.6" r="1.8" fill="#d9d9d9"/>
<circle cx="453.9" cy="1014.5" r="2.2" fill="#d9d9d9"/>
<circle cx="463.2" cy="935.1" r="2.2" fill="#fb8072"/>
<circle cx="492.6" cy="935.0" r="2.2" fill="#fb8072"/>
<circle cx="475.3" cy="967.2" r="2.2" fill="#fb8072"/>
<circle cx="538.4" cy="961.9" r="2.2" fill="#fb8072"/>
<circle cx="444.0" cy="1050.1" r="2.2" fill="#fb8072"/>
<circle cx="200.8" cy="864.0" r="4.5" fill="#377eb8"/>
<circle cx="262.7" cy="849.3" r="3.1" fill="#377eb8"/>
<rect x="228.0" y="886.0" width="8.3" height="8.3" fill="#377eb8"/>
<circle cx="266.6" cy="891.6" r="2.7" fill="#ffff33"/>
<circle cx="290.1" cy="910.5" r="4.5" fill="#ffff33"/>
<circle cx="244.5" cy="918.2" r="3.6" fill="#ffff33"/>
<circle cx="332.8" cy="907.8" r="3.1" fill="#ffff33"/>
<circle cx="419.0" cy="919.3" r="4.5" fill="#ffff33"/>
<circle cx="386.7" cy="937.1" r="5.0" fill="#ffff33"/>
<circle cx="440.5" cy="947.1" r="4.0" fill="#ffff33"/>
<circle cx="481.6" cy="984.8" r="4.0" fill="#ffff33"/>
<circle cx="309.8" cy="948.8" r="5.0" fill="#ffff33"/>
<rect x="302.4" y="977.3" width="7.5" height="7.5" fill="#ffff33"/>
<circle cx="355.3" cy="812.9" r="2.2" fill="#bebada"/>
<circle cx="281.6" cy="838.2" r="2.2" fill="#bebada"/>
<circle cx="313.5" cy="837.0" r="2.2" fill="#bebada"/>
<circle cx="244.5" cy="849.3" r="1.8" fill="#bebada"/>
<circle cx="259.5" cy="816.0" r="1.8" fill="#bebada"/>
<circle cx="297.3" cy="823.9" r="1.8" fill="#bebada"/>
<circle cx="279.0" cy="913.1" r="1.8" fill="#bebada"/>
<circle cx="361.7" cy="868.3" r="2.7" fill="#984ea3"/>
<circle cx="317.3" cy="880.6" r="2.7" fill="#bc80bd"/>
<circle cx="359.5" cy="832.4" r="2.2" fill="#bc80bd"/>
<circle cx="350.7" cy="893.0" r="2.7" fill="#984ea3"/>
<circle cx="361.8" cy="902.5" r="2.7" fill="#984ea3"/>
<circle cx="370.4" cy="945.3" r="2.2" fill="#984ea3"/>
<circle cx="389.3" cy="973.4" r="2.2" fill="#984ea3"/>
<circle cx="330.4" cy="972.4" r="2.2" fill="#984ea3"/>
<circle cx="378.6" cy="1007.0" r="2.7" fill="#984ea3"/>
<circle cx="406.9" cy="1037.0" r="2.2" fill="#984ea3"/>
<rect x="337.7" y="982.2" width="8.3" height="8.3" fill="#984ea3"/>
<circle cx="145.2" cy="944.9" r="2.2" fill="#b3de69"/>
<circle cx="200.6" cy="948.0" r="2.2" fill="#b3de69"/>
<circle cx="232.1" cy="939.7" r="2.2" fill="#b3de69"/>
<circle cx="161.9" cy="981.0" r="2.2" fill="#b3de69"/>
<circle cx="212.6" cy="980.4" r="2.2" fill="#b3de69"/>
<circle cx="133.5" cy="1002.8" r="2.2" fill="#b3de69"/>
<circle cx="168.3" cy="1025.7" r="2.2" fill="#b3de69"/>
<circle cx="251.1" cy="1030.4" r="2.2" fill="#b3de69"/>
<circle cx="253.2" cy="1006.5" r="5.4" fill="#e41a1c"/>
<path d="M276.1 990.5L280.2 994.6L276.1 998.7L272.0 994.6Z" fill="#e41a1c"/>
<circle cx="289.7" cy="1013.4" r="4.5" fill="#e41a1c"/>
<circle cx="208.6" cy="1041.4" r="2.7" fill="#e41a1c"/>
<circle cx="242.3" cy="1053.5" r="2.7" fill="#e41a1c"/>
<circle cx="304.6" cy="1054.4" r="3.1" fill="#e41a1c"/>
<circle cx="281.4" cy="1071.3" r="2.7" fill="#e41a1c"/>
<circle cx="207.4" cy="1077.2" r="2.7" fill="#e41a1c"/>
<circle cx="232.1" cy="1106.5" r="2.7" fill="#e41a1c"/>
<circle cx="272.2" cy="1105.5" r="2.7" fill="#e41a1c"/>
</g></g>
</svg>
<div class="abs panel" style="left:5.4px;top:1.3px;transform:scaleX(1.07);transform-origin:left top;">A</div>
<div class="abs panel" style="left:25.8px;top:586.7px;font-size:37.3px;transform:scaleX(0.95);transform-origin:left top;">B</div>
<div class="abs dv" id="ylabels"><div>hsa04148: Efferocytosis</div><div>GO:0006898: receptor-mediated endocytosis</div><div>GO:0001568: blood vessel development</div><div>GO:0009617: response to bacterium</div><div>GO:0006954: inflammatory response</div><div>GO:0001775: cell activation</div><div>GO:0043542: endothelial cell migration</div><div>WP5323: Fatty acid and lipoprotein transport in hepatocytes</div><div>GO:0036005: response to macrophage colony-stimulating factor</div><div>WP3945: TYROBP causal network in microglia</div><div>GO:0043523: regulation of neuron apoptotic process</div><div>GO:0044403: biological process involved in symbiotic interaction</div><div>M195: PID CMYB PATHWAY</div><div>GO:0003013: circulatory system process</div><div>GO:0060840: artery development</div><div>GO:0002478: antigen processing and presentation of exogenous peptide antigen</div><div>GO:0008285: negative regulation of cell population proliferation</div><div>WP5115: Network map of SARS CoV 2 signaling</div><div>GO:0050727: regulation of inflammatory response</div><div>GO:0032835: glomerulus development</div></div>
<div class="abs dv tick" style="left:77.2px;top:540px;">0</div>
<div class="abs dv tick" style="left:205.3px;top:540px;">2</div>
<div class="abs dv tick" style="left:333.5px;top:540px;">4</div>
<div class="abs dv tick" style="left:461.6px;top:540px;">6</div>
<div class="abs dv tick" style="left:589.8px;top:540px;">8</div>
<div class="abs dv tick" style="left:717.9px;top:540px;">10</div>
<div class="abs dv" style="left:403.8px;top:567.9px;transform:translateX(-50%);">-log10(P)</div>
<div class="abs" id="cbarbox" style="left:701px;top:617.8px;width:30.5px;height:176.9px;box-shadow:0 0 0 1px rgba(110,100,80,0.55);"><div style="height:29.48px;background:#ffffe5;box-shadow:inset 0 -1px 0 rgba(90,60,20,0.35)"></div><div style="height:29.48px;background:#fee391;box-shadow:inset 0 -1px 0 rgba(90,60,20,0.35)"></div><div style="height:29.48px;background:#fec44f;box-shadow:inset 0 -1px 0 rgba(90,60,20,0.35)"></div><div style="height:29.48px;background:#fe9929;box-shadow:inset 0 -1px 0 rgba(90,60,20,0.35)"></div><div style="height:29.48px;background:#d95f0e;box-shadow:inset 0 -1px 0 rgba(90,60,20,0.35)"></div><div style="height:29.48px;background:#993404;box-shadow:inset 0 -1px 0 rgba(90,60,20,0.35)"></div></div>
<div class="abs" style="left:740.2px;top:622.9px;font-size:16.5px;line-height:20px;color:#222">10<sup style="font-size:11.2px;line-height:0;position:relative;top:0;vertical-align:3.6px;letter-spacing:-0.1px">-2</sup></div>
<div class="abs" style="left:740.2px;top:651.7px;font-size:16.5px;line-height:20px;color:#222">10<sup style="font-size:11.2px;line-height:0;position:relative;top:0;vertical-align:3.6px;letter-spacing:-0.1px">-3</sup></div>
<div class="abs" style="left:740.2px;top:680.5px;font-size:16.5px;line-height:20px;color:#222">10<sup style="font-size:11.2px;line-height:0;position:relative;top:0;vertical-align:3.6px;letter-spacing:-0.1px">-4</sup></div>
<div class="abs" style="left:740.2px;top:709.3px;font-size:16.5px;line-height:20px;color:#222">10<sup style="font-size:11.2px;line-height:0;position:relative;top:0;vertical-align:3.6px;letter-spacing:-0.1px">-6</sup></div>
<div class="abs" style="left:740.2px;top:738.1px;font-size:16.5px;line-height:20px;color:#222">10<sup style="font-size:11.2px;line-height:0;position:relative;top:0;vertical-align:3.6px;letter-spacing:-0.1px">-10</sup></div>
<div class="abs" style="left:740.2px;top:766.9px;font-size:16.5px;line-height:20px;color:#222">10<sup style="font-size:11.2px;line-height:0;position:relative;top:0;vertical-align:3.6px;letter-spacing:-0.1px">-20</sup></div>
<div class="abs" id="legend"><div><i style="background:#e41a1c"></i>Efferocytosis</div><div><i style="background:#377eb8"></i>receptor-mediated endocytosis</div><div><i style="background:#4daf4a"></i>blood vessel development</div><div><i style="background:#984ea3"></i>response to bacterium</div><div><i style="background:#ff7f00"></i>inflammatory response</div><div><i style="background:#ffff33"></i>cell activation</div><div><i style="background:#a65628"></i>endothelial cell migration</div><div><i style="background:#f781bf"></i>Fatty acid and lipoprotein transport in hepatocytes</div><div><i style="background:#999999"></i>response to macrophage colony-stimulating factor</div><div><i style="background:#8dd3c7"></i>TYROBP causal network in microglia</div><div><i style="background:#ffffb3"></i>regulation of neuron apoptotic process</div><div><i style="background:#bebada"></i>biological process involved in symbiotic interaction</div><div><i style="background:#fb8072"></i>PID CMYB PATHWAY</div><div><i style="background:#80b1d3"></i>circulatory system process</div><div><i style="background:#fdb462"></i>artery development</div><div><i style="background:#b3de69"></i>antigen processing and presentation of exogenous peptide antigen</div><div><i style="background:#fccde5"></i>negative regulation of cell population proliferation</div><div><i style="background:#d9d9d9"></i>Network map of SARS CoV 2 signaling</div><div><i style="background:#bc80bd"></i>regulation of inflammatory response</div><div><i style="background:#ccebc5"></i>glomerulus development</div></div>
</body></html>
